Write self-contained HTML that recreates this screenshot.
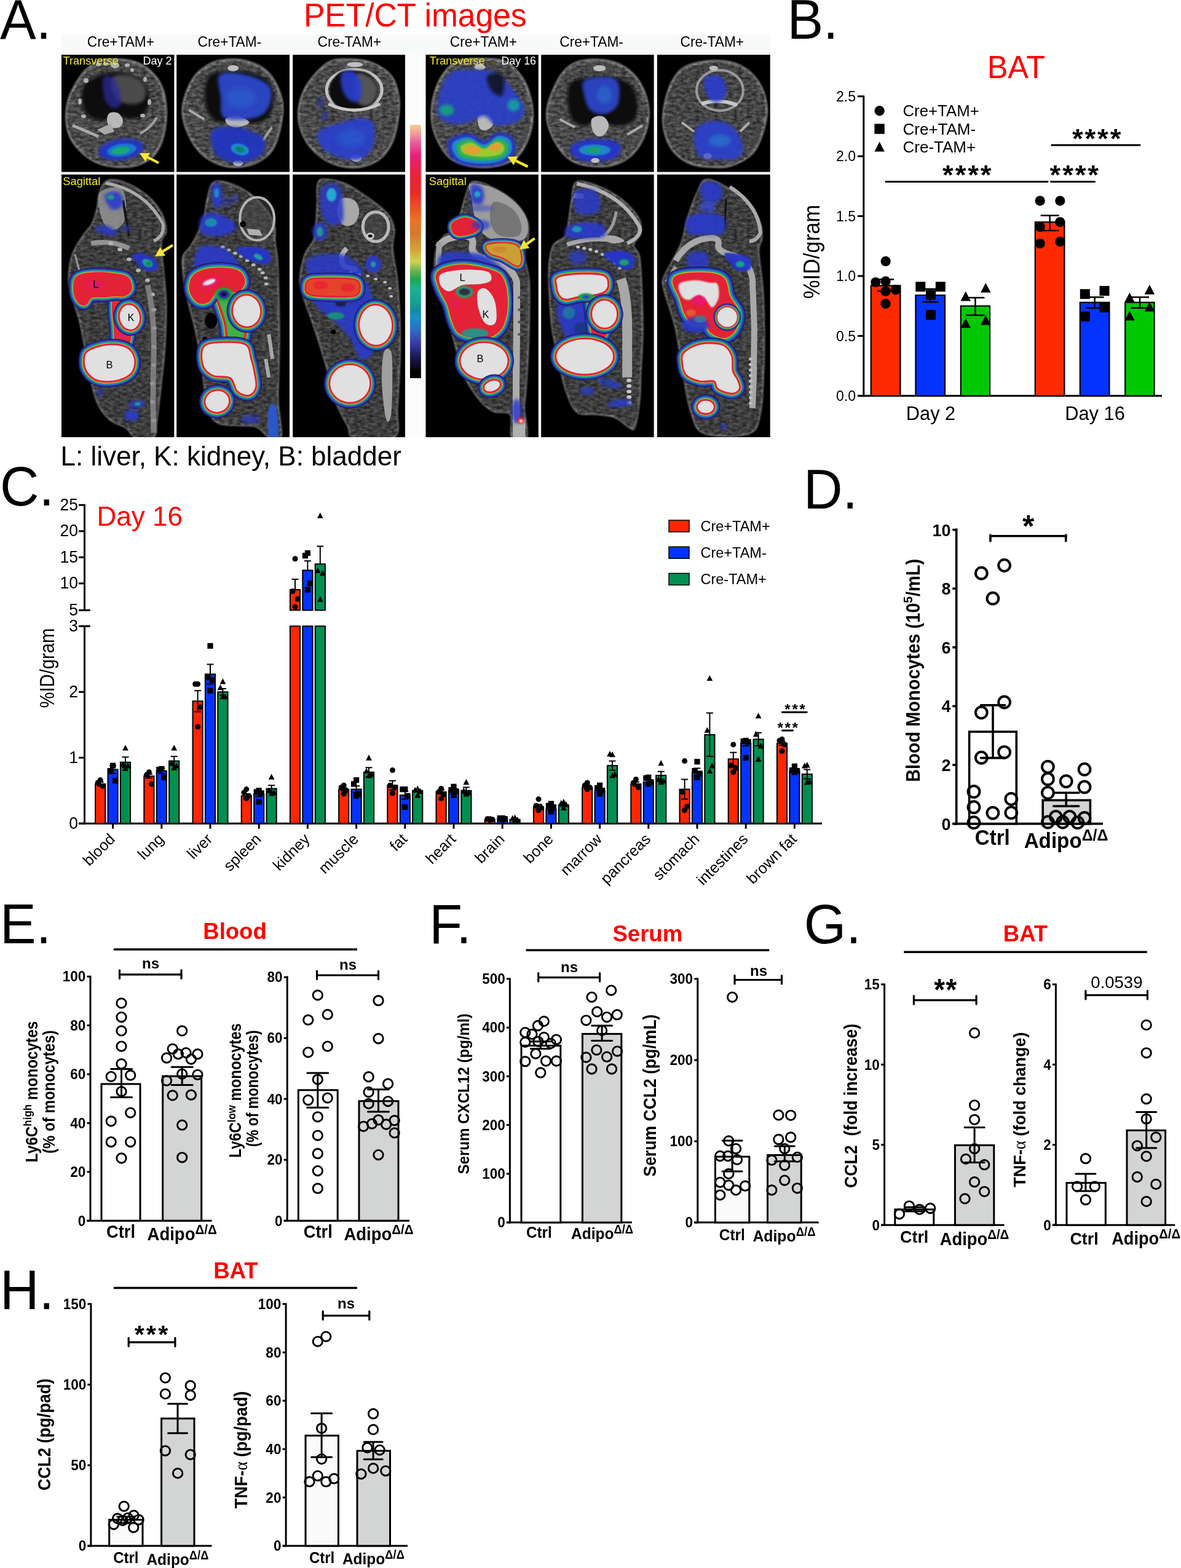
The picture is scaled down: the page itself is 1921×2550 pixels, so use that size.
<!DOCTYPE html>
<html><head><meta charset="utf-8"><title>Figure</title>
<style>html,body{margin:0;padding:0;background:#fff;}svg{display:block;}</style></head>
<body><svg width="1921" height="2550" viewBox="0 0 1921 2550" font-family="'Liberation Sans', Arial, Helvetica, sans-serif">
<defs>
<filter id="b05" x="-100%" y="-100%" width="300%" height="300%"><feGaussianBlur stdDeviation="0.7"/></filter>
<filter id="b1" x="-100%" y="-100%" width="300%" height="300%"><feGaussianBlur stdDeviation="1.2"/></filter>
<filter id="b2" x="-100%" y="-100%" width="300%" height="300%"><feGaussianBlur stdDeviation="2.5"/></filter>
<filter id="b4" x="-100%" y="-100%" width="300%" height="300%"><feGaussianBlur stdDeviation="4"/></filter>
<filter id="b6" x="-100%" y="-100%" width="300%" height="300%"><feGaussianBlur stdDeviation="6"/></filter>
<filter id="tex" x="0" y="0" width="100%" height="100%">
  <feTurbulence type="fractalNoise" baseFrequency="0.35" numOctaves="2" seed="3" result="n"/>
  <feColorMatrix in="n" type="matrix" values="0 0 0 0 0.5  0 0 0 0 0.5  0 0 0 0 0.5  0 0 0 0.9 -0.25" result="g"/>
  <feComposite in="g" in2="SourceGraphic" operator="in" result="gi"/>
  <feBlend in="gi" in2="SourceGraphic" mode="overlay"/>
</filter>
<filter id="noise" x="0" y="0" width="100%" height="100%" filterUnits="objectBoundingBox" color-interpolation-filters="sRGB">
  <feTurbulence type="fractalNoise" baseFrequency="0.13 0.22" numOctaves="3" seed="11" result="t"/>
  <feColorMatrix in="t" type="matrix" values="1 0 0 0 0  1 0 0 0 0  1 0 0 0 0  0 0 0 0 1"/>
</filter>
<linearGradient id="cbar" x1="0" y1="0" x2="0" y2="1">
  <stop offset="0" stop-color="#f7cf8e"/>
  <stop offset="0.03" stop-color="#f4a39a"/>
  <stop offset="0.07" stop-color="#ea5f9c"/>
  <stop offset="0.12" stop-color="#e8217a"/>
  <stop offset="0.19" stop-color="#e8243c"/>
  <stop offset="0.27" stop-color="#e82a28"/>
  <stop offset="0.33" stop-color="#ea5424"/>
  <stop offset="0.38" stop-color="#ec7424"/>
  <stop offset="0.43" stop-color="#d4782e"/>
  <stop offset="0.49" stop-color="#d4a032"/>
  <stop offset="0.54" stop-color="#cad650"/>
  <stop offset="0.575" stop-color="#6cb452"/>
  <stop offset="0.61" stop-color="#1ea64e"/>
  <stop offset="0.645" stop-color="#1cb48e"/>
  <stop offset="0.7" stop-color="#14a096"/>
  <stop offset="0.735" stop-color="#148c9e"/>
  <stop offset="0.76" stop-color="#1890c8"/>
  <stop offset="0.8" stop-color="#2a74c8"/>
  <stop offset="0.84" stop-color="#3a4eb2"/>
  <stop offset="0.88" stop-color="#2e2e8e"/>
  <stop offset="0.92" stop-color="#1c164e"/>
  <stop offset="0.955" stop-color="#0e0c22"/>
  <stop offset="0.97" stop-color="#000"/>
  <stop offset="1" stop-color="#000"/>
</linearGradient>
</defs>
<rect width="1921" height="2550" fill="#fff"/>
<text x="0" y="62.7" font-size="88" transform="translate(0 -2.5) scale(1 1.04)">A.</text><text x="494" y="43" font-size="51.5" fill="#ff0000" transform="translate(0 -1.7) scale(1 1.04)">PET/CT images</text><rect x="100" y="56" width="1153" height="655" fill="#f8f9f9"/><rect x="659" y="89" width="34" height="622" fill="#fbfcfc"/><text x="196.4" y="75.9" font-size="22.7" text-anchor="middle" transform="translate(0 -3) scale(1 1.04)">Cre+TAM+</text><text x="373.4" y="75.9" font-size="22.7" text-anchor="middle" transform="translate(0 -3) scale(1 1.04)">Cre+TAM-</text><text x="568.3" y="75.9" font-size="22.7" text-anchor="middle" transform="translate(0 -3) scale(1 1.04)">Cre-TAM+</text><text x="786.4" y="75.9" font-size="22.7" text-anchor="middle" transform="translate(0 -3) scale(1 1.04)">Cre+TAM+</text><text x="962.1" y="75.9" font-size="22.7" text-anchor="middle" transform="translate(0 -3) scale(1 1.04)">Cre+TAM-</text><text x="1158.3" y="75.9" font-size="22.7" text-anchor="middle" transform="translate(0 -3) scale(1 1.04)">Cre-TAM+</text><clipPath id="ct0"><rect x="100" y="89" width="183.3" height="190.6"/></clipPath><rect x="100" y="89" width="183.3" height="190.6" fill="#000"/><g clip-path="url(#ct0)"><g transform="translate(100 89)"><path d="M62,10 C71.2,7.2 84.5,7.3 95,8 C105.5,8.7 115.8,10 125,14 C134.2,18 143.3,24.7 150,32 C156.7,39.3 161.7,48.3 165,58 C168.3,67.7 169.5,79.7 170,90 C170.5,100.3 169.7,110.3 168,120 C166.3,129.7 163.8,140 160,148 C156.2,156 151.7,162.7 145,168 C138.3,173.3 129.2,177.7 120,180 C110.8,182.3 100,182.7 90,182 C80,181.3 69.2,179.7 60,176 C50.8,172.3 42.5,166.8 35,160 C27.5,153.2 19.5,144.2 15,135 C10.5,125.8 8.5,115.5 8,105 C7.5,94.5 9.2,82 12,72 C14.8,62 20.3,52.8 25,45 C29.7,37.2 33.8,30.8 40,25 C46.2,19.2 52.8,12.8 62,10 Z" fill="#4a4a4a" stroke="#707070" stroke-width="4" filter="url(#b1)"/><clipPath id="bc1"><path d="M62,10 C71.2,7.2 84.5,7.3 95,8 C105.5,8.7 115.8,10 125,14 C134.2,18 143.3,24.7 150,32 C156.7,39.3 161.7,48.3 165,58 C168.3,67.7 169.5,79.7 170,90 C170.5,100.3 169.7,110.3 168,120 C166.3,129.7 163.8,140 160,148 C156.2,156 151.7,162.7 145,168 C138.3,173.3 129.2,177.7 120,180 C110.8,182.3 100,182.7 90,182 C80,181.3 69.2,179.7 60,176 C50.8,172.3 42.5,166.8 35,160 C27.5,153.2 19.5,144.2 15,135 C10.5,125.8 8.5,115.5 8,105 C7.5,94.5 9.2,82 12,72 C14.8,62 20.3,52.8 25,45 C29.7,37.2 33.8,30.8 40,25 C46.2,19.2 52.8,12.8 62,10 Z"/></clipPath><g clip-path="url(#bc1)" style="mix-blend-mode:overlay" opacity="0.75"><rect x="0" y="0" width="190" height="430" filter="url(#noise)"/></g><path d="M40,45 C46.2,39.3 60,33.5 70,31 C80,28.5 90.3,28.5 100,30 C109.7,31.5 121,34.7 128,40 C135,45.3 140,54 142,62 C144,70 142.8,81.2 140,88 C137.2,94.8 131.7,100.5 125,103 C118.3,105.5 106.2,104.2 100,103 C93.8,101.8 92.2,95.5 88,96 C83.8,96.5 81.3,104.7 75,106 C68.7,107.3 56.5,107 50,104 C43.5,101 38.8,94.5 36,88 C33.2,81.5 32.3,72.2 33,65 C33.7,57.8 33.8,50.7 40,45 Z" fill="#0c0c0c" filter="url(#b2)"/><path d="M85,35 C90.5,31.7 106.7,32.5 115,35 C123.3,37.5 131.7,43.8 135,50 C138.3,56.2 137.8,67 135,72 C132.2,77 124.7,79.3 118,80 C111.3,80.7 101,80.2 95,76 C89,71.8 83.7,61.8 82,55 C80.3,48.2 79.5,38.3 85,35 Z" fill="#4c4c4c" filter="url(#b2)"/><path d="M78,95 C81,93 88.3,93 92,95 C95.7,97 99.7,103.2 100,107 C100.3,110.8 97.3,116.2 94,118 C90.7,119.8 83.3,119.8 80,118 C76.7,116.2 74.3,110.8 74,107 C73.7,103.2 75,97 78,95 Z" fill="#b8b8b8"/><path d="M58,122 L80,112 L86,125 L70,130 Z" fill="#a8a8a8"/><path d="M18,115 Q35,122 60,133" stroke="#a8a8a8" stroke-width="5" fill="none"/><path d="M155,102 Q145,120 128,128" stroke="#a0a0a0" stroke-width="4" fill="none"/><ellipse cx="30" cy="76" rx="3" ry="5" fill="#b0b0b0"/><ellipse cx="143" cy="77" rx="3" ry="5" fill="#b0b0b0"/><ellipse cx="40" cy="42" rx="4" ry="4" fill="#b0b0b0"/><ellipse cx="136" cy="40" rx="3" ry="4" fill="#b0b0b0"/><ellipse cx="60" cy="16" rx="4" ry="3" fill="#b0b0b0"/><ellipse cx="72" cy="15" rx="4" ry="3" fill="#b0b0b0"/><ellipse cx="87" cy="17" rx="7" ry="5" fill="#b0b0b0"/><ellipse cx="107" cy="17" rx="4" ry="3" fill="#b0b0b0"/><ellipse cx="115" cy="25" rx="3" ry="3" fill="#b0b0b0"/><ellipse cx="36" cy="100" rx="4" ry="3" fill="#b0b0b0"/><ellipse cx="132" cy="99" rx="4" ry="3" fill="#b0b0b0"/><path d="M68,38 C70.5,32.7 80.5,34.3 85,38 C89.5,41.7 93.2,52.7 95,60 C96.8,67.3 98.2,77.7 96,82 C93.8,86.3 86.3,88 82,86 C77.7,84 72.3,78 70,70 C67.7,62 65.5,43.3 68,38 Z" fill="#2a2a9a" opacity="0.75" filter="url(#b2)"/><path d="M133.6,148.9 C133.9,151 133.3,153.4 131.8,155.7 C130.2,157.9 127.7,160.3 124.6,162.3 C121.5,164.2 117.4,166.2 113.2,167.6 C109,169 104,170.2 99.4,170.8 C94.7,171.5 89.6,171.7 85.2,171.5 C80.7,171.3 76.3,170.6 72.8,169.5 C69.2,168.5 66.1,166.9 64.1,165.2 C62,163.5 60.7,161.3 60.4,159.1 C60.1,157 60.7,154.6 62.2,152.3 C63.8,150.1 66.3,147.7 69.4,145.7 C72.5,143.8 76.6,141.8 80.8,140.4 C85,139 90,137.8 94.6,137.2 C99.3,136.5 104.4,136.3 108.8,136.5 C113.3,136.7 117.7,137.4 121.2,138.5 C124.8,139.5 127.9,141.1 129.9,142.8 C132,144.5 133.3,146.7 133.6,148.9 Z" fill="#2436c8" opacity="0.95" filter="url(#b2)"/><path d="M121.8,151.7 C121.9,152.9 121.5,154.4 120.5,155.7 C119.5,157 117.8,158.4 115.8,159.6 C113.8,160.8 111.1,162 108.4,162.9 C105.6,163.7 102.4,164.5 99.4,164.9 C96.4,165.3 93.1,165.5 90.2,165.4 C87.3,165.3 84.4,165 82.2,164.4 C79.9,163.8 77.9,162.9 76.6,161.9 C75.3,160.9 74.4,159.6 74.2,158.3 C74.1,157.1 74.5,155.6 75.5,154.3 C76.5,153 78.2,151.6 80.2,150.4 C82.2,149.2 84.9,148 87.6,147.1 C90.4,146.3 93.6,145.5 96.6,145.1 C99.6,144.7 102.9,144.5 105.8,144.6 C108.7,144.7 111.6,145 113.8,145.6 C116.1,146.2 118.1,147.1 119.4,148.1 C120.7,149.1 121.6,150.4 121.8,151.7 Z" fill="#1f7fd0" opacity="0.9" filter="url(#b1)"/><path d="M110.9,153.9 C111,154.7 110.7,155.5 110,156.3 C109.4,157.1 108.4,158 107.1,158.7 C105.8,159.4 104.2,160.2 102.5,160.7 C100.7,161.2 98.7,161.7 96.8,161.9 C94.9,162.2 92.9,162.3 91.1,162.3 C89.3,162.2 87.5,162 86.1,161.7 C84.7,161.3 83.4,160.8 82.6,160.2 C81.8,159.6 81.3,158.8 81.1,158.1 C81,157.3 81.3,156.5 82,155.7 C82.6,154.9 83.6,154 84.9,153.3 C86.2,152.6 87.8,151.8 89.5,151.3 C91.3,150.8 93.3,150.3 95.2,150.1 C97.1,149.8 99.1,149.7 100.9,149.7 C102.7,149.8 104.5,150 105.9,150.3 C107.3,150.7 108.6,151.2 109.4,151.8 C110.2,152.4 110.7,153.2 110.9,153.9 Z" fill="#16a878" opacity="1" filter="url(#b1)"/><line x1="158" y1="176" x2="140.3" y2="166.9" stroke="#f5e633" stroke-width="4.2"/><path d="M127,160 L144,159.8 L136.7,174 Z" fill="#f5e633"/></g></g><clipPath id="cs0"><rect x="100" y="283.8" width="183.3" height="427.2"/></clipPath><rect x="100" y="283.8" width="183.3" height="427.2" fill="#000"/><g clip-path="url(#cs0)"><g transform="translate(100 283.8)"><path d="M75,10 C82.2,7.3 94.2,9.8 105,14 C115.8,18.2 130.5,27 140,35 C149.5,43 157,52.5 162,62 C167,71.5 170,84 170,92 C170,100 162.7,98.7 162,110 C161.3,121.3 164.7,143.3 166,160 C167.3,176.7 169.7,190 170,210 C170.3,230 169.3,258.3 168,280 C166.7,301.7 164.2,320 162,340 C159.8,360 157,385.5 155,400 C153,414.5 155.8,422.5 150,427 C144.2,431.5 127.5,429.5 120,427 C112.5,424.5 112,416.8 105,412 C98,407.2 85.8,405 78,398 C70.2,391 63.5,383 58,370 C52.5,357 48.3,335 45,320 C41.7,305 40.5,293.3 38,280 C35.5,266.7 33.3,253.3 30,240 C26.7,226.7 21,211.7 18,200 C15,188.3 12,181.7 12,170 C12,158.3 14.2,141.7 18,130 C21.8,118.3 29.7,108.3 35,100 C40.3,91.7 46.2,87.5 50,80 C53.8,72.5 56,63.3 58,55 C60,46.7 59.2,37.5 62,30 C64.8,22.5 67.8,12.7 75,10 Z" fill="#3e3e3e" stroke="#626262" stroke-width="3" filter="url(#b1)"/><clipPath id="bc2"><path d="M75,10 C82.2,7.3 94.2,9.8 105,14 C115.8,18.2 130.5,27 140,35 C149.5,43 157,52.5 162,62 C167,71.5 170,84 170,92 C170,100 162.7,98.7 162,110 C161.3,121.3 164.7,143.3 166,160 C167.3,176.7 169.7,190 170,210 C170.3,230 169.3,258.3 168,280 C166.7,301.7 164.2,320 162,340 C159.8,360 157,385.5 155,400 C153,414.5 155.8,422.5 150,427 C144.2,431.5 127.5,429.5 120,427 C112.5,424.5 112,416.8 105,412 C98,407.2 85.8,405 78,398 C70.2,391 63.5,383 58,370 C52.5,357 48.3,335 45,320 C41.7,305 40.5,293.3 38,280 C35.5,266.7 33.3,253.3 30,240 C26.7,226.7 21,211.7 18,200 C15,188.3 12,181.7 12,170 C12,158.3 14.2,141.7 18,130 C21.8,118.3 29.7,108.3 35,100 C40.3,91.7 46.2,87.5 50,80 C53.8,72.5 56,63.3 58,55 C60,46.7 59.2,37.5 62,30 C64.8,22.5 67.8,12.7 75,10 Z"/></clipPath><g clip-path="url(#bc2)" style="mix-blend-mode:overlay" opacity="0.75"><rect x="0" y="0" width="190" height="430" filter="url(#noise)"/></g><path d="M72,14 Q135,25 165,80 Q168,100 150,108" stroke="#a9a9a9" stroke-width="5" fill="none"/><path d="M62,30 C67,22 87.8,19.5 95,22 C102.2,24.5 104.2,35.3 105,45 C105.8,54.7 104.2,72.5 100,80 C95.8,87.5 85.8,91.7 80,90 C74.2,88.3 68,80 65,70 C62,60 57,38 62,30 Z" fill="#9a9a9a" opacity="0.8"/><path d="M100,42 L110,100" stroke="#151515" stroke-width="4"/><path d="M48,112 Q80,106 110,120" stroke="#9c9c9c" stroke-width="8" fill="none" opacity="0.9"/><ellipse cx="80" cy="112" rx="4" ry="3" fill="#b5b5b5"/><ellipse cx="95" cy="122" rx="4" ry="3" fill="#b5b5b5"/><ellipse cx="110" cy="138" rx="4" ry="3" fill="#b5b5b5"/><ellipse cx="125" cy="156" rx="4" ry="3" fill="#b5b5b5"/><ellipse cx="140" cy="172" rx="4" ry="3" fill="#b5b5b5"/><ellipse cx="148" cy="195" rx="4" ry="3" fill="#b5b5b5"/><ellipse cx="150" cy="220" rx="4" ry="3" fill="#b5b5b5"/><ellipse cx="151" cy="250" rx="4" ry="3" fill="#b5b5b5"/><ellipse cx="150" cy="280" rx="4" ry="3" fill="#b5b5b5"/><ellipse cx="150" cy="310" rx="4" ry="3" fill="#b5b5b5"/><ellipse cx="148" cy="340" rx="4" ry="3" fill="#b5b5b5"/><ellipse cx="148" cy="370" rx="4" ry="3" fill="#b5b5b5"/><ellipse cx="150" cy="400" rx="4" ry="3" fill="#b5b5b5"/><path d="M140,180 Q152,230 150,300 Q148,360 150,420" stroke="#8c8c8c" stroke-width="9" fill="none" opacity="0.8"/><path d="M22,130 L30,160" stroke="#999" stroke-width="3"/><path d="M70,34 C71.7,29.5 85,27 90,28 C95,29 99.2,35.5 100,40 C100.8,44.5 98.3,52.5 95,55 C91.7,57.5 84.2,58.5 80,55 C75.8,51.5 68.3,38.5 70,34 Z" fill="#2a3acb" opacity="0.9" filter="url(#b2)"/><path d="M86,37 C86,37.5 85.8,38.1 85.5,38.5 C85.3,39 84.8,39.5 84.2,39.8 C83.7,40.2 83,40.5 82.3,40.7 C81.6,40.9 80.8,41 80,41 C79.2,41 78.4,40.9 77.7,40.7 C77,40.5 76.3,40.2 75.8,39.8 C75.2,39.5 74.7,39 74.5,38.5 C74.2,38.1 74,37.5 74,37 C74,36.5 74.2,35.9 74.5,35.5 C74.7,35 75.2,34.5 75.8,34.2 C76.3,33.8 77,33.5 77.7,33.3 C78.4,33.1 79.2,33 80,33 C80.8,33 81.6,33.1 82.3,33.3 C83,33.5 83.7,33.8 84.2,34.2 C84.8,34.5 85.3,35 85.5,35.5 C85.8,35.9 86,36.5 86,37 Z" fill="#20a080" opacity="0.9" filter="url(#b1)"/><path d="M82,89 C82,89.8 81.6,90.6 80.9,91.3 C80.3,92 79.2,92.7 77.9,93.2 C76.6,93.8 75,94.3 73.4,94.5 C71.7,94.8 69.8,95 68,95 C66.2,95 64.3,94.8 62.6,94.5 C61,94.3 59.4,93.8 58.1,93.2 C56.8,92.7 55.7,92 55.1,91.3 C54.4,90.6 54,89.8 54,89 C54,88.2 54.4,87.4 55.1,86.7 C55.7,86 56.8,85.3 58.1,84.8 C59.4,84.2 61,83.7 62.6,83.5 C64.3,83.2 66.2,83 68,83 C69.8,83 71.7,83.2 73.4,83.5 C75,83.7 76.6,84.2 77.9,84.8 C79.2,85.3 80.3,86 80.9,86.7 C81.6,87.4 82,88.2 82,89 Z" fill="#2a3acb" opacity="0.85" filter="url(#b2)"/><path d="M92,94 C92,94.6 91.7,95.3 91.1,95.9 C90.5,96.5 89.6,97.1 88.5,97.5 C87.4,98 86,98.4 84.6,98.6 C83.2,98.9 81.5,99 80,99 C78.5,99 76.8,98.9 75.4,98.6 C74,98.4 72.6,98 71.5,97.5 C70.4,97.1 69.5,96.5 68.9,95.9 C68.3,95.3 68,94.6 68,94 C68,93.4 68.3,92.7 68.9,92.1 C69.5,91.5 70.4,90.9 71.5,90.5 C72.6,90 74,89.6 75.4,89.4 C76.8,89.1 78.5,89 80,89 C81.5,89 83.2,89.1 84.6,89.4 C86,89.6 87.4,90 88.5,90.5 C89.6,90.9 90.5,91.5 91.1,92.1 C91.7,92.7 92,93.4 92,94 Z" fill="#2a3acb" opacity="0.85" filter="url(#b2)"/><path d="M113,88 C113,88.6 112.8,89.3 112.4,89.9 C112,90.5 111.4,91.1 110.7,91.5 C109.9,92 109,92.4 108.1,92.6 C107.1,92.9 106,93 105,93 C104,93 102.9,92.9 101.9,92.6 C101,92.4 100.1,92 99.3,91.5 C98.6,91.1 98,90.5 97.6,89.9 C97.2,89.3 97,88.6 97,88 C97,87.4 97.2,86.7 97.6,86.1 C98,85.5 98.6,84.9 99.3,84.5 C100.1,84 101,83.6 101.9,83.4 C102.9,83.1 104,83 105,83 C106,83 107.1,83.1 108.1,83.4 C109,83.6 109.9,84 110.7,84.5 C111.4,84.9 112,85.5 112.4,86.1 C112.8,86.7 113,87.4 113,88 Z" fill="#2a3acb" opacity="0.6" filter="url(#b2)"/><path d="M115,132 C115.7,128.3 125.8,127 132,128 C138.2,129 148,134 152,138 C156,142 157.3,148.7 156,152 C154.7,155.3 148.7,158.3 144,158 C139.3,157.7 132.8,154.3 128,150 C123.2,145.7 114.3,135.7 115,132 Z" fill="#2535c8" opacity="0.95" filter="url(#b1)"/><path d="M148.2,147.8 C147.8,148.5 147.3,149.1 146.6,149.6 C145.9,150.1 144.9,150.4 144,150.5 C143,150.7 141.9,150.7 140.8,150.5 C139.7,150.3 138.5,149.9 137.5,149.4 C136.4,149 135.4,148.3 134.5,147.6 C133.7,146.9 132.9,146 132.4,145.2 C131.9,144.3 131.6,143.4 131.5,142.6 C131.4,141.7 131.5,140.9 131.8,140.2 C132.2,139.5 132.7,138.9 133.4,138.4 C134.1,137.9 135.1,137.6 136,137.5 C137,137.3 138.1,137.3 139.2,137.5 C140.3,137.7 141.5,138.1 142.5,138.6 C143.6,139 144.6,139.7 145.5,140.4 C146.3,141.1 147.1,142 147.6,142.8 C148.1,143.7 148.4,144.6 148.5,145.4 C148.6,146.3 148.5,147.1 148.2,147.8 Z" fill="#1f9f90" opacity="1" filter="url(#b1)"/><path d="M145.6,146.7 C145.5,147 145.2,147.4 144.9,147.6 C144.5,147.8 144.1,148 143.7,148.1 C143.2,148.2 142.7,148.2 142.2,148.2 C141.7,148.1 141.2,147.9 140.7,147.7 C140.3,147.5 139.8,147.2 139.4,146.9 C139.1,146.5 138.8,146.1 138.5,145.7 C138.3,145.3 138.2,144.9 138.2,144.5 C138.1,144.1 138.2,143.7 138.4,143.3 C138.5,143 138.8,142.6 139.1,142.4 C139.5,142.2 139.9,142 140.3,141.9 C140.8,141.8 141.3,141.8 141.8,141.8 C142.3,141.9 142.8,142.1 143.3,142.3 C143.7,142.5 144.2,142.8 144.6,143.1 C144.9,143.5 145.2,143.9 145.5,144.3 C145.7,144.7 145.8,145.1 145.8,145.5 C145.9,145.9 145.8,146.3 145.6,146.7 Z" fill="#14805a" opacity="1" filter="url(#b1)"/><g filter="url(#b05)"><path d="M88,192 C90.5,187 96.7,186.2 100,190 C103.3,193.8 106,205.8 108,215 C110,224.2 112,235 112,245 C112,255 110,268.3 108,275 C106,281.7 103,284.2 100,285 C97,285.8 92,285.8 90,280 C88,274.2 88.8,260 88,250 C87.2,240 85,229.7 85,220 C85,210.3 85.5,197 88,192 Z" fill="#1c1c70" stroke="#1c1c70" stroke-width="21" stroke-linejoin="round" opacity="0.95"/><path d="M88,192 C90.5,187 96.7,186.2 100,190 C103.3,193.8 106,205.8 108,215 C110,224.2 112,235 112,245 C112,255 110,268.3 108,275 C106,281.7 103,284.2 100,285 C97,285.8 92,285.8 90,280 C88,274.2 88.8,260 88,250 C87.2,240 85,229.7 85,220 C85,210.3 85.5,197 88,192 Z" fill="#2f42b8" stroke="#2f42b8" stroke-width="17.5" stroke-linejoin="round" opacity="1"/><path d="M88,192 C90.5,187 96.7,186.2 100,190 C103.3,193.8 106,205.8 108,215 C110,224.2 112,235 112,245 C112,255 110,268.3 108,275 C106,281.7 103,284.2 100,285 C97,285.8 92,285.8 90,280 C88,274.2 88.8,260 88,250 C87.2,240 85,229.7 85,220 C85,210.3 85.5,197 88,192 Z" fill="#1a8cc0" stroke="#1a8cc0" stroke-width="13.5" stroke-linejoin="round" opacity="1"/><path d="M88,192 C90.5,187 96.7,186.2 100,190 C103.3,193.8 106,205.8 108,215 C110,224.2 112,235 112,245 C112,255 110,268.3 108,275 C106,281.7 103,284.2 100,285 C97,285.8 92,285.8 90,280 C88,274.2 88.8,260 88,250 C87.2,240 85,229.7 85,220 C85,210.3 85.5,197 88,192 Z" fill="#28a850" stroke="#28a850" stroke-width="10.5" stroke-linejoin="round" opacity="1"/><path d="M88,192 C90.5,187 96.7,186.2 100,190 C103.3,193.8 106,205.8 108,215 C110,224.2 112,235 112,245 C112,255 110,268.3 108,275 C106,281.7 103,284.2 100,285 C97,285.8 92,285.8 90,280 C88,274.2 88.8,260 88,250 C87.2,240 85,229.7 85,220 C85,210.3 85.5,197 88,192 Z" fill="#d8c828" stroke="#d8c828" stroke-width="8" stroke-linejoin="round" opacity="1"/><path d="M88,192 C90.5,187 96.7,186.2 100,190 C103.3,193.8 106,205.8 108,215 C110,224.2 112,235 112,245 C112,255 110,268.3 108,275 C106,281.7 103,284.2 100,285 C97,285.8 92,285.8 90,280 C88,274.2 88.8,260 88,250 C87.2,240 85,229.7 85,220 C85,210.3 85.5,197 88,192 Z" fill="#e3203a" stroke="#e3203a" stroke-width="6.2" stroke-linejoin="round" opacity="1"/></g><path d="M88,192 C90.5,187 96.7,186.2 100,190 C103.3,193.8 106,205.8 108,215 C110,224.2 112,235 112,245 C112,255 110,268.3 108,275 C106,281.7 103,284.2 100,285 C97,285.8 92,285.8 90,280 C88,274.2 88.8,260 88,250 C87.2,240 85,229.7 85,220 C85,210.3 85.5,197 88,192 Z" fill="#e23030"/><g filter="url(#b05)"><path d="M26,168 C30.7,163.7 41,162.8 50,162 C59,161.2 70.8,162 80,163 C89.2,164 99.7,164.3 105,168 C110.3,171.7 112.5,180.5 112,185 C111.5,189.5 106,193.3 102,195 C98,196.7 93.3,194.7 88,195 C82.7,195.3 76.7,196.5 70,197 C63.3,197.5 53.3,195.8 48,198 C42.7,200.2 41.3,208.8 38,210 C34.7,211.2 30.7,208.7 28,205 C25.3,201.3 22.3,194.2 22,188 C21.7,181.8 21.3,172.3 26,168 Z" fill="#1c1c70" stroke="#1c1c70" stroke-width="21" stroke-linejoin="round" opacity="0.95"/><path d="M26,168 C30.7,163.7 41,162.8 50,162 C59,161.2 70.8,162 80,163 C89.2,164 99.7,164.3 105,168 C110.3,171.7 112.5,180.5 112,185 C111.5,189.5 106,193.3 102,195 C98,196.7 93.3,194.7 88,195 C82.7,195.3 76.7,196.5 70,197 C63.3,197.5 53.3,195.8 48,198 C42.7,200.2 41.3,208.8 38,210 C34.7,211.2 30.7,208.7 28,205 C25.3,201.3 22.3,194.2 22,188 C21.7,181.8 21.3,172.3 26,168 Z" fill="#2f42b8" stroke="#2f42b8" stroke-width="17.5" stroke-linejoin="round" opacity="1"/><path d="M26,168 C30.7,163.7 41,162.8 50,162 C59,161.2 70.8,162 80,163 C89.2,164 99.7,164.3 105,168 C110.3,171.7 112.5,180.5 112,185 C111.5,189.5 106,193.3 102,195 C98,196.7 93.3,194.7 88,195 C82.7,195.3 76.7,196.5 70,197 C63.3,197.5 53.3,195.8 48,198 C42.7,200.2 41.3,208.8 38,210 C34.7,211.2 30.7,208.7 28,205 C25.3,201.3 22.3,194.2 22,188 C21.7,181.8 21.3,172.3 26,168 Z" fill="#1a8cc0" stroke="#1a8cc0" stroke-width="13.5" stroke-linejoin="round" opacity="1"/><path d="M26,168 C30.7,163.7 41,162.8 50,162 C59,161.2 70.8,162 80,163 C89.2,164 99.7,164.3 105,168 C110.3,171.7 112.5,180.5 112,185 C111.5,189.5 106,193.3 102,195 C98,196.7 93.3,194.7 88,195 C82.7,195.3 76.7,196.5 70,197 C63.3,197.5 53.3,195.8 48,198 C42.7,200.2 41.3,208.8 38,210 C34.7,211.2 30.7,208.7 28,205 C25.3,201.3 22.3,194.2 22,188 C21.7,181.8 21.3,172.3 26,168 Z" fill="#28a850" stroke="#28a850" stroke-width="10.5" stroke-linejoin="round" opacity="1"/><path d="M26,168 C30.7,163.7 41,162.8 50,162 C59,161.2 70.8,162 80,163 C89.2,164 99.7,164.3 105,168 C110.3,171.7 112.5,180.5 112,185 C111.5,189.5 106,193.3 102,195 C98,196.7 93.3,194.7 88,195 C82.7,195.3 76.7,196.5 70,197 C63.3,197.5 53.3,195.8 48,198 C42.7,200.2 41.3,208.8 38,210 C34.7,211.2 30.7,208.7 28,205 C25.3,201.3 22.3,194.2 22,188 C21.7,181.8 21.3,172.3 26,168 Z" fill="#d8c828" stroke="#d8c828" stroke-width="8" stroke-linejoin="round" opacity="1"/><path d="M26,168 C30.7,163.7 41,162.8 50,162 C59,161.2 70.8,162 80,163 C89.2,164 99.7,164.3 105,168 C110.3,171.7 112.5,180.5 112,185 C111.5,189.5 106,193.3 102,195 C98,196.7 93.3,194.7 88,195 C82.7,195.3 76.7,196.5 70,197 C63.3,197.5 53.3,195.8 48,198 C42.7,200.2 41.3,208.8 38,210 C34.7,211.2 30.7,208.7 28,205 C25.3,201.3 22.3,194.2 22,188 C21.7,181.8 21.3,172.3 26,168 Z" fill="#e3203a" stroke="#e3203a" stroke-width="6.2" stroke-linejoin="round" opacity="1"/></g><path d="M26,168 C30.7,163.7 41,162.8 50,162 C59,161.2 70.8,162 80,163 C89.2,164 99.7,164.3 105,168 C110.3,171.7 112.5,180.5 112,185 C111.5,189.5 106,193.3 102,195 C98,196.7 93.3,194.7 88,195 C82.7,195.3 76.7,196.5 70,197 C63.3,197.5 53.3,195.8 48,198 C42.7,200.2 41.3,208.8 38,210 C34.7,211.2 30.7,208.7 28,205 C25.3,201.3 22.3,194.2 22,188 C21.7,181.8 21.3,172.3 26,168 Z" fill="#e42235"/><path d="M69,180 C69,180.9 68.6,181.9 67.9,182.7 C67.3,183.5 66.2,184.3 64.9,184.9 C63.6,185.6 62,186.1 60.4,186.5 C58.7,186.8 56.8,187 55,187 C53.2,187 51.3,186.8 49.6,186.5 C48,186.1 46.4,185.6 45.1,184.9 C43.8,184.3 42.7,183.5 42.1,182.7 C41.4,181.9 41,180.9 41,180 C41,179.1 41.4,178.1 42.1,177.3 C42.7,176.5 43.8,175.7 45.1,175.1 C46.4,174.4 48,173.9 49.6,173.5 C51.3,173.2 53.2,173 55,173 C56.8,173 58.7,173.2 60.4,173.5 C62,173.9 63.6,174.4 64.9,175.1 C66.2,175.7 67.3,176.5 67.9,177.3 C68.6,178.1 69,179.1 69,180 Z" fill="#e0187a" opacity="0.7" filter="url(#b2)"/><path d="M108,262 C108,263.3 107.8,264.6 107.4,265.8 C107,267 106.4,268.2 105.7,269.1 C104.9,270 104,270.8 103.1,271.2 C102.1,271.7 101,272 100,272 C99,272 97.9,271.7 96.9,271.2 C96,270.8 95.1,270 94.3,269.1 C93.6,268.2 93,267 92.6,265.8 C92.2,264.6 92,263.3 92,262 C92,260.7 92.2,259.4 92.6,258.2 C93,257 93.6,255.8 94.3,254.9 C95.1,254 96,253.2 96.9,252.8 C97.9,252.3 99,252 100,252 C101,252 102.1,252.3 103.1,252.8 C104,253.2 104.9,254 105.7,254.9 C106.4,255.8 107,257 107.4,258.2 C107.8,259.4 108,260.7 108,262 Z" fill="#e0187a" opacity="0.6" filter="url(#b2)"/><g filter="url(#b05)"><path d="M126.8,229.2 C127.2,231.7 127.2,234.5 126.9,237 C126.5,239.4 125.7,241.9 124.6,244 C123.5,246 121.9,247.8 120.2,249.1 C118.6,250.4 116.5,251.3 114.5,251.7 C112.5,252.1 110.2,251.9 108.2,251.3 C106.2,250.6 104,249.4 102.3,247.9 C100.6,246.4 99,244.3 97.8,242.1 C96.6,239.9 95.7,237.3 95.2,234.8 C94.8,232.3 94.8,229.5 95.1,227 C95.5,224.6 96.3,222.1 97.4,220 C98.5,218 100.1,216.2 101.8,214.9 C103.4,213.6 105.5,212.7 107.5,212.3 C109.5,211.9 111.8,212.1 113.8,212.7 C115.8,213.4 118,214.6 119.7,216.1 C121.4,217.6 123,219.7 124.2,221.9 C125.4,224.1 126.3,226.7 126.8,229.2 Z" fill="#1c1c70" stroke="#1c1c70" stroke-width="21" stroke-linejoin="round" opacity="0.95"/><path d="M126.8,229.2 C127.2,231.7 127.2,234.5 126.9,237 C126.5,239.4 125.7,241.9 124.6,244 C123.5,246 121.9,247.8 120.2,249.1 C118.6,250.4 116.5,251.3 114.5,251.7 C112.5,252.1 110.2,251.9 108.2,251.3 C106.2,250.6 104,249.4 102.3,247.9 C100.6,246.4 99,244.3 97.8,242.1 C96.6,239.9 95.7,237.3 95.2,234.8 C94.8,232.3 94.8,229.5 95.1,227 C95.5,224.6 96.3,222.1 97.4,220 C98.5,218 100.1,216.2 101.8,214.9 C103.4,213.6 105.5,212.7 107.5,212.3 C109.5,211.9 111.8,212.1 113.8,212.7 C115.8,213.4 118,214.6 119.7,216.1 C121.4,217.6 123,219.7 124.2,221.9 C125.4,224.1 126.3,226.7 126.8,229.2 Z" fill="#2f42b8" stroke="#2f42b8" stroke-width="17.5" stroke-linejoin="round" opacity="1"/><path d="M126.8,229.2 C127.2,231.7 127.2,234.5 126.9,237 C126.5,239.4 125.7,241.9 124.6,244 C123.5,246 121.9,247.8 120.2,249.1 C118.6,250.4 116.5,251.3 114.5,251.7 C112.5,252.1 110.2,251.9 108.2,251.3 C106.2,250.6 104,249.4 102.3,247.9 C100.6,246.4 99,244.3 97.8,242.1 C96.6,239.9 95.7,237.3 95.2,234.8 C94.8,232.3 94.8,229.5 95.1,227 C95.5,224.6 96.3,222.1 97.4,220 C98.5,218 100.1,216.2 101.8,214.9 C103.4,213.6 105.5,212.7 107.5,212.3 C109.5,211.9 111.8,212.1 113.8,212.7 C115.8,213.4 118,214.6 119.7,216.1 C121.4,217.6 123,219.7 124.2,221.9 C125.4,224.1 126.3,226.7 126.8,229.2 Z" fill="#1a8cc0" stroke="#1a8cc0" stroke-width="13.5" stroke-linejoin="round" opacity="1"/><path d="M126.8,229.2 C127.2,231.7 127.2,234.5 126.9,237 C126.5,239.4 125.7,241.9 124.6,244 C123.5,246 121.9,247.8 120.2,249.1 C118.6,250.4 116.5,251.3 114.5,251.7 C112.5,252.1 110.2,251.9 108.2,251.3 C106.2,250.6 104,249.4 102.3,247.9 C100.6,246.4 99,244.3 97.8,242.1 C96.6,239.9 95.7,237.3 95.2,234.8 C94.8,232.3 94.8,229.5 95.1,227 C95.5,224.6 96.3,222.1 97.4,220 C98.5,218 100.1,216.2 101.8,214.9 C103.4,213.6 105.5,212.7 107.5,212.3 C109.5,211.9 111.8,212.1 113.8,212.7 C115.8,213.4 118,214.6 119.7,216.1 C121.4,217.6 123,219.7 124.2,221.9 C125.4,224.1 126.3,226.7 126.8,229.2 Z" fill="#28a850" stroke="#28a850" stroke-width="10.5" stroke-linejoin="round" opacity="1"/><path d="M126.8,229.2 C127.2,231.7 127.2,234.5 126.9,237 C126.5,239.4 125.7,241.9 124.6,244 C123.5,246 121.9,247.8 120.2,249.1 C118.6,250.4 116.5,251.3 114.5,251.7 C112.5,252.1 110.2,251.9 108.2,251.3 C106.2,250.6 104,249.4 102.3,247.9 C100.6,246.4 99,244.3 97.8,242.1 C96.6,239.9 95.7,237.3 95.2,234.8 C94.8,232.3 94.8,229.5 95.1,227 C95.5,224.6 96.3,222.1 97.4,220 C98.5,218 100.1,216.2 101.8,214.9 C103.4,213.6 105.5,212.7 107.5,212.3 C109.5,211.9 111.8,212.1 113.8,212.7 C115.8,213.4 118,214.6 119.7,216.1 C121.4,217.6 123,219.7 124.2,221.9 C125.4,224.1 126.3,226.7 126.8,229.2 Z" fill="#d8c828" stroke="#d8c828" stroke-width="8" stroke-linejoin="round" opacity="1"/><path d="M126.8,229.2 C127.2,231.7 127.2,234.5 126.9,237 C126.5,239.4 125.7,241.9 124.6,244 C123.5,246 121.9,247.8 120.2,249.1 C118.6,250.4 116.5,251.3 114.5,251.7 C112.5,252.1 110.2,251.9 108.2,251.3 C106.2,250.6 104,249.4 102.3,247.9 C100.6,246.4 99,244.3 97.8,242.1 C96.6,239.9 95.7,237.3 95.2,234.8 C94.8,232.3 94.8,229.5 95.1,227 C95.5,224.6 96.3,222.1 97.4,220 C98.5,218 100.1,216.2 101.8,214.9 C103.4,213.6 105.5,212.7 107.5,212.3 C109.5,211.9 111.8,212.1 113.8,212.7 C115.8,213.4 118,214.6 119.7,216.1 C121.4,217.6 123,219.7 124.2,221.9 C125.4,224.1 126.3,226.7 126.8,229.2 Z" fill="#e3203a" stroke="#e3203a" stroke-width="6.2" stroke-linejoin="round" opacity="1"/></g><path d="M126.8,229.2 C127.2,231.7 127.2,234.5 126.9,237 C126.5,239.4 125.7,241.9 124.6,244 C123.5,246 121.9,247.8 120.2,249.1 C118.6,250.4 116.5,251.3 114.5,251.7 C112.5,252.1 110.2,251.9 108.2,251.3 C106.2,250.6 104,249.4 102.3,247.9 C100.6,246.4 99,244.3 97.8,242.1 C96.6,239.9 95.7,237.3 95.2,234.8 C94.8,232.3 94.8,229.5 95.1,227 C95.5,224.6 96.3,222.1 97.4,220 C98.5,218 100.1,216.2 101.8,214.9 C103.4,213.6 105.5,212.7 107.5,212.3 C109.5,211.9 111.8,212.1 113.8,212.7 C115.8,213.4 118,214.6 119.7,216.1 C121.4,217.6 123,219.7 124.2,221.9 C125.4,224.1 126.3,226.7 126.8,229.2 Z" fill="#e0e0e0"/><g filter="url(#b05)"><path d="M45,287 C51.2,283.3 65,278.8 75,278 C85,277.2 97.8,278.3 105,282 C112.2,285.7 116.7,293.3 118,300 C119.3,306.7 117.7,316.3 113,322 C108.3,327.7 98.8,332 90,334 C81.2,336 68,336.3 60,334 C52,331.7 45.7,325.7 42,320 C38.3,314.3 37.5,305.5 38,300 C38.5,294.5 38.8,290.7 45,287 Z" fill="#1c1c70" stroke="#1c1c70" stroke-width="21" stroke-linejoin="round" opacity="0.95"/><path d="M45,287 C51.2,283.3 65,278.8 75,278 C85,277.2 97.8,278.3 105,282 C112.2,285.7 116.7,293.3 118,300 C119.3,306.7 117.7,316.3 113,322 C108.3,327.7 98.8,332 90,334 C81.2,336 68,336.3 60,334 C52,331.7 45.7,325.7 42,320 C38.3,314.3 37.5,305.5 38,300 C38.5,294.5 38.8,290.7 45,287 Z" fill="#2f42b8" stroke="#2f42b8" stroke-width="17.5" stroke-linejoin="round" opacity="1"/><path d="M45,287 C51.2,283.3 65,278.8 75,278 C85,277.2 97.8,278.3 105,282 C112.2,285.7 116.7,293.3 118,300 C119.3,306.7 117.7,316.3 113,322 C108.3,327.7 98.8,332 90,334 C81.2,336 68,336.3 60,334 C52,331.7 45.7,325.7 42,320 C38.3,314.3 37.5,305.5 38,300 C38.5,294.5 38.8,290.7 45,287 Z" fill="#1a8cc0" stroke="#1a8cc0" stroke-width="13.5" stroke-linejoin="round" opacity="1"/><path d="M45,287 C51.2,283.3 65,278.8 75,278 C85,277.2 97.8,278.3 105,282 C112.2,285.7 116.7,293.3 118,300 C119.3,306.7 117.7,316.3 113,322 C108.3,327.7 98.8,332 90,334 C81.2,336 68,336.3 60,334 C52,331.7 45.7,325.7 42,320 C38.3,314.3 37.5,305.5 38,300 C38.5,294.5 38.8,290.7 45,287 Z" fill="#28a850" stroke="#28a850" stroke-width="10.5" stroke-linejoin="round" opacity="1"/><path d="M45,287 C51.2,283.3 65,278.8 75,278 C85,277.2 97.8,278.3 105,282 C112.2,285.7 116.7,293.3 118,300 C119.3,306.7 117.7,316.3 113,322 C108.3,327.7 98.8,332 90,334 C81.2,336 68,336.3 60,334 C52,331.7 45.7,325.7 42,320 C38.3,314.3 37.5,305.5 38,300 C38.5,294.5 38.8,290.7 45,287 Z" fill="#d8c828" stroke="#d8c828" stroke-width="8" stroke-linejoin="round" opacity="1"/><path d="M45,287 C51.2,283.3 65,278.8 75,278 C85,277.2 97.8,278.3 105,282 C112.2,285.7 116.7,293.3 118,300 C119.3,306.7 117.7,316.3 113,322 C108.3,327.7 98.8,332 90,334 C81.2,336 68,336.3 60,334 C52,331.7 45.7,325.7 42,320 C38.3,314.3 37.5,305.5 38,300 C38.5,294.5 38.8,290.7 45,287 Z" fill="#e3203a" stroke="#e3203a" stroke-width="6.2" stroke-linejoin="round" opacity="1"/></g><path d="M45,287 C51.2,283.3 65,278.8 75,278 C85,277.2 97.8,278.3 105,282 C112.2,285.7 116.7,293.3 118,300 C119.3,306.7 117.7,316.3 113,322 C108.3,327.7 98.8,332 90,334 C81.2,336 68,336.3 60,334 C52,331.7 45.7,325.7 42,320 C38.3,314.3 37.5,305.5 38,300 C38.5,294.5 38.8,290.7 45,287 Z" fill="#e0e0e0"/><path d="M135.8,371.6 C135.9,372.3 135.7,373.2 135.1,374 C134.6,374.8 133.6,375.7 132.5,376.5 C131.3,377.2 129.8,378 128.2,378.5 C126.7,379.1 124.8,379.6 123,379.9 C121.3,380.2 119.4,380.4 117.7,380.4 C116,380.4 114.3,380.2 113,379.9 C111.7,379.6 110.5,379.1 109.7,378.5 C108.9,377.9 108.3,377.2 108.2,376.4 C108.1,375.7 108.3,374.8 108.9,374 C109.4,373.2 110.4,372.3 111.5,371.5 C112.7,370.8 114.2,370 115.8,369.5 C117.3,368.9 119.2,368.4 121,368.1 C122.7,367.8 124.6,367.6 126.3,367.6 C128,367.6 129.7,367.8 131,368.1 C132.3,368.4 133.5,368.9 134.3,369.5 C135.1,370.1 135.7,370.8 135.8,371.6 Z" fill="#2a3acb" opacity="0.9" filter="url(#b2)"/><path d="M129,373 C129,373.4 128.9,373.8 128.6,374.1 C128.4,374.5 128,374.9 127.5,375.1 C127.1,375.4 126.5,375.6 125.9,375.8 C125.3,375.9 124.6,376 124,376 C123.4,376 122.7,375.9 122.1,375.8 C121.5,375.6 120.9,375.4 120.5,375.1 C120,374.9 119.6,374.5 119.4,374.1 C119.1,373.8 119,373.4 119,373 C119,372.6 119.1,372.2 119.4,371.9 C119.6,371.5 120,371.1 120.5,370.9 C120.9,370.6 121.5,370.4 122.1,370.2 C122.7,370.1 123.4,370 124,370 C124.6,370 125.3,370.1 125.9,370.2 C126.5,370.4 127.1,370.6 127.5,370.9 C128,371.1 128.4,371.5 128.6,371.9 C128.9,372.2 129,372.6 129,373 Z" fill="#20a0a0" opacity="0.9" filter="url(#b1)"/><path d="M126,392 C126,393.1 125.7,394.4 125.1,395.4 C124.5,396.5 123.6,397.6 122.5,398.4 C121.4,399.2 120,399.9 118.6,400.3 C117.2,400.8 115.5,401 114,401 C112.5,401 110.8,400.8 109.4,400.3 C108,399.9 106.6,399.2 105.5,398.4 C104.4,397.6 103.5,396.5 102.9,395.4 C102.3,394.4 102,393.1 102,392 C102,390.9 102.3,389.6 102.9,388.6 C103.5,387.5 104.4,386.4 105.5,385.6 C106.6,384.8 108,384.1 109.4,383.7 C110.8,383.2 112.5,383 114,383 C115.5,383 117.2,383.2 118.6,383.7 C120,384.1 121.4,384.8 122.5,385.6 C123.6,386.4 124.5,387.5 125.1,388.6 C125.7,389.6 126,390.9 126,392 Z" fill="#2a3acb" opacity="0.9" filter="url(#b2)"/><path d="M67,355 C67,356 66.9,357.1 66.6,358.1 C66.4,359 66,359.9 65.5,360.7 C65.1,361.4 64.5,362 63.9,362.4 C63.3,362.8 62.6,363 62,363 C61.4,363 60.7,362.8 60.1,362.4 C59.5,362 58.9,361.4 58.5,360.7 C58,359.9 57.6,359 57.4,358.1 C57.1,357.1 57,356 57,355 C57,354 57.1,352.9 57.4,351.9 C57.6,351 58,350.1 58.5,349.3 C58.9,348.6 59.5,348 60.1,347.6 C60.7,347.2 61.4,347 62,347 C62.6,347 63.3,347.2 63.9,347.6 C64.5,348 65.1,348.6 65.5,349.3 C66,350.1 66.4,351 66.6,351.9 C66.9,352.9 67,354 67,355 Z" fill="#2a3acb" opacity="0.5" filter="url(#b2)"/><line x1="181" y1="115" x2="164.7" y2="125.1" stroke="#f5e633" stroke-width="4.2"/><path d="M152,133 L160.5,118.3 L169,131.9 Z" fill="#f5e633"/></g></g><clipPath id="ct1"><rect x="287.2" y="89" width="183.8" height="190.6"/></clipPath><rect x="287.2" y="89" width="183.8" height="190.6" fill="#000"/><g clip-path="url(#ct1)"><g transform="translate(287.2 89)"><path d="M70,10 C79.2,8.5 93.3,7 105,9 C116.7,11 130.8,16 140,22 C149.2,28 154.7,35.3 160,45 C165.3,54.7 170.7,67.5 172,80 C173.3,92.5 170.8,107.5 168,120 C165.2,132.5 161.3,145.8 155,155 C148.7,164.2 139.2,170.5 130,175 C120.8,179.5 110,181.5 100,182 C90,182.5 80,181.7 70,178 C60,174.3 48.3,168 40,160 C31.7,152 25,140.8 20,130 C15,119.2 10.8,105.8 10,95 C9.2,84.2 11.7,75 15,65 C18.3,55 24.2,42.8 30,35 C35.8,27.2 43.3,22.2 50,18 C56.7,13.8 60.8,11.5 70,10 Z" fill="#4a4a4a" stroke="#707070" stroke-width="4" filter="url(#b1)"/><clipPath id="bc3"><path d="M70,10 C79.2,8.5 93.3,7 105,9 C116.7,11 130.8,16 140,22 C149.2,28 154.7,35.3 160,45 C165.3,54.7 170.7,67.5 172,80 C173.3,92.5 170.8,107.5 168,120 C165.2,132.5 161.3,145.8 155,155 C148.7,164.2 139.2,170.5 130,175 C120.8,179.5 110,181.5 100,182 C90,182.5 80,181.7 70,178 C60,174.3 48.3,168 40,160 C31.7,152 25,140.8 20,130 C15,119.2 10.8,105.8 10,95 C9.2,84.2 11.7,75 15,65 C18.3,55 24.2,42.8 30,35 C35.8,27.2 43.3,22.2 50,18 C56.7,13.8 60.8,11.5 70,10 Z"/></clipPath><g clip-path="url(#bc3)" style="mix-blend-mode:overlay" opacity="0.75"><rect x="0" y="0" width="190" height="430" filter="url(#noise)"/></g><path d="M52,35 C57.7,28 69.5,29.2 80,28 C90.5,26.8 103.7,25.7 115,28 C126.3,30.3 140.8,35 148,42 C155.2,49 157.7,60.3 158,70 C158.3,79.7 155.5,93 150,100 C144.5,107 133.3,111.5 125,112 C116.7,112.5 108.3,103.3 100,103 C91.7,102.7 82.5,110.5 75,110 C67.5,109.5 59.8,106.7 55,100 C50.2,93.3 46.5,80.8 46,70 C45.5,59.2 46.3,42 52,35 Z" fill="#0c0c0c" filter="url(#b2)"/><path d="M80,104 C82.5,101.5 93.7,99 100,100 C106.3,101 118,107 118,110 C118,113 105.5,117.2 100,118 C94.5,118.8 88.3,117.3 85,115 C81.7,112.7 77.5,106.5 80,104 Z" fill="#b8b8b8"/><path d="M20,90 L45,105" stroke="#a8a8a8" stroke-width="4"/><path d="M155,118 L140,140" stroke="#a0a0a0" stroke-width="4"/><ellipse cx="92" cy="22" rx="9" ry="5" fill="#bdbdbd"/><ellipse cx="100" cy="176" rx="8" ry="5" fill="#c0c0c0"/><path d="M70,33 C76.3,26.7 96.7,29.2 110,32 C123.3,34.8 143,42 150,50 C157,58 154.5,71.7 152,80 C149.5,88.3 143.7,95.7 135,100 C126.3,104.3 110,106 100,106 C90,106 79.7,106 75,100 C70.3,94 72.8,81.2 72,70 C71.2,58.8 63.7,39.3 70,33 Z" fill="#2f4ad0" opacity="0.92" filter="url(#b2)"/><path d="M130,70 C130,71.9 129.3,74 128.1,75.7 C126.9,77.5 124.9,79.3 122.7,80.6 C120.4,82 117.5,83.1 114.6,83.9 C111.6,84.6 108.2,85 105,85 C101.8,85 98.4,84.6 95.4,83.9 C92.5,83.1 89.6,82 87.3,80.6 C85.1,79.3 83.1,77.5 81.9,75.7 C80.7,74 80,71.9 80,70 C80,68.1 80.7,66 81.9,64.3 C83.1,62.5 85.1,60.7 87.3,59.4 C89.6,58 92.5,56.9 95.4,56.1 C98.4,55.4 101.8,55 105,55 C108.2,55 111.6,55.4 114.6,56.1 C117.5,56.9 120.4,58 122.7,59.4 C124.9,60.7 126.9,62.5 128.1,64.3 C129.3,66 130,68.1 130,70 Z" fill="#2a6ad0" opacity="0.5" filter="url(#b4)"/><path d="M60,122 C67,116.7 86.7,115.8 100,118 C113.3,120.2 133.3,128 140,135 C146.7,142 145,153.3 140,160 C135,166.7 120.8,173.3 110,175 C99.2,176.7 83.7,174.2 75,170 C66.3,165.8 60.5,158 58,150 C55.5,142 53,127.3 60,122 Z" fill="#2434c0" opacity="0.95" filter="url(#b2)"/><path d="M117.5,157.9 C117.2,159 116.5,160.1 115.5,160.9 C114.5,161.7 113.1,162.5 111.6,162.9 C110.1,163.3 108.2,163.6 106.4,163.5 C104.6,163.5 102.5,163.2 100.7,162.7 C98.8,162.2 96.9,161.4 95.3,160.5 C93.7,159.7 92.2,158.5 91.1,157.4 C90,156.3 89.2,155 88.7,153.7 C88.3,152.5 88.2,151.2 88.5,150.1 C88.8,149 89.5,147.9 90.5,147.1 C91.5,146.3 92.9,145.5 94.4,145.1 C95.9,144.7 97.8,144.4 99.6,144.5 C101.4,144.5 103.5,144.8 105.3,145.3 C107.2,145.8 109.1,146.6 110.7,147.5 C112.3,148.3 113.8,149.5 114.9,150.6 C116,151.7 116.8,153 117.3,154.3 C117.7,155.5 117.8,156.8 117.5,157.9 Z" fill="#1f8fd0" opacity="0.95" filter="url(#b1)"/><path d="M110.7,156.1 C110.6,156.7 110.2,157.3 109.6,157.8 C109.1,158.2 108.4,158.6 107.5,158.9 C106.7,159.1 105.7,159.3 104.8,159.3 C103.8,159.2 102.7,159.1 101.7,158.8 C100.7,158.6 99.7,158.1 98.8,157.7 C98,157.2 97.2,156.6 96.6,156 C96,155.3 95.6,154.6 95.4,153.9 C95.1,153.3 95.1,152.5 95.3,151.9 C95.4,151.3 95.8,150.7 96.4,150.2 C96.9,149.8 97.6,149.4 98.5,149.1 C99.3,148.9 100.3,148.7 101.2,148.7 C102.2,148.8 103.3,148.9 104.3,149.2 C105.3,149.4 106.3,149.9 107.2,150.3 C108,150.8 108.8,151.4 109.4,152 C110,152.7 110.4,153.4 110.6,154.1 C110.9,154.7 110.9,155.5 110.7,156.1 Z" fill="#10806a" opacity="1" filter="url(#b1)"/></g></g><clipPath id="cs1"><rect x="287.2" y="283.8" width="183.8" height="427.2"/></clipPath><rect x="287.2" y="283.8" width="183.8" height="427.2" fill="#000"/><g clip-path="url(#cs1)"><g transform="translate(287.2 283.8)"><path d="M62,12 C70.3,8.7 87.8,14.5 100,20 C112.2,25.5 125.3,35 135,45 C144.7,55 153.8,69.2 158,80 C162.2,90.8 159,100 160,110 C161,120 163,125 164,140 C165,155 165.5,180 166,200 C166.5,220 167,240 167,260 C167,280 166.3,301.7 166,320 C165.7,338.3 164.3,352.2 165,370 C165.7,387.8 172.5,417.5 170,427 C167.5,436.5 156.7,429.8 150,427 C143.3,424.2 138.3,413.2 130,410 C121.7,406.8 110,408.8 100,408 C90,407.2 77.5,408 70,405 C62.5,402 59,399.2 55,390 C51,380.8 48.5,365 46,350 C43.5,335 42.7,316.7 40,300 C37.3,283.3 33.3,265 30,250 C26.7,235 23,223.3 20,210 C17,196.7 13.7,182.5 12,170 C10.3,157.5 8.3,143.7 10,135 C11.7,126.3 17.8,124.7 22,118 C26.2,111.3 31.2,103 35,95 C38.8,87 42.5,79.2 45,70 C47.5,60.8 47.2,49.7 50,40 C52.8,30.3 53.7,15.3 62,12 Z" fill="#3e3e3e" stroke="#626262" stroke-width="3" filter="url(#b1)"/><clipPath id="bc4"><path d="M62,12 C70.3,8.7 87.8,14.5 100,20 C112.2,25.5 125.3,35 135,45 C144.7,55 153.8,69.2 158,80 C162.2,90.8 159,100 160,110 C161,120 163,125 164,140 C165,155 165.5,180 166,200 C166.5,220 167,240 167,260 C167,280 166.3,301.7 166,320 C165.7,338.3 164.3,352.2 165,370 C165.7,387.8 172.5,417.5 170,427 C167.5,436.5 156.7,429.8 150,427 C143.3,424.2 138.3,413.2 130,410 C121.7,406.8 110,408.8 100,408 C90,407.2 77.5,408 70,405 C62.5,402 59,399.2 55,390 C51,380.8 48.5,365 46,350 C43.5,335 42.7,316.7 40,300 C37.3,283.3 33.3,265 30,250 C26.7,235 23,223.3 20,210 C17,196.7 13.7,182.5 12,170 C10.3,157.5 8.3,143.7 10,135 C11.7,126.3 17.8,124.7 22,118 C26.2,111.3 31.2,103 35,95 C38.8,87 42.5,79.2 45,70 C47.5,60.8 47.2,49.7 50,40 C52.8,30.3 53.7,15.3 62,12 Z"/></clipPath><g clip-path="url(#bc4)" style="mix-blend-mode:overlay" opacity="0.75"><rect x="0" y="0" width="190" height="430" filter="url(#noise)"/></g><ellipse cx="131" cy="72" rx="28" ry="35" fill="#4a4a4a" fill-opacity="0.5" stroke="#b4b4b4" stroke-width="4"/><ellipse cx="108" cy="81" rx="5" ry="5" fill="#000"/><path d="M114,88 L135,90 L140,100 L118,98 Z" fill="#b0b0b0"/><ellipse cx="75" cy="118" rx="3.5" ry="2.5" fill="#b5b5b5"/><ellipse cx="85" cy="123" rx="3.5" ry="2.5" fill="#b5b5b5"/><ellipse cx="95" cy="128" rx="3.5" ry="2.5" fill="#b5b5b5"/><ellipse cx="105" cy="133" rx="3.5" ry="2.5" fill="#b5b5b5"/><ellipse cx="115" cy="140" rx="3.5" ry="2.5" fill="#b5b5b5"/><ellipse cx="125" cy="147" rx="3.5" ry="2.5" fill="#b5b5b5"/><ellipse cx="135" cy="154" rx="3.5" ry="2.5" fill="#b5b5b5"/><ellipse cx="140" cy="160" rx="3.5" ry="2.5" fill="#b5b5b5"/><ellipse cx="145" cy="168" rx="3.5" ry="2.5" fill="#b5b5b5"/><ellipse cx="146" cy="178" rx="3.5" ry="2.5" fill="#b5b5b5"/><path d="M150,260 L156,300 M145,300 L150,330" stroke="#a8a8a8" stroke-width="6"/><ellipse cx="56" cy="238" rx="10" ry="13" fill="#000"/><circle cx="46" cy="268" r="4" fill="#000"/><path d="M58,16 C60.3,11.5 69.3,14 72,18 C74.7,22 75,33.8 74,40 C73,46.2 68.7,54.2 66,55 C63.3,55.8 59.3,51.5 58,45 C56.7,38.5 55.7,20.5 58,16 Z" fill="#2a3acb" opacity="0.9" filter="url(#b2)"/><path d="M69,30 C69,31 68.9,32.1 68.7,33.1 C68.5,34 68.2,34.9 67.8,35.7 C67.5,36.4 67,37 66.5,37.4 C66.1,37.8 65.5,38 65,38 C64.5,38 63.9,37.8 63.5,37.4 C63,37 62.5,36.4 62.2,35.7 C61.8,34.9 61.5,34 61.3,33.1 C61.1,32.1 61,31 61,30 C61,29 61.1,27.9 61.3,26.9 C61.5,26 61.8,25.1 62.2,24.3 C62.5,23.6 63,23 63.5,22.6 C63.9,22.2 64.5,22 65,22 C65.5,22 66.1,22.2 66.5,22.6 C67,23 67.5,23.6 67.8,24.3 C68.2,25.1 68.5,26 68.7,26.9 C68.9,27.9 69,29 69,30 Z" fill="#2090c0" opacity="0.9" filter="url(#b1)"/><path d="M40,70 C43.3,64.5 51.7,61.2 60,62 C68.3,62.8 84.2,70.3 90,75 C95.8,79.7 98.3,85.8 95,90 C91.7,94.2 79.2,99.2 70,100 C60.8,100.8 45,100 40,95 C35,90 36.7,75.5 40,70 Z" fill="#2a3acb" opacity="0.92" filter="url(#b2)"/><path d="M66,78 C66,78.9 65.7,79.9 65.2,80.7 C64.8,81.5 64,82.3 63.1,82.9 C62.2,83.6 61,84.1 59.8,84.5 C58.6,84.8 57.3,85 56,85 C54.7,85 53.4,84.8 52.2,84.5 C51,84.1 49.8,83.6 48.9,82.9 C48,82.3 47.2,81.5 46.8,80.7 C46.3,79.9 46,78.9 46,78 C46,77.1 46.3,76.1 46.8,75.3 C47.2,74.5 48,73.7 48.9,73.1 C49.8,72.4 51,71.9 52.2,71.5 C53.4,71.2 54.7,71 56,71 C57.3,71 58.6,71.2 59.8,71.5 C61,71.9 62.2,72.4 63.1,73.1 C64,73.7 64.8,74.5 65.2,75.3 C65.7,76.1 66,77.1 66,78 Z" fill="#1f90b0" opacity="0.9" filter="url(#b1)"/><path d="M92,45 C92,46 91.7,47.1 91.1,48.1 C90.5,49 89.6,49.9 88.5,50.7 C87.4,51.4 86,52 84.6,52.4 C83.2,52.8 81.5,53 80,53 C78.5,53 76.8,52.8 75.4,52.4 C74,52 72.6,51.4 71.5,50.7 C70.4,49.9 69.5,49 68.9,48.1 C68.3,47.1 68,46 68,45 C68,44 68.3,42.9 68.9,41.9 C69.5,41 70.4,40.1 71.5,39.3 C72.6,38.6 74,38 75.4,37.6 C76.8,37.2 78.5,37 80,37 C81.5,37 83.2,37.2 84.6,37.6 C86,38 87.4,38.6 88.5,39.3 C89.6,40.1 90.5,41 91.1,41.9 C91.7,42.9 92,44 92,45 Z" fill="#2a3acb" opacity="0.4" filter="url(#b2)"/><path d="M101,38 C101,38.6 100.8,39.3 100.5,39.9 C100.3,40.5 99.8,41.1 99.2,41.5 C98.7,42 98,42.4 97.3,42.6 C96.6,42.9 95.8,43 95,43 C94.2,43 93.4,42.9 92.7,42.6 C92,42.4 91.3,42 90.8,41.5 C90.2,41.1 89.7,40.5 89.5,39.9 C89.2,39.3 89,38.6 89,38 C89,37.4 89.2,36.7 89.5,36.1 C89.7,35.5 90.2,34.9 90.8,34.5 C91.3,34 92,33.6 92.7,33.4 C93.4,33.1 94.2,33 95,33 C95.8,33 96.6,33.1 97.3,33.4 C98,33.6 98.7,34 99.2,34.5 C99.8,34.9 100.3,35.5 100.5,36.1 C100.8,36.7 101,37.4 101,38 Z" fill="#2a3acb" opacity="0.6" filter="url(#b2)"/><path d="M38,118 C44.7,112.7 61.3,116 70,118 C78.7,120 85,124.7 90,130 C95,135.3 105,145.3 100,150 C95,154.7 71.7,158 60,158 C48.3,158 33.7,156.7 30,150 C26.3,143.3 31.3,123.3 38,118 Z" fill="#2a3acb" opacity="0.9" filter="url(#b2)"/><path d="M98,120 C101.3,117.2 121.3,117.2 130,118 C138.7,118.8 146.3,121 150,125 C153.7,129 154,138.5 152,142 C150,145.5 145,147.2 138,146 C131,144.8 116.7,139.3 110,135 C103.3,130.7 94.7,122.8 98,120 Z" fill="#2535c8" opacity="0.95" filter="url(#b1)"/><path d="M139.9,138 C139.7,138.4 139.2,138.8 138.6,139 C138.1,139.2 137.3,139.3 136.5,139.3 C135.7,139.2 134.7,139 133.8,138.7 C132.9,138.4 131.9,138 131,137.5 C130.1,137 129.2,136.3 128.5,135.7 C127.8,135 127.1,134.3 126.7,133.6 C126.2,132.9 125.9,132.2 125.8,131.6 C125.7,131 125.8,130.4 126.1,130 C126.3,129.6 126.8,129.2 127.4,129 C127.9,128.8 128.7,128.7 129.5,128.7 C130.3,128.8 131.3,129 132.2,129.3 C133.1,129.6 134.1,130 135,130.5 C135.9,131 136.8,131.7 137.5,132.3 C138.2,133 138.9,133.7 139.3,134.4 C139.8,135.1 140.1,135.8 140.2,136.4 C140.3,137 140.2,137.6 139.9,138 Z" fill="#20a0a0" opacity="1" filter="url(#b1)"/><g filter="url(#b05)"><path d="M60,180 C64.2,174.7 86.7,174.7 95,178 C103.3,181.3 107.2,189.7 110,200 C112.8,210.3 112.3,228.3 112,240 C111.7,251.7 110.3,263.3 108,270 C105.7,276.7 101.8,280 98,280 C94.2,280 88,276.7 85,270 C82,263.3 82.5,250 80,240 C77.5,230 73.3,220 70,210 C66.7,200 55.8,185.3 60,180 Z" fill="#1c1c70" stroke="#1c1c70" stroke-width="25.2" stroke-linejoin="round" opacity="0.95"/><path d="M60,180 C64.2,174.7 86.7,174.7 95,178 C103.3,181.3 107.2,189.7 110,200 C112.8,210.3 112.3,228.3 112,240 C111.7,251.7 110.3,263.3 108,270 C105.7,276.7 101.8,280 98,280 C94.2,280 88,276.7 85,270 C82,263.3 82.5,250 80,240 C77.5,230 73.3,220 70,210 C66.7,200 55.8,185.3 60,180 Z" fill="#2f42b8" stroke="#2f42b8" stroke-width="21" stroke-linejoin="round" opacity="1"/><path d="M60,180 C64.2,174.7 86.7,174.7 95,178 C103.3,181.3 107.2,189.7 110,200 C112.8,210.3 112.3,228.3 112,240 C111.7,251.7 110.3,263.3 108,270 C105.7,276.7 101.8,280 98,280 C94.2,280 88,276.7 85,270 C82,263.3 82.5,250 80,240 C77.5,230 73.3,220 70,210 C66.7,200 55.8,185.3 60,180 Z" fill="#1a8cc0" stroke="#1a8cc0" stroke-width="16.2" stroke-linejoin="round" opacity="1"/><path d="M60,180 C64.2,174.7 86.7,174.7 95,178 C103.3,181.3 107.2,189.7 110,200 C112.8,210.3 112.3,228.3 112,240 C111.7,251.7 110.3,263.3 108,270 C105.7,276.7 101.8,280 98,280 C94.2,280 88,276.7 85,270 C82,263.3 82.5,250 80,240 C77.5,230 73.3,220 70,210 C66.7,200 55.8,185.3 60,180 Z" fill="#28a850" stroke="#28a850" stroke-width="12.6" stroke-linejoin="round" opacity="1"/><path d="M60,180 C64.2,174.7 86.7,174.7 95,178 C103.3,181.3 107.2,189.7 110,200 C112.8,210.3 112.3,228.3 112,240 C111.7,251.7 110.3,263.3 108,270 C105.7,276.7 101.8,280 98,280 C94.2,280 88,276.7 85,270 C82,263.3 82.5,250 80,240 C77.5,230 73.3,220 70,210 C66.7,200 55.8,185.3 60,180 Z" fill="#d8c828" stroke="#d8c828" stroke-width="9.6" stroke-linejoin="round" opacity="1"/><path d="M60,180 C64.2,174.7 86.7,174.7 95,178 C103.3,181.3 107.2,189.7 110,200 C112.8,210.3 112.3,228.3 112,240 C111.7,251.7 110.3,263.3 108,270 C105.7,276.7 101.8,280 98,280 C94.2,280 88,276.7 85,270 C82,263.3 82.5,250 80,240 C77.5,230 73.3,220 70,210 C66.7,200 55.8,185.3 60,180 Z" fill="#e3203a" stroke="#e3203a" stroke-width="7.4" stroke-linejoin="round" opacity="1"/></g><path d="M60,180 C64.2,174.7 86.7,174.7 95,178 C103.3,181.3 107.2,189.7 110,200 C112.8,210.3 112.3,228.3 112,240 C111.7,251.7 110.3,263.3 108,270 C105.7,276.7 101.8,280 98,280 C94.2,280 88,276.7 85,270 C82,263.3 82.5,250 80,240 C77.5,230 73.3,220 70,210 C66.7,200 55.8,185.3 60,180 Z" fill="#40b048"/><g filter="url(#b05)"><path d="M28,168 C31.5,163 37.2,160.2 45,158 C52.8,155.8 65.8,154.7 75,155 C84.2,155.3 94.5,156.7 100,160 C105.5,163.3 108.3,170.3 108,175 C107.7,179.7 102.7,186.3 98,188 C93.3,189.7 86,184.7 80,185 C74,185.3 67,186.7 62,190 C57,193.3 54.5,202.5 50,205 C45.5,207.5 39.3,207.8 35,205 C30.7,202.2 25.2,194.2 24,188 C22.8,181.8 24.5,173 28,168 Z" fill="#1c1c70" stroke="#1c1c70" stroke-width="25.2" stroke-linejoin="round" opacity="0.95"/><path d="M28,168 C31.5,163 37.2,160.2 45,158 C52.8,155.8 65.8,154.7 75,155 C84.2,155.3 94.5,156.7 100,160 C105.5,163.3 108.3,170.3 108,175 C107.7,179.7 102.7,186.3 98,188 C93.3,189.7 86,184.7 80,185 C74,185.3 67,186.7 62,190 C57,193.3 54.5,202.5 50,205 C45.5,207.5 39.3,207.8 35,205 C30.7,202.2 25.2,194.2 24,188 C22.8,181.8 24.5,173 28,168 Z" fill="#2f42b8" stroke="#2f42b8" stroke-width="21" stroke-linejoin="round" opacity="1"/><path d="M28,168 C31.5,163 37.2,160.2 45,158 C52.8,155.8 65.8,154.7 75,155 C84.2,155.3 94.5,156.7 100,160 C105.5,163.3 108.3,170.3 108,175 C107.7,179.7 102.7,186.3 98,188 C93.3,189.7 86,184.7 80,185 C74,185.3 67,186.7 62,190 C57,193.3 54.5,202.5 50,205 C45.5,207.5 39.3,207.8 35,205 C30.7,202.2 25.2,194.2 24,188 C22.8,181.8 24.5,173 28,168 Z" fill="#1a8cc0" stroke="#1a8cc0" stroke-width="16.2" stroke-linejoin="round" opacity="1"/><path d="M28,168 C31.5,163 37.2,160.2 45,158 C52.8,155.8 65.8,154.7 75,155 C84.2,155.3 94.5,156.7 100,160 C105.5,163.3 108.3,170.3 108,175 C107.7,179.7 102.7,186.3 98,188 C93.3,189.7 86,184.7 80,185 C74,185.3 67,186.7 62,190 C57,193.3 54.5,202.5 50,205 C45.5,207.5 39.3,207.8 35,205 C30.7,202.2 25.2,194.2 24,188 C22.8,181.8 24.5,173 28,168 Z" fill="#28a850" stroke="#28a850" stroke-width="12.6" stroke-linejoin="round" opacity="1"/><path d="M28,168 C31.5,163 37.2,160.2 45,158 C52.8,155.8 65.8,154.7 75,155 C84.2,155.3 94.5,156.7 100,160 C105.5,163.3 108.3,170.3 108,175 C107.7,179.7 102.7,186.3 98,188 C93.3,189.7 86,184.7 80,185 C74,185.3 67,186.7 62,190 C57,193.3 54.5,202.5 50,205 C45.5,207.5 39.3,207.8 35,205 C30.7,202.2 25.2,194.2 24,188 C22.8,181.8 24.5,173 28,168 Z" fill="#d8c828" stroke="#d8c828" stroke-width="9.6" stroke-linejoin="round" opacity="1"/><path d="M28,168 C31.5,163 37.2,160.2 45,158 C52.8,155.8 65.8,154.7 75,155 C84.2,155.3 94.5,156.7 100,160 C105.5,163.3 108.3,170.3 108,175 C107.7,179.7 102.7,186.3 98,188 C93.3,189.7 86,184.7 80,185 C74,185.3 67,186.7 62,190 C57,193.3 54.5,202.5 50,205 C45.5,207.5 39.3,207.8 35,205 C30.7,202.2 25.2,194.2 24,188 C22.8,181.8 24.5,173 28,168 Z" fill="#e3203a" stroke="#e3203a" stroke-width="7.4" stroke-linejoin="round" opacity="1"/></g><path d="M28,168 C31.5,163 37.2,160.2 45,158 C52.8,155.8 65.8,154.7 75,155 C84.2,155.3 94.5,156.7 100,160 C105.5,163.3 108.3,170.3 108,175 C107.7,179.7 102.7,186.3 98,188 C93.3,189.7 86,184.7 80,185 C74,185.3 67,186.7 62,190 C57,193.3 54.5,202.5 50,205 C45.5,207.5 39.3,207.8 35,205 C30.7,202.2 25.2,194.2 24,188 C22.8,181.8 24.5,173 28,168 Z" fill="#e42235"/><path d="M70,170.5 C70.4,171.5 70.3,172.7 69.9,173.8 C69.5,175 68.7,176.3 67.6,177.4 C66.5,178.6 64.9,179.8 63.3,180.9 C61.6,181.9 59.7,182.8 57.7,183.5 C55.8,184.2 53.7,184.8 51.8,185 C49.9,185.3 47.9,185.4 46.3,185.2 C44.7,185 43.2,184.6 42.2,183.9 C41.1,183.3 40.3,182.4 40,181.5 C39.6,180.5 39.7,179.3 40.1,178.2 C40.5,177 41.3,175.7 42.4,174.6 C43.5,173.4 45.1,172.2 46.7,171.1 C48.4,170.1 50.3,169.2 52.3,168.5 C54.2,167.8 56.3,167.2 58.2,167 C60.1,166.7 62.1,166.6 63.7,166.8 C65.3,167 66.8,167.4 67.8,168.1 C68.9,168.7 69.7,169.6 70,170.5 Z" fill="#e8187a" opacity="0.8" filter="url(#b2)"/><ellipse cx="53" cy="175" rx="11" ry="4" fill="#f0e8e8" filter="url(#b1)" transform="rotate(-20 53 175)"/><ellipse cx="77" cy="195" rx="15" ry="11" fill="#22a040" filter="url(#b1)"/><ellipse cx="77" cy="195" rx="9" ry="7" fill="#2a2aa0" filter="url(#b1)"/><ellipse cx="77" cy="195" rx="4" ry="3" fill="#101040"/><g filter="url(#b05)"><path d="M135.9,220.1 C136.2,223.3 135.9,226.7 135.1,229.8 C134.3,232.8 132.8,235.8 131,238.3 C129.3,240.7 126.9,242.8 124.4,244.3 C121.9,245.7 119,246.7 116.2,246.9 C113.4,247.1 110.3,246.7 107.6,245.7 C104.9,244.8 102.2,243 100,241 C97.9,238.9 95.9,236.1 94.6,233.3 C93.3,230.5 92.4,227.1 92.1,223.9 C91.8,220.7 92.1,217.3 92.9,214.2 C93.7,211.2 95.2,208.2 97,205.7 C98.7,203.3 101.1,201.2 103.6,199.7 C106.1,198.3 109,197.3 111.8,197.1 C114.6,196.9 117.7,197.3 120.4,198.3 C123.1,199.2 125.8,201 128,203 C130.1,205.1 132.1,207.9 133.4,210.7 C134.7,213.5 135.6,216.9 135.9,220.1 Z" fill="#1c1c70" stroke="#1c1c70" stroke-width="21" stroke-linejoin="round" opacity="0.95"/><path d="M135.9,220.1 C136.2,223.3 135.9,226.7 135.1,229.8 C134.3,232.8 132.8,235.8 131,238.3 C129.3,240.7 126.9,242.8 124.4,244.3 C121.9,245.7 119,246.7 116.2,246.9 C113.4,247.1 110.3,246.7 107.6,245.7 C104.9,244.8 102.2,243 100,241 C97.9,238.9 95.9,236.1 94.6,233.3 C93.3,230.5 92.4,227.1 92.1,223.9 C91.8,220.7 92.1,217.3 92.9,214.2 C93.7,211.2 95.2,208.2 97,205.7 C98.7,203.3 101.1,201.2 103.6,199.7 C106.1,198.3 109,197.3 111.8,197.1 C114.6,196.9 117.7,197.3 120.4,198.3 C123.1,199.2 125.8,201 128,203 C130.1,205.1 132.1,207.9 133.4,210.7 C134.7,213.5 135.6,216.9 135.9,220.1 Z" fill="#2f42b8" stroke="#2f42b8" stroke-width="17.5" stroke-linejoin="round" opacity="1"/><path d="M135.9,220.1 C136.2,223.3 135.9,226.7 135.1,229.8 C134.3,232.8 132.8,235.8 131,238.3 C129.3,240.7 126.9,242.8 124.4,244.3 C121.9,245.7 119,246.7 116.2,246.9 C113.4,247.1 110.3,246.7 107.6,245.7 C104.9,244.8 102.2,243 100,241 C97.9,238.9 95.9,236.1 94.6,233.3 C93.3,230.5 92.4,227.1 92.1,223.9 C91.8,220.7 92.1,217.3 92.9,214.2 C93.7,211.2 95.2,208.2 97,205.7 C98.7,203.3 101.1,201.2 103.6,199.7 C106.1,198.3 109,197.3 111.8,197.1 C114.6,196.9 117.7,197.3 120.4,198.3 C123.1,199.2 125.8,201 128,203 C130.1,205.1 132.1,207.9 133.4,210.7 C134.7,213.5 135.6,216.9 135.9,220.1 Z" fill="#1a8cc0" stroke="#1a8cc0" stroke-width="13.5" stroke-linejoin="round" opacity="1"/><path d="M135.9,220.1 C136.2,223.3 135.9,226.7 135.1,229.8 C134.3,232.8 132.8,235.8 131,238.3 C129.3,240.7 126.9,242.8 124.4,244.3 C121.9,245.7 119,246.7 116.2,246.9 C113.4,247.1 110.3,246.7 107.6,245.7 C104.9,244.8 102.2,243 100,241 C97.9,238.9 95.9,236.1 94.6,233.3 C93.3,230.5 92.4,227.1 92.1,223.9 C91.8,220.7 92.1,217.3 92.9,214.2 C93.7,211.2 95.2,208.2 97,205.7 C98.7,203.3 101.1,201.2 103.6,199.7 C106.1,198.3 109,197.3 111.8,197.1 C114.6,196.9 117.7,197.3 120.4,198.3 C123.1,199.2 125.8,201 128,203 C130.1,205.1 132.1,207.9 133.4,210.7 C134.7,213.5 135.6,216.9 135.9,220.1 Z" fill="#28a850" stroke="#28a850" stroke-width="10.5" stroke-linejoin="round" opacity="1"/><path d="M135.9,220.1 C136.2,223.3 135.9,226.7 135.1,229.8 C134.3,232.8 132.8,235.8 131,238.3 C129.3,240.7 126.9,242.8 124.4,244.3 C121.9,245.7 119,246.7 116.2,246.9 C113.4,247.1 110.3,246.7 107.6,245.7 C104.9,244.8 102.2,243 100,241 C97.9,238.9 95.9,236.1 94.6,233.3 C93.3,230.5 92.4,227.1 92.1,223.9 C91.8,220.7 92.1,217.3 92.9,214.2 C93.7,211.2 95.2,208.2 97,205.7 C98.7,203.3 101.1,201.2 103.6,199.7 C106.1,198.3 109,197.3 111.8,197.1 C114.6,196.9 117.7,197.3 120.4,198.3 C123.1,199.2 125.8,201 128,203 C130.1,205.1 132.1,207.9 133.4,210.7 C134.7,213.5 135.6,216.9 135.9,220.1 Z" fill="#d8c828" stroke="#d8c828" stroke-width="8" stroke-linejoin="round" opacity="1"/><path d="M135.9,220.1 C136.2,223.3 135.9,226.7 135.1,229.8 C134.3,232.8 132.8,235.8 131,238.3 C129.3,240.7 126.9,242.8 124.4,244.3 C121.9,245.7 119,246.7 116.2,246.9 C113.4,247.1 110.3,246.7 107.6,245.7 C104.9,244.8 102.2,243 100,241 C97.9,238.9 95.9,236.1 94.6,233.3 C93.3,230.5 92.4,227.1 92.1,223.9 C91.8,220.7 92.1,217.3 92.9,214.2 C93.7,211.2 95.2,208.2 97,205.7 C98.7,203.3 101.1,201.2 103.6,199.7 C106.1,198.3 109,197.3 111.8,197.1 C114.6,196.9 117.7,197.3 120.4,198.3 C123.1,199.2 125.8,201 128,203 C130.1,205.1 132.1,207.9 133.4,210.7 C134.7,213.5 135.6,216.9 135.9,220.1 Z" fill="#e3203a" stroke="#e3203a" stroke-width="6.2" stroke-linejoin="round" opacity="1"/></g><path d="M135.9,220.1 C136.2,223.3 135.9,226.7 135.1,229.8 C134.3,232.8 132.8,235.8 131,238.3 C129.3,240.7 126.9,242.8 124.4,244.3 C121.9,245.7 119,246.7 116.2,246.9 C113.4,247.1 110.3,246.7 107.6,245.7 C104.9,244.8 102.2,243 100,241 C97.9,238.9 95.9,236.1 94.6,233.3 C93.3,230.5 92.4,227.1 92.1,223.9 C91.8,220.7 92.1,217.3 92.9,214.2 C93.7,211.2 95.2,208.2 97,205.7 C98.7,203.3 101.1,201.2 103.6,199.7 C106.1,198.3 109,197.3 111.8,197.1 C114.6,196.9 117.7,197.3 120.4,198.3 C123.1,199.2 125.8,201 128,203 C130.1,205.1 132.1,207.9 133.4,210.7 C134.7,213.5 135.6,216.9 135.9,220.1 Z" fill="#e0e0e0"/><g filter="url(#b05)"><path d="M46,280 C52,274 69,274.3 80,274 C91,273.7 105.3,273.7 112,278 C118.7,282.3 117.8,293 120,300 C122.2,307 123.7,312.5 125,320 C126.3,327.5 129.2,338.7 128,345 C126.8,351.3 122.7,356.8 118,358 C113.3,359.2 105,356.7 100,352 C95,347.3 94.7,334.3 88,330 C81.3,325.7 67.3,329.3 60,326 C52.7,322.7 46.3,317.7 44,310 C41.7,302.3 40,286 46,280 Z" fill="#1c1c70" stroke="#1c1c70" stroke-width="21" stroke-linejoin="round" opacity="0.95"/><path d="M46,280 C52,274 69,274.3 80,274 C91,273.7 105.3,273.7 112,278 C118.7,282.3 117.8,293 120,300 C122.2,307 123.7,312.5 125,320 C126.3,327.5 129.2,338.7 128,345 C126.8,351.3 122.7,356.8 118,358 C113.3,359.2 105,356.7 100,352 C95,347.3 94.7,334.3 88,330 C81.3,325.7 67.3,329.3 60,326 C52.7,322.7 46.3,317.7 44,310 C41.7,302.3 40,286 46,280 Z" fill="#2f42b8" stroke="#2f42b8" stroke-width="17.5" stroke-linejoin="round" opacity="1"/><path d="M46,280 C52,274 69,274.3 80,274 C91,273.7 105.3,273.7 112,278 C118.7,282.3 117.8,293 120,300 C122.2,307 123.7,312.5 125,320 C126.3,327.5 129.2,338.7 128,345 C126.8,351.3 122.7,356.8 118,358 C113.3,359.2 105,356.7 100,352 C95,347.3 94.7,334.3 88,330 C81.3,325.7 67.3,329.3 60,326 C52.7,322.7 46.3,317.7 44,310 C41.7,302.3 40,286 46,280 Z" fill="#1a8cc0" stroke="#1a8cc0" stroke-width="13.5" stroke-linejoin="round" opacity="1"/><path d="M46,280 C52,274 69,274.3 80,274 C91,273.7 105.3,273.7 112,278 C118.7,282.3 117.8,293 120,300 C122.2,307 123.7,312.5 125,320 C126.3,327.5 129.2,338.7 128,345 C126.8,351.3 122.7,356.8 118,358 C113.3,359.2 105,356.7 100,352 C95,347.3 94.7,334.3 88,330 C81.3,325.7 67.3,329.3 60,326 C52.7,322.7 46.3,317.7 44,310 C41.7,302.3 40,286 46,280 Z" fill="#28a850" stroke="#28a850" stroke-width="10.5" stroke-linejoin="round" opacity="1"/><path d="M46,280 C52,274 69,274.3 80,274 C91,273.7 105.3,273.7 112,278 C118.7,282.3 117.8,293 120,300 C122.2,307 123.7,312.5 125,320 C126.3,327.5 129.2,338.7 128,345 C126.8,351.3 122.7,356.8 118,358 C113.3,359.2 105,356.7 100,352 C95,347.3 94.7,334.3 88,330 C81.3,325.7 67.3,329.3 60,326 C52.7,322.7 46.3,317.7 44,310 C41.7,302.3 40,286 46,280 Z" fill="#d8c828" stroke="#d8c828" stroke-width="8" stroke-linejoin="round" opacity="1"/><path d="M46,280 C52,274 69,274.3 80,274 C91,273.7 105.3,273.7 112,278 C118.7,282.3 117.8,293 120,300 C122.2,307 123.7,312.5 125,320 C126.3,327.5 129.2,338.7 128,345 C126.8,351.3 122.7,356.8 118,358 C113.3,359.2 105,356.7 100,352 C95,347.3 94.7,334.3 88,330 C81.3,325.7 67.3,329.3 60,326 C52.7,322.7 46.3,317.7 44,310 C41.7,302.3 40,286 46,280 Z" fill="#e3203a" stroke="#e3203a" stroke-width="6.2" stroke-linejoin="round" opacity="1"/></g><path d="M46,280 C52,274 69,274.3 80,274 C91,273.7 105.3,273.7 112,278 C118.7,282.3 117.8,293 120,300 C122.2,307 123.7,312.5 125,320 C126.3,327.5 129.2,338.7 128,345 C126.8,351.3 122.7,356.8 118,358 C113.3,359.2 105,356.7 100,352 C95,347.3 94.7,334.3 88,330 C81.3,325.7 67.3,329.3 60,326 C52.7,322.7 46.3,317.7 44,310 C41.7,302.3 40,286 46,280 Z" fill="#e0e0e0"/><g filter="url(#b05)"><path d="M84.7,365.7 C85.1,367.8 85,370.2 84.4,372.4 C83.9,374.5 82.7,376.7 81.3,378.5 C79.9,380.3 77.9,382 75.9,383.2 C73.8,384.4 71.3,385.3 69,385.7 C66.6,386.2 63.9,386.2 61.6,385.7 C59.2,385.3 56.8,384.4 54.9,383.2 C52.9,382 51.1,380.3 49.8,378.5 C48.6,376.6 47.7,374.4 47.3,372.3 C46.9,370.2 47,367.8 47.6,365.6 C48.1,363.5 49.3,361.3 50.7,359.5 C52.1,357.7 54.1,356 56.1,354.8 C58.2,353.6 60.7,352.7 63,352.3 C65.4,351.8 68.1,351.8 70.4,352.3 C72.8,352.7 75.2,353.6 77.1,354.8 C79.1,356 80.9,357.7 82.2,359.5 C83.4,361.4 84.3,363.6 84.7,365.7 Z" fill="#1c1c70" stroke="#1c1c70" stroke-width="21" stroke-linejoin="round" opacity="0.95"/><path d="M84.7,365.7 C85.1,367.8 85,370.2 84.4,372.4 C83.9,374.5 82.7,376.7 81.3,378.5 C79.9,380.3 77.9,382 75.9,383.2 C73.8,384.4 71.3,385.3 69,385.7 C66.6,386.2 63.9,386.2 61.6,385.7 C59.2,385.3 56.8,384.4 54.9,383.2 C52.9,382 51.1,380.3 49.8,378.5 C48.6,376.6 47.7,374.4 47.3,372.3 C46.9,370.2 47,367.8 47.6,365.6 C48.1,363.5 49.3,361.3 50.7,359.5 C52.1,357.7 54.1,356 56.1,354.8 C58.2,353.6 60.7,352.7 63,352.3 C65.4,351.8 68.1,351.8 70.4,352.3 C72.8,352.7 75.2,353.6 77.1,354.8 C79.1,356 80.9,357.7 82.2,359.5 C83.4,361.4 84.3,363.6 84.7,365.7 Z" fill="#2f42b8" stroke="#2f42b8" stroke-width="17.5" stroke-linejoin="round" opacity="1"/><path d="M84.7,365.7 C85.1,367.8 85,370.2 84.4,372.4 C83.9,374.5 82.7,376.7 81.3,378.5 C79.9,380.3 77.9,382 75.9,383.2 C73.8,384.4 71.3,385.3 69,385.7 C66.6,386.2 63.9,386.2 61.6,385.7 C59.2,385.3 56.8,384.4 54.9,383.2 C52.9,382 51.1,380.3 49.8,378.5 C48.6,376.6 47.7,374.4 47.3,372.3 C46.9,370.2 47,367.8 47.6,365.6 C48.1,363.5 49.3,361.3 50.7,359.5 C52.1,357.7 54.1,356 56.1,354.8 C58.2,353.6 60.7,352.7 63,352.3 C65.4,351.8 68.1,351.8 70.4,352.3 C72.8,352.7 75.2,353.6 77.1,354.8 C79.1,356 80.9,357.7 82.2,359.5 C83.4,361.4 84.3,363.6 84.7,365.7 Z" fill="#1a8cc0" stroke="#1a8cc0" stroke-width="13.5" stroke-linejoin="round" opacity="1"/><path d="M84.7,365.7 C85.1,367.8 85,370.2 84.4,372.4 C83.9,374.5 82.7,376.7 81.3,378.5 C79.9,380.3 77.9,382 75.9,383.2 C73.8,384.4 71.3,385.3 69,385.7 C66.6,386.2 63.9,386.2 61.6,385.7 C59.2,385.3 56.8,384.4 54.9,383.2 C52.9,382 51.1,380.3 49.8,378.5 C48.6,376.6 47.7,374.4 47.3,372.3 C46.9,370.2 47,367.8 47.6,365.6 C48.1,363.5 49.3,361.3 50.7,359.5 C52.1,357.7 54.1,356 56.1,354.8 C58.2,353.6 60.7,352.7 63,352.3 C65.4,351.8 68.1,351.8 70.4,352.3 C72.8,352.7 75.2,353.6 77.1,354.8 C79.1,356 80.9,357.7 82.2,359.5 C83.4,361.4 84.3,363.6 84.7,365.7 Z" fill="#28a850" stroke="#28a850" stroke-width="10.5" stroke-linejoin="round" opacity="1"/><path d="M84.7,365.7 C85.1,367.8 85,370.2 84.4,372.4 C83.9,374.5 82.7,376.7 81.3,378.5 C79.9,380.3 77.9,382 75.9,383.2 C73.8,384.4 71.3,385.3 69,385.7 C66.6,386.2 63.9,386.2 61.6,385.7 C59.2,385.3 56.8,384.4 54.9,383.2 C52.9,382 51.1,380.3 49.8,378.5 C48.6,376.6 47.7,374.4 47.3,372.3 C46.9,370.2 47,367.8 47.6,365.6 C48.1,363.5 49.3,361.3 50.7,359.5 C52.1,357.7 54.1,356 56.1,354.8 C58.2,353.6 60.7,352.7 63,352.3 C65.4,351.8 68.1,351.8 70.4,352.3 C72.8,352.7 75.2,353.6 77.1,354.8 C79.1,356 80.9,357.7 82.2,359.5 C83.4,361.4 84.3,363.6 84.7,365.7 Z" fill="#d8c828" stroke="#d8c828" stroke-width="8" stroke-linejoin="round" opacity="1"/><path d="M84.7,365.7 C85.1,367.8 85,370.2 84.4,372.4 C83.9,374.5 82.7,376.7 81.3,378.5 C79.9,380.3 77.9,382 75.9,383.2 C73.8,384.4 71.3,385.3 69,385.7 C66.6,386.2 63.9,386.2 61.6,385.7 C59.2,385.3 56.8,384.4 54.9,383.2 C52.9,382 51.1,380.3 49.8,378.5 C48.6,376.6 47.7,374.4 47.3,372.3 C46.9,370.2 47,367.8 47.6,365.6 C48.1,363.5 49.3,361.3 50.7,359.5 C52.1,357.7 54.1,356 56.1,354.8 C58.2,353.6 60.7,352.7 63,352.3 C65.4,351.8 68.1,351.8 70.4,352.3 C72.8,352.7 75.2,353.6 77.1,354.8 C79.1,356 80.9,357.7 82.2,359.5 C83.4,361.4 84.3,363.6 84.7,365.7 Z" fill="#e3203a" stroke="#e3203a" stroke-width="6.2" stroke-linejoin="round" opacity="1"/></g><path d="M84.7,365.7 C85.1,367.8 85,370.2 84.4,372.4 C83.9,374.5 82.7,376.7 81.3,378.5 C79.9,380.3 77.9,382 75.9,383.2 C73.8,384.4 71.3,385.3 69,385.7 C66.6,386.2 63.9,386.2 61.6,385.7 C59.2,385.3 56.8,384.4 54.9,383.2 C52.9,382 51.1,380.3 49.8,378.5 C48.6,376.6 47.7,374.4 47.3,372.3 C46.9,370.2 47,367.8 47.6,365.6 C48.1,363.5 49.3,361.3 50.7,359.5 C52.1,357.7 54.1,356 56.1,354.8 C58.2,353.6 60.7,352.7 63,352.3 C65.4,351.8 68.1,351.8 70.4,352.3 C72.8,352.7 75.2,353.6 77.1,354.8 C79.1,356 80.9,357.7 82.2,359.5 C83.4,361.4 84.3,363.6 84.7,365.7 Z" fill="#e0e0e0"/><path d="M150,380 C152,371.8 159.5,370.2 162,378 C164.5,385.8 167,418.8 165,427 C163,435.2 152.5,434.8 150,427 C147.5,419.2 148,388.2 150,380 Z" fill="#2a5ad0" opacity="0.95" filter="url(#b1)"/><path d="M135,398 C135,398.9 134.6,399.9 133.9,400.7 C133.1,401.5 132,402.3 130.6,402.9 C129.3,403.6 127.5,404.1 125.7,404.5 C124,404.8 121.9,405 120,405 C118.1,405 116,404.8 114.3,404.5 C112.5,404.1 110.7,403.6 109.4,402.9 C108,402.3 106.9,401.5 106.1,400.7 C105.4,399.9 105,398.9 105,398 C105,397.1 105.4,396.1 106.1,395.3 C106.9,394.5 108,393.7 109.4,393.1 C110.7,392.4 112.5,391.9 114.3,391.5 C116,391.2 118.1,391 120,391 C121.9,391 124,391.2 125.7,391.5 C127.5,391.9 129.3,392.4 130.6,393.1 C132,393.7 133.1,394.5 133.9,395.3 C134.6,396.1 135,397.1 135,398 Z" fill="#2a3acb" opacity="0.7" filter="url(#b2)"/></g></g><clipPath id="ct2"><rect x="476.2" y="89" width="182.8" height="190.6"/></clipPath><rect x="476.2" y="89" width="182.8" height="190.6" fill="#000"/><g clip-path="url(#ct2)"><g transform="translate(476.2 89)"><path d="M60,12 C70.8,6.7 83.3,7.7 95,8 C106.7,8.3 119.2,9.5 130,14 C140.8,18.5 153,25.7 160,35 C167,44.3 170.3,57.5 172,70 C173.7,82.5 172,97.5 170,110 C168,122.5 165,135 160,145 C155,155 148.3,163.8 140,170 C131.7,176.2 120.8,180.3 110,182 C99.2,183.7 85.8,182.8 75,180 C64.2,177.2 53.8,171.7 45,165 C36.2,158.3 27.8,150 22,140 C16.2,130 11.3,116.7 10,105 C8.7,93.3 10.7,80.8 14,70 C17.3,59.2 22.3,49.7 30,40 C37.7,30.3 49.2,17.3 60,12 Z" fill="#4a4a4a" stroke="#707070" stroke-width="4" filter="url(#b1)"/><clipPath id="bc5"><path d="M60,12 C70.8,6.7 83.3,7.7 95,8 C106.7,8.3 119.2,9.5 130,14 C140.8,18.5 153,25.7 160,35 C167,44.3 170.3,57.5 172,70 C173.7,82.5 172,97.5 170,110 C168,122.5 165,135 160,145 C155,155 148.3,163.8 140,170 C131.7,176.2 120.8,180.3 110,182 C99.2,183.7 85.8,182.8 75,180 C64.2,177.2 53.8,171.7 45,165 C36.2,158.3 27.8,150 22,140 C16.2,130 11.3,116.7 10,105 C8.7,93.3 10.7,80.8 14,70 C17.3,59.2 22.3,49.7 30,40 C37.7,30.3 49.2,17.3 60,12 Z"/></clipPath><g clip-path="url(#bc5)" style="mix-blend-mode:overlay" opacity="0.75"><rect x="0" y="0" width="190" height="430" filter="url(#noise)"/></g><ellipse cx="100" cy="57" rx="45" ry="33" fill="none" stroke="#c0c0c0" stroke-width="5"/><path d="M60,55 C60.8,46.3 68.3,34.8 75,30 C81.7,25.2 91.7,25.7 100,26 C108.3,26.3 118.7,27.2 125,32 C131.3,36.8 137.2,47 138,55 C138.8,63 136.3,74.2 130,80 C123.7,85.8 110,89.7 100,90 C90,90.3 76.7,87.8 70,82 C63.3,76.2 59.2,63.7 60,55 Z" fill="#101010" filter="url(#b1)"/><path d="M105,30 C109.7,27.2 122.5,33.3 128,38 C133.5,42.7 138,51 138,58 C138,65 133,76.3 128,80 C123,83.7 112.7,84.2 108,80 C103.3,75.8 100.5,63.3 100,55 C99.5,46.7 100.3,32.8 105,30 Z" fill="#555" filter="url(#b2)"/><path d="M58,80 Q100,100 142,80" stroke="#c8c8c8" stroke-width="5" fill="none"/><ellipse cx="101" cy="16" rx="13" ry="4" fill="#c0c0c0"/><ellipse cx="103" cy="168" rx="9" ry="6" fill="#c8c8c8"/><path d="M80,30 C83.3,25.5 94.7,24.7 100,28 C105.3,31.3 110.7,42.2 112,50 C113.3,57.8 111.3,71 108,75 C104.7,79 96.7,77.3 92,74 C87.3,70.7 82,62.3 80,55 C78,47.7 76.7,34.5 80,30 Z" fill="#2a3ecf" opacity="0.9" filter="url(#b2)"/><path d="M42,125 C47.3,118 67.8,113.7 80,110 C92.2,106.3 106.3,102.2 115,103 C123.7,103.8 129.5,107.2 132,115 C134.5,122.8 133.7,140.8 130,150 C126.3,159.2 118.3,167 110,170 C101.7,173 90.3,171 80,168 C69.7,165 54.3,159.2 48,152 C41.7,144.8 36.7,132 42,125 Z" fill="#2c40cc" opacity="0.92" filter="url(#b2)"/><path d="M117,135 C117,136.8 116.4,138.7 115.3,140.4 C114.3,142 112.5,143.6 110.6,144.9 C108.6,146.2 106,147.3 103.4,147.9 C100.8,148.6 97.8,149 95,149 C92.2,149 89.2,148.6 86.6,147.9 C84,147.3 81.4,146.2 79.4,144.9 C77.5,143.6 75.7,142 74.7,140.4 C73.6,138.7 73,136.8 73,135 C73,133.2 73.6,131.3 74.7,129.6 C75.7,128 77.5,126.4 79.4,125.1 C81.4,123.8 84,122.7 86.6,122.1 C89.2,121.4 92.2,121 95,121 C97.8,121 100.8,121.4 103.4,122.1 C106,122.7 108.6,123.8 110.6,125.1 C112.5,126.4 114.3,128 115.3,129.6 C116.4,131.3 117,133.2 117,135 Z" fill="#2a66d0" opacity="0.5" filter="url(#b4)"/><path d="M50,78 C50,79.1 49.9,80.4 49.6,81.4 C49.4,82.5 49,83.6 48.5,84.4 C48.1,85.2 47.5,85.9 46.9,86.3 C46.3,86.8 45.6,87 45,87 C44.4,87 43.7,86.8 43.1,86.3 C42.5,85.9 41.9,85.2 41.5,84.4 C41,83.6 40.6,82.5 40.4,81.4 C40.1,80.4 40,79.1 40,78 C40,76.9 40.1,75.6 40.4,74.6 C40.6,73.5 41,72.4 41.5,71.6 C41.9,70.8 42.5,70.1 43.1,69.7 C43.7,69.2 44.4,69 45,69 C45.6,69 46.3,69.2 46.9,69.7 C47.5,70.1 48.1,70.8 48.5,71.6 C49,72.4 49.4,73.5 49.6,74.6 C49.9,75.6 50,76.9 50,78 Z" fill="#22309a" opacity="0.7" filter="url(#b2)"/><path d="M58,100 C58,101 57.8,102.1 57.5,103.1 C57.3,104 56.8,104.9 56.2,105.7 C55.7,106.4 55,107 54.3,107.4 C53.6,107.8 52.8,108 52,108 C51.2,108 50.4,107.8 49.7,107.4 C49,107 48.3,106.4 47.8,105.7 C47.2,104.9 46.7,104 46.5,103.1 C46.2,102.1 46,101 46,100 C46,99 46.2,97.9 46.5,96.9 C46.7,96 47.2,95.1 47.8,94.3 C48.3,93.6 49,93 49.7,92.6 C50.4,92.2 51.2,92 52,92 C52.8,92 53.6,92.2 54.3,92.6 C55,93 55.7,93.6 56.2,94.3 C56.8,95.1 57.3,96 57.5,96.9 C57.8,97.9 58,99 58,100 Z" fill="#22309a" opacity="0.7" filter="url(#b2)"/></g></g><clipPath id="cs2"><rect x="476.2" y="283.8" width="182.8" height="427.2"/></clipPath><rect x="476.2" y="283.8" width="182.8" height="427.2" fill="#000"/><g clip-path="url(#cs2)"><g transform="translate(476.2 283.8)"><path d="M48,8 C55.5,7.2 72.2,9.7 85,15 C97.8,20.3 113.3,31.7 125,40 C136.7,48.3 148.3,56.7 155,65 C161.7,73.3 163.8,80.8 165,90 C166.2,99.2 161.2,106 162,120 C162.8,134 168,154 170,174 C172,194 173.3,219 174,240 C174.7,261 174.7,276.7 174,300 C173.3,323.3 171.5,358.8 170,380 C168.5,401.2 176.7,419.2 165,427 C153.3,434.8 112.5,429.8 100,427 C87.5,424.2 95,419.5 90,410 C85,400.5 75,383.3 70,370 C65,356.7 64.2,345 60,330 C55.8,315 49.7,295 45,280 C40.3,265 36.5,253.3 32,240 C27.5,226.7 21.3,211.7 18,200 C14.7,188.3 11.7,181.7 12,170 C12.3,158.3 16.2,140.8 20,130 C23.8,119.2 32,113.3 35,105 C38,96.7 37.2,90 38,80 C38.8,70 39.7,55 40,45 C40.3,35 38.7,26.2 40,20 C41.3,13.8 40.5,8.8 48,8 Z" fill="#3e3e3e" stroke="#626262" stroke-width="3" filter="url(#b1)"/><clipPath id="bc6"><path d="M48,8 C55.5,7.2 72.2,9.7 85,15 C97.8,20.3 113.3,31.7 125,40 C136.7,48.3 148.3,56.7 155,65 C161.7,73.3 163.8,80.8 165,90 C166.2,99.2 161.2,106 162,120 C162.8,134 168,154 170,174 C172,194 173.3,219 174,240 C174.7,261 174.7,276.7 174,300 C173.3,323.3 171.5,358.8 170,380 C168.5,401.2 176.7,419.2 165,427 C153.3,434.8 112.5,429.8 100,427 C87.5,424.2 95,419.5 90,410 C85,400.5 75,383.3 70,370 C65,356.7 64.2,345 60,330 C55.8,315 49.7,295 45,280 C40.3,265 36.5,253.3 32,240 C27.5,226.7 21.3,211.7 18,200 C14.7,188.3 11.7,181.7 12,170 C12.3,158.3 16.2,140.8 20,130 C23.8,119.2 32,113.3 35,105 C38,96.7 37.2,90 38,80 C38.8,70 39.7,55 40,45 C40.3,35 38.7,26.2 40,20 C41.3,13.8 40.5,8.8 48,8 Z"/></clipPath><g clip-path="url(#bc6)" style="mix-blend-mode:overlay" opacity="0.75"><rect x="0" y="0" width="190" height="430" filter="url(#noise)"/></g><ellipse cx="135" cy="85" rx="21" ry="24" fill="#484848" fill-opacity="0.5" stroke="#b8b8b8" stroke-width="5"/><ellipse cx="126" cy="100" rx="5" ry="4" fill="#000" stroke="#ccc" stroke-width="3"/><path d="M78,40 C82.7,36.7 95,38.7 100,42 C105,45.3 108,53.7 108,60 C108,66.3 104.3,76.3 100,80 C95.7,83.7 86.7,85 82,82 C77.3,79 72.7,69 72,62 C71.3,55 73.3,43.3 78,40 Z" fill="#a8a8a8"/><path d="M88,120 Q72,135 85,150 L105,155" stroke="#b0b0b0" stroke-width="8" fill="none"/><path d="M148,290 C150.5,281.3 157.7,281.3 160,288 C162.3,294.7 162,313 162,330 C162,347 161.7,378.7 160,390 C158.3,401.3 154.5,406.3 152,398 C149.5,389.7 145.7,358 145,340 C144.3,322 145.5,298.7 148,290 Z" fill="#a0a0a0"/><circle cx="66" cy="256" r="4" fill="#000"/><ellipse cx="95" cy="158" rx="3" ry="2" fill="#c0c0c0"/><ellipse cx="108" cy="162" rx="3" ry="2" fill="#c0c0c0"/><ellipse cx="122" cy="165" rx="3" ry="2" fill="#c0c0c0"/><ellipse cx="135" cy="170" rx="3" ry="2" fill="#c0c0c0"/><ellipse cx="150" cy="175" rx="3" ry="2" fill="#c0c0c0"/><ellipse cx="158" cy="185" rx="3" ry="2" fill="#c0c0c0"/><ellipse cx="160" cy="198" rx="3" ry="2" fill="#c0c0c0"/><path d="M48,20 C53,13.8 69.3,13 75,18 C80.7,23 81.2,40 82,50 C82.8,60 84,73 80,78 C76,83 63.8,83.8 58,80 C52.2,76.2 46.7,65 45,55 C43.3,45 43,26.2 48,20 Z" fill="#2a3acb" opacity="0.85" filter="url(#b2)"/><path d="M71,33 C71,34.4 70.8,35.9 70.4,37.2 C70,38.5 69.4,39.8 68.7,40.8 C67.9,41.8 67,42.6 66.1,43.2 C65.1,43.7 64,44 63,44 C62,44 60.9,43.7 59.9,43.2 C59,42.6 58.1,41.8 57.3,40.8 C56.6,39.8 56,38.5 55.6,37.2 C55.2,35.9 55,34.4 55,33 C55,31.6 55.2,30.1 55.6,28.8 C56,27.5 56.6,26.2 57.3,25.2 C58.1,24.2 59,23.4 59.9,22.8 C60.9,22.3 62,22 63,22 C64,22 65.1,22.3 66.1,22.8 C67,23.4 67.9,24.2 68.7,25.2 C69.4,26.2 70,27.5 70.4,28.8 C70.8,30.1 71,31.6 71,33 Z" fill="#20b0d0" opacity="0.95" filter="url(#b1)"/><path d="M56,93 C56,94.9 55.7,97 55.1,98.7 C54.5,100.5 53.6,102.3 52.5,103.6 C51.4,105 50,106.1 48.6,106.9 C47.2,107.6 45.5,108 44,108 C42.5,108 40.8,107.6 39.4,106.9 C38,106.1 36.6,105 35.5,103.6 C34.4,102.3 33.5,100.5 32.9,98.7 C32.3,97 32,94.9 32,93 C32,91.1 32.3,89 32.9,87.3 C33.5,85.5 34.4,83.7 35.5,82.4 C36.6,81 38,79.9 39.4,79.1 C40.8,78.4 42.5,78 44,78 C45.5,78 47.2,78.4 48.6,79.1 C50,79.9 51.4,81 52.5,82.4 C53.6,83.7 54.5,85.5 55.1,87.3 C55.7,89 56,91.1 56,93 Z" fill="#2a3acb" opacity="0.9" filter="url(#b2)"/><path d="M49,93 C49,94 48.9,95.1 48.6,96.1 C48.4,97 48,97.9 47.5,98.7 C47.1,99.4 46.5,100 45.9,100.4 C45.3,100.8 44.6,101 44,101 C43.4,101 42.7,100.8 42.1,100.4 C41.5,100 40.9,99.4 40.5,98.7 C40,97.9 39.6,97 39.4,96.1 C39.1,95.1 39,94 39,93 C39,92 39.1,90.9 39.4,89.9 C39.6,89 40,88.1 40.5,87.3 C40.9,86.6 41.5,86 42.1,85.6 C42.7,85.2 43.4,85 44,85 C44.6,85 45.3,85.2 45.9,85.6 C46.5,86 47.1,86.6 47.5,87.3 C48,88.1 48.4,89 48.6,89.9 C48.9,90.9 49,92 49,93 Z" fill="#20a090" opacity="0.9" filter="url(#b1)"/><path d="M28,135 C37.2,130 66.3,127.5 80,130 C93.7,132.5 105,144.2 110,150 C115,155.8 118.3,162 110,165 C101.7,168 74.2,168.8 60,168 C45.8,167.2 30.3,165.5 25,160 C19.7,154.5 18.8,140 28,135 Z" fill="#2a3acb" opacity="0.85" filter="url(#b2)"/><path d="M144,146 C144,147.8 143.6,149.7 143,151.4 C142.4,153 141.4,154.6 140.2,155.9 C139,157.2 137.5,158.3 136,158.9 C134.4,159.6 132.7,160 131,160 C129.3,160 127.6,159.6 126,158.9 C124.5,158.3 123,157.2 121.8,155.9 C120.6,154.6 119.6,153 119,151.4 C118.4,149.7 118,147.8 118,146 C118,144.2 118.4,142.3 119,140.6 C119.6,139 120.6,137.4 121.8,136.1 C123,134.8 124.5,133.7 126,133.1 C127.6,132.4 129.3,132 131,132 C132.7,132 134.4,132.4 136,133.1 C137.5,133.7 139,134.8 140.2,136.1 C141.4,137.4 142.4,139 143,140.6 C143.6,142.3 144,144.2 144,146 Z" fill="#2a3acb" opacity="0.9" filter="url(#b1)"/><path d="M135,146 C135,146.6 134.9,147.3 134.7,147.9 C134.5,148.5 134.2,149.1 133.8,149.5 C133.5,150 133,150.4 132.5,150.6 C132.1,150.9 131.5,151 131,151 C130.5,151 129.9,150.9 129.5,150.6 C129,150.4 128.5,150 128.2,149.5 C127.8,149.1 127.5,148.5 127.3,147.9 C127.1,147.3 127,146.6 127,146 C127,145.4 127.1,144.7 127.3,144.1 C127.5,143.5 127.8,142.9 128.2,142.5 C128.5,142 129,141.6 129.5,141.4 C129.9,141.1 130.5,141 131,141 C131.5,141 132.1,141.1 132.5,141.4 C133,141.6 133.5,142 133.8,142.5 C134.2,142.9 134.5,143.5 134.7,144.1 C134.9,144.7 135,145.4 135,146 Z" fill="#20a0a0" opacity="0.9" filter="url(#b1)"/><path d="M22,175 C33.7,167.8 92,167.8 110,172 C128,176.2 125,188.7 130,200 C135,211.3 140,225 140,240 C140,255 135,280 130,290 C125,300 115.8,303.3 110,300 C104.2,296.7 101.7,280 95,270 C88.3,260 79.2,249.2 70,240 C60.8,230.8 48,225.8 40,215 C32,204.2 10.3,182.2 22,175 Z" fill="#2a3acb" opacity="0.9" filter="url(#b2)"/><path d="M84,230 C84,230.8 83.6,231.6 82.9,232.3 C82.3,233 81.2,233.7 79.9,234.2 C78.6,234.8 77,235.3 75.4,235.5 C73.7,235.8 71.8,236 70,236 C68.2,236 66.3,235.8 64.6,235.5 C63,235.3 61.4,234.8 60.1,234.2 C58.8,233.7 57.7,233 57.1,232.3 C56.4,231.6 56,230.8 56,230 C56,229.2 56.4,228.4 57.1,227.7 C57.7,227 58.8,226.3 60.1,225.8 C61.4,225.2 63,224.7 64.6,224.5 C66.3,224.2 68.2,224 70,224 C71.8,224 73.7,224.2 75.4,224.5 C77,224.7 78.6,225.2 79.9,225.8 C81.2,226.3 82.3,227 82.9,227.7 C83.6,228.4 84,229.2 84,230 Z" fill="#18a070" opacity="0.8" filter="url(#b1)"/><path d="M87,210 C87,210.6 86.8,211.3 86.3,211.9 C85.9,212.5 85.2,213.1 84.4,213.5 C83.6,214 82.5,214.4 81.4,214.6 C80.4,214.9 79.1,215 78,215 C76.9,215 75.6,214.9 74.6,214.6 C73.5,214.4 72.4,214 71.6,213.5 C70.8,213.1 70.1,212.5 69.7,211.9 C69.2,211.3 69,210.6 69,210 C69,209.4 69.2,208.7 69.7,208.1 C70.1,207.5 70.8,206.9 71.6,206.5 C72.4,206 73.5,205.6 74.6,205.4 C75.6,205.1 76.9,205 78,205 C79.1,205 80.4,205.1 81.4,205.4 C82.5,205.6 83.6,206 84.4,206.5 C85.2,206.9 85.9,207.5 86.3,208.1 C86.8,208.7 87,209.4 87,210 Z" fill="#111" opacity="0.6" filter="url(#b1)"/><g filter="url(#b05)"><path d="M28,172 C34.3,169.7 48,170 60,170 C72,170 92,169.7 100,172 C108,174.3 108,180 108,184 C108,188 108,193.8 100,196 C92,198.2 72,197.3 60,197 C48,196.7 34.3,196.2 28,194 C21.7,191.8 22,187.7 22,184 C22,180.3 21.7,174.3 28,172 Z" fill="#1c1c70" stroke="#1c1c70" stroke-width="21" stroke-linejoin="round" opacity="0.95"/><path d="M28,172 C34.3,169.7 48,170 60,170 C72,170 92,169.7 100,172 C108,174.3 108,180 108,184 C108,188 108,193.8 100,196 C92,198.2 72,197.3 60,197 C48,196.7 34.3,196.2 28,194 C21.7,191.8 22,187.7 22,184 C22,180.3 21.7,174.3 28,172 Z" fill="#2f42b8" stroke="#2f42b8" stroke-width="17.5" stroke-linejoin="round" opacity="1"/><path d="M28,172 C34.3,169.7 48,170 60,170 C72,170 92,169.7 100,172 C108,174.3 108,180 108,184 C108,188 108,193.8 100,196 C92,198.2 72,197.3 60,197 C48,196.7 34.3,196.2 28,194 C21.7,191.8 22,187.7 22,184 C22,180.3 21.7,174.3 28,172 Z" fill="#1a8cc0" stroke="#1a8cc0" stroke-width="13.5" stroke-linejoin="round" opacity="1"/><path d="M28,172 C34.3,169.7 48,170 60,170 C72,170 92,169.7 100,172 C108,174.3 108,180 108,184 C108,188 108,193.8 100,196 C92,198.2 72,197.3 60,197 C48,196.7 34.3,196.2 28,194 C21.7,191.8 22,187.7 22,184 C22,180.3 21.7,174.3 28,172 Z" fill="#28a850" stroke="#28a850" stroke-width="10.5" stroke-linejoin="round" opacity="1"/><path d="M28,172 C34.3,169.7 48,170 60,170 C72,170 92,169.7 100,172 C108,174.3 108,180 108,184 C108,188 108,193.8 100,196 C92,198.2 72,197.3 60,197 C48,196.7 34.3,196.2 28,194 C21.7,191.8 22,187.7 22,184 C22,180.3 21.7,174.3 28,172 Z" fill="#d8c828" stroke="#d8c828" stroke-width="8" stroke-linejoin="round" opacity="1"/><path d="M28,172 C34.3,169.7 48,170 60,170 C72,170 92,169.7 100,172 C108,174.3 108,180 108,184 C108,188 108,193.8 100,196 C92,198.2 72,197.3 60,197 C48,196.7 34.3,196.2 28,194 C21.7,191.8 22,187.7 22,184 C22,180.3 21.7,174.3 28,172 Z" fill="#e3203a" stroke="#e3203a" stroke-width="6.2" stroke-linejoin="round" opacity="1"/></g><path d="M28,172 C34.3,169.7 48,170 60,170 C72,170 92,169.7 100,172 C108,174.3 108,180 108,184 C108,188 108,193.8 100,196 C92,198.2 72,197.3 60,197 C48,196.7 34.3,196.2 28,194 C21.7,191.8 22,187.7 22,184 C22,180.3 21.7,174.3 28,172 Z" fill="#e4452a"/><path d="M57,180 C57,180.9 56.7,181.9 56.1,182.7 C55.5,183.5 54.6,184.3 53.5,184.9 C52.4,185.6 51,186.1 49.6,186.5 C48.2,186.8 46.5,187 45,187 C43.5,187 41.8,186.8 40.4,186.5 C39,186.1 37.6,185.6 36.5,184.9 C35.4,184.3 34.5,183.5 33.9,182.7 C33.3,181.9 33,180.9 33,180 C33,179.1 33.3,178.1 33.9,177.3 C34.5,176.5 35.4,175.7 36.5,175.1 C37.6,174.4 39,173.9 40.4,173.5 C41.8,173.2 43.5,173 45,173 C46.5,173 48.2,173.2 49.6,173.5 C51,173.9 52.4,174.4 53.5,175.1 C54.6,175.7 55.5,176.5 56.1,177.3 C56.7,178.1 57,179.1 57,180 Z" fill="#e82030" opacity="0.8" filter="url(#b1)"/><path d="M102,184 C102,184.9 101.7,185.9 101.1,186.7 C100.5,187.5 99.6,188.3 98.5,188.9 C97.4,189.6 96,190.1 94.6,190.5 C93.2,190.8 91.5,191 90,191 C88.5,191 86.8,190.8 85.4,190.5 C84,190.1 82.6,189.6 81.5,188.9 C80.4,188.3 79.5,187.5 78.9,186.7 C78.3,185.9 78,184.9 78,184 C78,183.1 78.3,182.1 78.9,181.3 C79.5,180.5 80.4,179.7 81.5,179.1 C82.6,178.4 84,177.9 85.4,177.5 C86.8,177.2 88.5,177 90,177 C91.5,177 93.2,177.2 94.6,177.5 C96,177.9 97.4,178.4 98.5,179.1 C99.6,179.7 100.5,180.5 101.1,181.3 C101.7,182.1 102,183.1 102,184 Z" fill="#e82030" opacity="0.8" filter="url(#b1)"/><g filter="url(#b05)"><path d="M161,243.6 C161.2,247.7 160.7,252.1 159.6,256 C158.6,259.8 156.7,263.6 154.5,266.6 C152.4,269.6 149.5,272.3 146.5,274 C143.5,275.7 140,276.8 136.7,277 C133.4,277.1 129.8,276.4 126.6,275 C123.5,273.6 120.3,271.3 117.8,268.6 C115.3,265.8 113.1,262.2 111.7,258.5 C110.2,254.8 109.2,250.4 109,246.4 C108.8,242.3 109.3,237.9 110.4,234 C111.4,230.2 113.3,226.4 115.5,223.4 C117.6,220.4 120.5,217.7 123.5,216 C126.5,214.3 130,213.2 133.3,213 C136.6,212.9 140.2,213.6 143.4,215 C146.5,216.4 149.7,218.7 152.2,221.4 C154.7,224.2 156.9,227.8 158.3,231.5 C159.8,235.2 160.8,239.6 161,243.6 Z" fill="#1c1c70" stroke="#1c1c70" stroke-width="21" stroke-linejoin="round" opacity="0.95"/><path d="M161,243.6 C161.2,247.7 160.7,252.1 159.6,256 C158.6,259.8 156.7,263.6 154.5,266.6 C152.4,269.6 149.5,272.3 146.5,274 C143.5,275.7 140,276.8 136.7,277 C133.4,277.1 129.8,276.4 126.6,275 C123.5,273.6 120.3,271.3 117.8,268.6 C115.3,265.8 113.1,262.2 111.7,258.5 C110.2,254.8 109.2,250.4 109,246.4 C108.8,242.3 109.3,237.9 110.4,234 C111.4,230.2 113.3,226.4 115.5,223.4 C117.6,220.4 120.5,217.7 123.5,216 C126.5,214.3 130,213.2 133.3,213 C136.6,212.9 140.2,213.6 143.4,215 C146.5,216.4 149.7,218.7 152.2,221.4 C154.7,224.2 156.9,227.8 158.3,231.5 C159.8,235.2 160.8,239.6 161,243.6 Z" fill="#2f42b8" stroke="#2f42b8" stroke-width="17.5" stroke-linejoin="round" opacity="1"/><path d="M161,243.6 C161.2,247.7 160.7,252.1 159.6,256 C158.6,259.8 156.7,263.6 154.5,266.6 C152.4,269.6 149.5,272.3 146.5,274 C143.5,275.7 140,276.8 136.7,277 C133.4,277.1 129.8,276.4 126.6,275 C123.5,273.6 120.3,271.3 117.8,268.6 C115.3,265.8 113.1,262.2 111.7,258.5 C110.2,254.8 109.2,250.4 109,246.4 C108.8,242.3 109.3,237.9 110.4,234 C111.4,230.2 113.3,226.4 115.5,223.4 C117.6,220.4 120.5,217.7 123.5,216 C126.5,214.3 130,213.2 133.3,213 C136.6,212.9 140.2,213.6 143.4,215 C146.5,216.4 149.7,218.7 152.2,221.4 C154.7,224.2 156.9,227.8 158.3,231.5 C159.8,235.2 160.8,239.6 161,243.6 Z" fill="#1a8cc0" stroke="#1a8cc0" stroke-width="13.5" stroke-linejoin="round" opacity="1"/><path d="M161,243.6 C161.2,247.7 160.7,252.1 159.6,256 C158.6,259.8 156.7,263.6 154.5,266.6 C152.4,269.6 149.5,272.3 146.5,274 C143.5,275.7 140,276.8 136.7,277 C133.4,277.1 129.8,276.4 126.6,275 C123.5,273.6 120.3,271.3 117.8,268.6 C115.3,265.8 113.1,262.2 111.7,258.5 C110.2,254.8 109.2,250.4 109,246.4 C108.8,242.3 109.3,237.9 110.4,234 C111.4,230.2 113.3,226.4 115.5,223.4 C117.6,220.4 120.5,217.7 123.5,216 C126.5,214.3 130,213.2 133.3,213 C136.6,212.9 140.2,213.6 143.4,215 C146.5,216.4 149.7,218.7 152.2,221.4 C154.7,224.2 156.9,227.8 158.3,231.5 C159.8,235.2 160.8,239.6 161,243.6 Z" fill="#28a850" stroke="#28a850" stroke-width="10.5" stroke-linejoin="round" opacity="1"/><path d="M161,243.6 C161.2,247.7 160.7,252.1 159.6,256 C158.6,259.8 156.7,263.6 154.5,266.6 C152.4,269.6 149.5,272.3 146.5,274 C143.5,275.7 140,276.8 136.7,277 C133.4,277.1 129.8,276.4 126.6,275 C123.5,273.6 120.3,271.3 117.8,268.6 C115.3,265.8 113.1,262.2 111.7,258.5 C110.2,254.8 109.2,250.4 109,246.4 C108.8,242.3 109.3,237.9 110.4,234 C111.4,230.2 113.3,226.4 115.5,223.4 C117.6,220.4 120.5,217.7 123.5,216 C126.5,214.3 130,213.2 133.3,213 C136.6,212.9 140.2,213.6 143.4,215 C146.5,216.4 149.7,218.7 152.2,221.4 C154.7,224.2 156.9,227.8 158.3,231.5 C159.8,235.2 160.8,239.6 161,243.6 Z" fill="#d8c828" stroke="#d8c828" stroke-width="8" stroke-linejoin="round" opacity="1"/><path d="M161,243.6 C161.2,247.7 160.7,252.1 159.6,256 C158.6,259.8 156.7,263.6 154.5,266.6 C152.4,269.6 149.5,272.3 146.5,274 C143.5,275.7 140,276.8 136.7,277 C133.4,277.1 129.8,276.4 126.6,275 C123.5,273.6 120.3,271.3 117.8,268.6 C115.3,265.8 113.1,262.2 111.7,258.5 C110.2,254.8 109.2,250.4 109,246.4 C108.8,242.3 109.3,237.9 110.4,234 C111.4,230.2 113.3,226.4 115.5,223.4 C117.6,220.4 120.5,217.7 123.5,216 C126.5,214.3 130,213.2 133.3,213 C136.6,212.9 140.2,213.6 143.4,215 C146.5,216.4 149.7,218.7 152.2,221.4 C154.7,224.2 156.9,227.8 158.3,231.5 C159.8,235.2 160.8,239.6 161,243.6 Z" fill="#e3203a" stroke="#e3203a" stroke-width="6.2" stroke-linejoin="round" opacity="1"/></g><path d="M161,243.6 C161.2,247.7 160.7,252.1 159.6,256 C158.6,259.8 156.7,263.6 154.5,266.6 C152.4,269.6 149.5,272.3 146.5,274 C143.5,275.7 140,276.8 136.7,277 C133.4,277.1 129.8,276.4 126.6,275 C123.5,273.6 120.3,271.3 117.8,268.6 C115.3,265.8 113.1,262.2 111.7,258.5 C110.2,254.8 109.2,250.4 109,246.4 C108.8,242.3 109.3,237.9 110.4,234 C111.4,230.2 113.3,226.4 115.5,223.4 C117.6,220.4 120.5,217.7 123.5,216 C126.5,214.3 130,213.2 133.3,213 C136.6,212.9 140.2,213.6 143.4,215 C146.5,216.4 149.7,218.7 152.2,221.4 C154.7,224.2 156.9,227.8 158.3,231.5 C159.8,235.2 160.8,239.6 161,243.6 Z" fill="#e0e0e0"/><g filter="url(#b05)"><path d="M125,340 C125,343.8 124.1,347.9 122.6,351.5 C121,355 118.5,358.5 115.6,361.2 C112.7,363.9 109,366.3 105.2,367.7 C101.5,369.2 97.1,370 93,370 C88.9,370 84.5,369.2 80.8,367.7 C77,366.3 73.3,363.9 70.4,361.2 C67.5,358.5 65,355 63.4,351.5 C61.9,347.9 61,343.8 61,340 C61,336.2 61.9,332.1 63.4,328.5 C65,325 67.5,321.5 70.4,318.8 C73.3,316.1 77,313.7 80.8,312.3 C84.5,310.8 88.9,310 93,310 C97.1,310 101.5,310.8 105.2,312.3 C109,313.7 112.7,316.1 115.6,318.8 C118.5,321.5 121,325 122.6,328.5 C124.1,332.1 125,336.2 125,340 Z" fill="#1c1c70" stroke="#1c1c70" stroke-width="21" stroke-linejoin="round" opacity="0.95"/><path d="M125,340 C125,343.8 124.1,347.9 122.6,351.5 C121,355 118.5,358.5 115.6,361.2 C112.7,363.9 109,366.3 105.2,367.7 C101.5,369.2 97.1,370 93,370 C88.9,370 84.5,369.2 80.8,367.7 C77,366.3 73.3,363.9 70.4,361.2 C67.5,358.5 65,355 63.4,351.5 C61.9,347.9 61,343.8 61,340 C61,336.2 61.9,332.1 63.4,328.5 C65,325 67.5,321.5 70.4,318.8 C73.3,316.1 77,313.7 80.8,312.3 C84.5,310.8 88.9,310 93,310 C97.1,310 101.5,310.8 105.2,312.3 C109,313.7 112.7,316.1 115.6,318.8 C118.5,321.5 121,325 122.6,328.5 C124.1,332.1 125,336.2 125,340 Z" fill="#2f42b8" stroke="#2f42b8" stroke-width="17.5" stroke-linejoin="round" opacity="1"/><path d="M125,340 C125,343.8 124.1,347.9 122.6,351.5 C121,355 118.5,358.5 115.6,361.2 C112.7,363.9 109,366.3 105.2,367.7 C101.5,369.2 97.1,370 93,370 C88.9,370 84.5,369.2 80.8,367.7 C77,366.3 73.3,363.9 70.4,361.2 C67.5,358.5 65,355 63.4,351.5 C61.9,347.9 61,343.8 61,340 C61,336.2 61.9,332.1 63.4,328.5 C65,325 67.5,321.5 70.4,318.8 C73.3,316.1 77,313.7 80.8,312.3 C84.5,310.8 88.9,310 93,310 C97.1,310 101.5,310.8 105.2,312.3 C109,313.7 112.7,316.1 115.6,318.8 C118.5,321.5 121,325 122.6,328.5 C124.1,332.1 125,336.2 125,340 Z" fill="#1a8cc0" stroke="#1a8cc0" stroke-width="13.5" stroke-linejoin="round" opacity="1"/><path d="M125,340 C125,343.8 124.1,347.9 122.6,351.5 C121,355 118.5,358.5 115.6,361.2 C112.7,363.9 109,366.3 105.2,367.7 C101.5,369.2 97.1,370 93,370 C88.9,370 84.5,369.2 80.8,367.7 C77,366.3 73.3,363.9 70.4,361.2 C67.5,358.5 65,355 63.4,351.5 C61.9,347.9 61,343.8 61,340 C61,336.2 61.9,332.1 63.4,328.5 C65,325 67.5,321.5 70.4,318.8 C73.3,316.1 77,313.7 80.8,312.3 C84.5,310.8 88.9,310 93,310 C97.1,310 101.5,310.8 105.2,312.3 C109,313.7 112.7,316.1 115.6,318.8 C118.5,321.5 121,325 122.6,328.5 C124.1,332.1 125,336.2 125,340 Z" fill="#28a850" stroke="#28a850" stroke-width="10.5" stroke-linejoin="round" opacity="1"/><path d="M125,340 C125,343.8 124.1,347.9 122.6,351.5 C121,355 118.5,358.5 115.6,361.2 C112.7,363.9 109,366.3 105.2,367.7 C101.5,369.2 97.1,370 93,370 C88.9,370 84.5,369.2 80.8,367.7 C77,366.3 73.3,363.9 70.4,361.2 C67.5,358.5 65,355 63.4,351.5 C61.9,347.9 61,343.8 61,340 C61,336.2 61.9,332.1 63.4,328.5 C65,325 67.5,321.5 70.4,318.8 C73.3,316.1 77,313.7 80.8,312.3 C84.5,310.8 88.9,310 93,310 C97.1,310 101.5,310.8 105.2,312.3 C109,313.7 112.7,316.1 115.6,318.8 C118.5,321.5 121,325 122.6,328.5 C124.1,332.1 125,336.2 125,340 Z" fill="#d8c828" stroke="#d8c828" stroke-width="8" stroke-linejoin="round" opacity="1"/><path d="M125,340 C125,343.8 124.1,347.9 122.6,351.5 C121,355 118.5,358.5 115.6,361.2 C112.7,363.9 109,366.3 105.2,367.7 C101.5,369.2 97.1,370 93,370 C88.9,370 84.5,369.2 80.8,367.7 C77,366.3 73.3,363.9 70.4,361.2 C67.5,358.5 65,355 63.4,351.5 C61.9,347.9 61,343.8 61,340 C61,336.2 61.9,332.1 63.4,328.5 C65,325 67.5,321.5 70.4,318.8 C73.3,316.1 77,313.7 80.8,312.3 C84.5,310.8 88.9,310 93,310 C97.1,310 101.5,310.8 105.2,312.3 C109,313.7 112.7,316.1 115.6,318.8 C118.5,321.5 121,325 122.6,328.5 C124.1,332.1 125,336.2 125,340 Z" fill="#e3203a" stroke="#e3203a" stroke-width="6.2" stroke-linejoin="round" opacity="1"/></g><path d="M125,340 C125,343.8 124.1,347.9 122.6,351.5 C121,355 118.5,358.5 115.6,361.2 C112.7,363.9 109,366.3 105.2,367.7 C101.5,369.2 97.1,370 93,370 C88.9,370 84.5,369.2 80.8,367.7 C77,366.3 73.3,363.9 70.4,361.2 C67.5,358.5 65,355 63.4,351.5 C61.9,347.9 61,343.8 61,340 C61,336.2 61.9,332.1 63.4,328.5 C65,325 67.5,321.5 70.4,318.8 C73.3,316.1 77,313.7 80.8,312.3 C84.5,310.8 88.9,310 93,310 C97.1,310 101.5,310.8 105.2,312.3 C109,313.7 112.7,316.1 115.6,318.8 C118.5,321.5 121,325 122.6,328.5 C124.1,332.1 125,336.2 125,340 Z" fill="#e0e0e0"/></g></g><clipPath id="ct3"><rect x="692.5" y="89" width="183.3" height="190.6"/></clipPath><rect x="692.5" y="89" width="183.3" height="190.6" fill="#000"/><g clip-path="url(#ct3)"><g transform="translate(692.5 89)"><path d="M55,10 C65.8,6.2 82.5,6.7 95,7 C107.5,7.3 120,7.3 130,12 C140,16.7 148.3,25.3 155,35 C161.7,44.7 167,57.5 170,70 C173,82.5 174.7,96.7 173,110 C171.3,123.3 165.5,139.7 160,150 C154.5,160.3 149.2,166.7 140,172 C130.8,177.3 116.7,180.7 105,182 C93.3,183.3 80.8,182.3 70,180 C59.2,177.7 48.3,174.7 40,168 C31.7,161.3 25,150.5 20,140 C15,129.5 11,117.5 10,105 C9,92.5 10.7,77.5 14,65 C17.3,52.5 23.2,39.2 30,30 C36.8,20.8 44.2,13.8 55,10 Z" fill="#4a4a4a" stroke="#707070" stroke-width="4" filter="url(#b1)"/><clipPath id="bc7"><path d="M55,10 C65.8,6.2 82.5,6.7 95,7 C107.5,7.3 120,7.3 130,12 C140,16.7 148.3,25.3 155,35 C161.7,44.7 167,57.5 170,70 C173,82.5 174.7,96.7 173,110 C171.3,123.3 165.5,139.7 160,150 C154.5,160.3 149.2,166.7 140,172 C130.8,177.3 116.7,180.7 105,182 C93.3,183.3 80.8,182.3 70,180 C59.2,177.7 48.3,174.7 40,168 C31.7,161.3 25,150.5 20,140 C15,129.5 11,117.5 10,105 C9,92.5 10.7,77.5 14,65 C17.3,52.5 23.2,39.2 30,30 C36.8,20.8 44.2,13.8 55,10 Z"/></clipPath><g clip-path="url(#bc7)" style="mix-blend-mode:overlay" opacity="0.75"><rect x="0" y="0" width="190" height="430" filter="url(#noise)"/></g><path d="M85,100 C87.3,96.3 97.8,96 102,98 C106.2,100 110.3,108 110,112 C109.7,116 103.7,120.7 100,122 C96.3,123.3 90.5,123.7 88,120 C85.5,116.3 82.7,103.7 85,100 Z" fill="#b8b8b8"/><ellipse cx="88" cy="20" rx="9" ry="5" fill="#bdbdbd"/><path d="M40,30 C49.7,23.2 67.5,24 80,24 C92.5,24 105,24.8 115,30 C125,35.2 132.5,45.8 140,55 C147.5,64.2 158.3,76.2 160,85 C161.7,93.8 157.5,103 150,108 C142.5,113 124.2,116.3 115,115 C105.8,113.7 102.5,100.8 95,100 C87.5,99.2 79.2,108 70,110 C60.8,112 48.3,114 40,112 C31.7,110 23,105.8 20,98 C17,90.2 18.7,76.3 22,65 C25.3,53.7 30.3,36.8 40,30 Z" fill="#2a40cc" opacity="0.9" filter="url(#b2)"/><path d="M100,35 C102.8,30.3 120.8,27 125,32 C129.2,37 127.8,60.3 125,65 C122.2,69.7 112.2,65 108,60 C103.8,55 97.2,39.7 100,35 Z" fill="#0c0c0c" filter="url(#b2)" opacity="0.8"/><path d="M46,90 C46,91.1 45.7,92.4 45.1,93.4 C44.5,94.5 43.6,95.6 42.5,96.4 C41.4,97.2 40,97.9 38.6,98.3 C37.2,98.8 35.5,99 34,99 C32.5,99 30.8,98.8 29.4,98.3 C28,97.9 26.6,97.2 25.5,96.4 C24.4,95.6 23.5,94.5 22.9,93.4 C22.3,92.4 22,91.1 22,90 C22,88.9 22.3,87.6 22.9,86.6 C23.5,85.5 24.4,84.4 25.5,83.6 C26.6,82.8 28,82.1 29.4,81.7 C30.8,81.2 32.5,81 34,81 C35.5,81 37.2,81.2 38.6,81.7 C40,82.1 41.4,82.8 42.5,83.6 C43.6,84.4 44.5,85.5 45.1,86.6 C45.7,87.6 46,88.9 46,90 Z" fill="#18a080" opacity="0.95" filter="url(#b2)"/><path d="M153,82 C153,83.3 152.7,84.6 152.2,85.8 C151.8,87 151,88.2 150.1,89.1 C149.2,90 148,90.8 146.8,91.2 C145.6,91.7 144.3,92 143,92 C141.7,92 140.4,91.7 139.2,91.2 C138,90.8 136.8,90 135.9,89.1 C135,88.2 134.2,87 133.8,85.8 C133.3,84.6 133,83.3 133,82 C133,80.7 133.3,79.4 133.8,78.2 C134.2,77 135,75.8 135.9,74.9 C136.8,74 138,73.2 139.2,72.8 C140.4,72.3 141.7,72 143,72 C144.3,72 145.6,72.3 146.8,72.8 C148,73.2 149.2,74 150.1,74.9 C151,75.8 151.8,77 152.2,78.2 C152.7,79.4 153,80.7 153,82 Z" fill="#18a0a0" opacity="0.9" filter="url(#b2)"/><path d="M38,138 C43.3,132.7 60.5,127.7 70,128 C79.5,128.3 87,140.3 95,140 C103,139.7 110.2,126.8 118,126 C125.8,125.2 137.5,129.3 142,135 C146.5,140.7 147.8,153 145,160 C142.2,167 134.2,173.3 125,177 C115.8,180.7 101.7,182 90,182 C78.3,182 63.7,180.7 55,177 C46.3,173.3 40.8,166.5 38,160 C35.2,153.5 32.7,143.3 38,138 Z" fill="#2536c8" opacity="0.97" filter="url(#b2)"/><path d="M45,142 C49.2,138 61.7,133.3 70,134 C78.3,134.7 87,146.3 95,146 C103,145.7 110.8,133 118,132 C125.2,131 134.7,135.3 138,140 C141.3,144.7 141,154.5 138,160 C135,165.5 128,170.2 120,173 C112,175.8 100.3,177.2 90,177 C79.7,176.8 65.5,175.2 58,172 C50.5,168.8 47.2,163 45,158 C42.8,153 40.8,146 45,142 Z" fill="#1f8fc8" opacity="0.95" filter="url(#b1)"/><path d="M52,145 C55.3,141.8 64.8,137.2 72,138 C79.2,138.8 87.5,150.2 95,150 C102.5,149.8 110.7,137.8 117,137 C123.3,136.2 130.5,141.2 133,145 C135.5,148.8 134.5,156 132,160 C129.5,164 125,167 118,169 C111,171 99.7,172.3 90,172 C80.3,171.7 66.3,169.5 60,167 C53.7,164.5 53.3,160.7 52,157 C50.7,153.3 48.7,148.2 52,145 Z" fill="#2db050" opacity="1" filter="url(#b1)"/><path d="M58,148 C60.8,145.8 68.8,142.2 75,143 C81.2,143.8 88.3,153.2 95,153 C101.7,152.8 109.7,142.8 115,142 C120.3,141.2 125.2,145.3 127,148 C128.8,150.7 128,155.3 126,158 C124,160.7 121,162.7 115,164 C109,165.3 98.3,166.3 90,166 C81.7,165.7 70.3,163.7 65,162 C59.7,160.3 59.2,158.3 58,156 C56.8,153.7 55.2,150.2 58,148 Z" fill="#9cc832" opacity="1" filter="url(#b1)"/><path d="M89.9,156.2 C89.9,157.1 89.4,158 88.7,158.8 C87.9,159.6 86.7,160.3 85.4,160.8 C84.1,161.3 82.4,161.7 80.8,161.9 C79.1,162.1 77.2,162.1 75.4,162 C73.6,161.8 71.7,161.5 70.1,161 C68.5,160.5 66.9,159.8 65.7,159.1 C64.5,158.3 63.5,157.4 62.9,156.5 C62.3,155.7 62,154.7 62.1,153.8 C62.1,152.9 62.6,152 63.3,151.2 C64.1,150.4 65.3,149.7 66.6,149.2 C67.9,148.7 69.6,148.3 71.2,148.1 C72.9,147.9 74.8,147.9 76.6,148 C78.4,148.2 80.3,148.5 81.9,149 C83.5,149.5 85.1,150.2 86.3,150.9 C87.5,151.7 88.5,152.6 89.1,153.5 C89.7,154.3 90,155.3 89.9,156.2 Z" fill="#e0a030" opacity="1" filter="url(#b1)"/><path d="M123.6,147.2 C123.8,147.9 123.7,148.8 123.4,149.6 C123.1,150.4 122.4,151.3 121.6,152.1 C120.8,152.9 119.7,153.6 118.5,154.3 C117.3,154.9 115.9,155.4 114.6,155.8 C113.2,156.2 111.7,156.4 110.4,156.4 C109,156.5 107.7,156.4 106.6,156.1 C105.5,155.8 104.5,155.4 103.8,154.8 C103.1,154.3 102.6,153.6 102.4,152.8 C102.2,152.1 102.3,151.2 102.6,150.4 C102.9,149.6 103.6,148.7 104.4,147.9 C105.2,147.1 106.3,146.4 107.5,145.7 C108.7,145.1 110.1,144.6 111.4,144.2 C112.8,143.8 114.3,143.6 115.6,143.6 C117,143.5 118.3,143.6 119.4,143.9 C120.5,144.2 121.5,144.6 122.2,145.2 C122.9,145.7 123.4,146.4 123.6,147.2 Z" fill="#e0a030" opacity="1" filter="url(#b1)"/><line x1="166" y1="182" x2="146.5" y2="172.5" stroke="#f5e633" stroke-width="4.2"/><path d="M133,166 L150,165.3 L143,179.7 Z" fill="#f5e633"/></g></g><clipPath id="cs3"><rect x="692.5" y="283.8" width="183.3" height="427.2"/></clipPath><rect x="692.5" y="283.8" width="183.3" height="427.2" fill="#000"/><g clip-path="url(#cs3)"><g transform="translate(692.5 283.8)"><path d="M77,12 C84.5,9.8 98.7,16.5 110,22 C121.3,27.5 135.8,36.2 145,45 C154.2,53.8 161.5,65 165,75 C168.5,85 166.8,95.8 166,105 C165.2,114.2 159.7,118.5 160,130 C160.3,141.5 166.7,155.7 168,174 C169.3,192.3 168.3,219 168,240 C167.7,261 167,280 166,300 C165,320 163,346.7 162,360 C161,373.3 159.7,368.8 160,380 C160.3,391.2 167.3,419.2 164,427 C160.7,434.8 144.3,433.2 140,427 C135.7,420.8 143,397 138,390 C133,383 118.3,388.8 110,385 C101.7,381.2 95.7,376.2 88,367 C80.3,357.8 70,342.5 64,330 C58,317.5 56.3,307 52,292 C47.7,277 42.5,255.3 38,240 C33.5,224.7 28.8,213.3 25,200 C21.2,186.7 16.2,173.3 15,160 C13.8,146.7 15.5,130 18,120 C20.5,110 25.5,104.7 30,100 C34.5,95.3 40.8,97 45,92 C49.2,87 51.7,79.5 55,70 C58.3,60.5 61.3,44.7 65,35 C68.7,25.3 69.5,14.2 77,12 Z" fill="#3e3e3e" stroke="#626262" stroke-width="3" filter="url(#b1)"/><clipPath id="bc8"><path d="M77,12 C84.5,9.8 98.7,16.5 110,22 C121.3,27.5 135.8,36.2 145,45 C154.2,53.8 161.5,65 165,75 C168.5,85 166.8,95.8 166,105 C165.2,114.2 159.7,118.5 160,130 C160.3,141.5 166.7,155.7 168,174 C169.3,192.3 168.3,219 168,240 C167.7,261 167,280 166,300 C165,320 163,346.7 162,360 C161,373.3 159.7,368.8 160,380 C160.3,391.2 167.3,419.2 164,427 C160.7,434.8 144.3,433.2 140,427 C135.7,420.8 143,397 138,390 C133,383 118.3,388.8 110,385 C101.7,381.2 95.7,376.2 88,367 C80.3,357.8 70,342.5 64,330 C58,317.5 56.3,307 52,292 C47.7,277 42.5,255.3 38,240 C33.5,224.7 28.8,213.3 25,200 C21.2,186.7 16.2,173.3 15,160 C13.8,146.7 15.5,130 18,120 C20.5,110 25.5,104.7 30,100 C34.5,95.3 40.8,97 45,92 C49.2,87 51.7,79.5 55,70 C58.3,60.5 61.3,44.7 65,35 C68.7,25.3 69.5,14.2 77,12 Z"/></clipPath><g clip-path="url(#bc8)" style="mix-blend-mode:overlay" opacity="0.75"><rect x="0" y="0" width="190" height="430" filter="url(#noise)"/></g><path d="M72,15 C77.8,12 97.8,17 110,22 C122.2,27 135.8,36.2 145,45 C154.2,53.8 162.5,65 165,75 C167.5,85 167.5,99.5 160,105 C152.5,110.5 130.8,109.2 120,108 C109.2,106.8 101.7,104.3 95,98 C88.3,91.7 83.3,79.7 80,70 C76.7,60.3 76.3,49.2 75,40 C73.7,30.8 66.2,18 72,15 Z" fill="#9d9d9d"/><path d="M110,45 C115.8,41.7 132.5,49.2 140,55 C147.5,60.8 153.3,72.5 155,80 C156.7,87.5 156.2,97 150,100 C143.8,103 125.5,102.2 118,98 C110.5,93.8 106.3,83.8 105,75 C103.7,66.2 104.2,48.3 110,45 Z" fill="#555" fill-opacity="0.55"/><path d="M20,118 Q30,102 60,100 Q80,100 76,115 Q72,132 100,138 Q140,145 148,175 L148,260 L147,340 L147,427" stroke="#acacac" stroke-width="11" fill="none"/><path d="M150,200 L160,200 M150,220 L160,220 M150,240 L160,240 M150,260 L160,260" stroke="#555" stroke-width="4"/><path d="M22,110 L20,160" stroke="#a0a0a0" stroke-width="9"/><rect x="144" y="398" width="18" height="29" fill="#b0b0b0"/><path d="M74,18 C76.5,13.8 86.5,17.2 90,20 C93.5,22.8 95,30.3 95,35 C95,39.7 93.3,46.3 90,48 C86.7,49.7 77.7,50 75,45 C72.3,40 71.5,22.2 74,18 Z" fill="#2a3acb" opacity="0.9" filter="url(#b2)"/><path d="M89,32 C89,32.6 88.9,33.3 88.6,33.9 C88.4,34.5 88,35.1 87.5,35.5 C87.1,36 86.5,36.4 85.9,36.6 C85.3,36.9 84.6,37 84,37 C83.4,37 82.7,36.9 82.1,36.6 C81.5,36.4 80.9,36 80.5,35.5 C80,35.1 79.6,34.5 79.4,33.9 C79.1,33.3 79,32.6 79,32 C79,31.4 79.1,30.7 79.4,30.1 C79.6,29.5 80,28.9 80.5,28.5 C80.9,28 81.5,27.6 82.1,27.4 C82.7,27.1 83.4,27 84,27 C84.6,27 85.3,27.1 85.9,27.4 C86.5,27.6 87.1,28 87.5,28.5 C88,28.9 88.4,29.5 88.6,30.1 C88.9,30.7 89,31.4 89,32 Z" fill="#20b0c0" opacity="0.9" filter="url(#b1)"/><path d="M110,55 C110,55.6 109.5,56.3 108.5,56.9 C107.5,57.5 105.9,58.1 104.1,58.5 C102.3,59 100,59.4 97.7,59.6 C95.3,59.9 92.6,60 90,60 C87.4,60 84.7,59.9 82.3,59.6 C80,59.4 77.7,59 75.9,58.5 C74.1,58.1 72.5,57.5 71.5,56.9 C70.5,56.3 70,55.6 70,55 C70,54.4 70.5,53.7 71.5,53.1 C72.5,52.5 74.1,51.9 75.9,51.5 C77.7,51 80,50.6 82.3,50.4 C84.7,50.1 87.4,50 90,50 C92.6,50 95.3,50.1 97.7,50.4 C100,50.6 102.3,51 104.1,51.5 C105.9,51.9 107.5,52.5 108.5,53.1 C109.5,53.7 110,54.4 110,55 Z" fill="#2a3acb" opacity="0.5" filter="url(#b2)"/><g filter="url(#b05)"><path d="M45,80 C48.3,76.7 58.3,71.7 65,72 C71.7,72.3 82.5,78.7 85,82 C87.5,85.3 85,89.3 80,92 C75,94.7 60.8,98 55,98 C49.2,98 46.7,95 45,92 C43.3,89 41.7,83.3 45,80 Z" fill="#1c1c70" stroke="#1c1c70" stroke-width="16.8" stroke-linejoin="round" opacity="0.95"/><path d="M45,80 C48.3,76.7 58.3,71.7 65,72 C71.7,72.3 82.5,78.7 85,82 C87.5,85.3 85,89.3 80,92 C75,94.7 60.8,98 55,98 C49.2,98 46.7,95 45,92 C43.3,89 41.7,83.3 45,80 Z" fill="#2f42b8" stroke="#2f42b8" stroke-width="14" stroke-linejoin="round" opacity="1"/><path d="M45,80 C48.3,76.7 58.3,71.7 65,72 C71.7,72.3 82.5,78.7 85,82 C87.5,85.3 85,89.3 80,92 C75,94.7 60.8,98 55,98 C49.2,98 46.7,95 45,92 C43.3,89 41.7,83.3 45,80 Z" fill="#1a8cc0" stroke="#1a8cc0" stroke-width="10.8" stroke-linejoin="round" opacity="1"/><path d="M45,80 C48.3,76.7 58.3,71.7 65,72 C71.7,72.3 82.5,78.7 85,82 C87.5,85.3 85,89.3 80,92 C75,94.7 60.8,98 55,98 C49.2,98 46.7,95 45,92 C43.3,89 41.7,83.3 45,80 Z" fill="#28a850" stroke="#28a850" stroke-width="8.4" stroke-linejoin="round" opacity="1"/><path d="M45,80 C48.3,76.7 58.3,71.7 65,72 C71.7,72.3 82.5,78.7 85,82 C87.5,85.3 85,89.3 80,92 C75,94.7 60.8,98 55,98 C49.2,98 46.7,95 45,92 C43.3,89 41.7,83.3 45,80 Z" fill="#d8c828" stroke="#d8c828" stroke-width="6.4" stroke-linejoin="round" opacity="1"/><path d="M45,80 C48.3,76.7 58.3,71.7 65,72 C71.7,72.3 82.5,78.7 85,82 C87.5,85.3 85,89.3 80,92 C75,94.7 60.8,98 55,98 C49.2,98 46.7,95 45,92 C43.3,89 41.7,83.3 45,80 Z" fill="#e3203a" stroke="#e3203a" stroke-width="5" stroke-linejoin="round" opacity="1"/></g><path d="M45,80 C48.3,76.7 58.3,71.7 65,72 C71.7,72.3 82.5,78.7 85,82 C87.5,85.3 85,89.3 80,92 C75,94.7 60.8,98 55,98 C49.2,98 46.7,95 45,92 C43.3,89 41.7,83.3 45,80 Z" fill="#e42235"/><path d="M105,82 C105,83 104.6,84.1 103.9,85.1 C103.1,86 102,86.9 100.6,87.7 C99.3,88.4 97.5,89 95.7,89.4 C94,89.8 91.9,90 90,90 C88.1,90 86,89.8 84.3,89.4 C82.5,89 80.7,88.4 79.4,87.7 C78,86.9 76.9,86 76.1,85.1 C75.4,84.1 75,83 75,82 C75,81 75.4,79.9 76.1,78.9 C76.9,78 78,77.1 79.4,76.3 C80.7,75.6 82.5,75 84.3,74.6 C86,74.2 88.1,74 90,74 C91.9,74 94,74.2 95.7,74.6 C97.5,75 99.3,75.6 100.6,76.3 C102,77.1 103.1,78 103.9,78.9 C104.6,79.9 105,81 105,82 Z" fill="#2a3acb" opacity="0.7" filter="url(#b2)"/><g filter="url(#b05)"><path d="M100,115 C104.2,112.3 121.7,111.5 130,112 C138.3,112.5 145.8,113.3 150,118 C154.2,122.7 155.3,135 155,140 C154.7,145 153,148.8 148,148 C143,147.2 132.2,138.3 125,135 C117.8,131.7 109.2,131.3 105,128 C100.8,124.7 95.8,117.7 100,115 Z" fill="#1c1c70" stroke="#1c1c70" stroke-width="16.8" stroke-linejoin="round" opacity="0.95"/><path d="M100,115 C104.2,112.3 121.7,111.5 130,112 C138.3,112.5 145.8,113.3 150,118 C154.2,122.7 155.3,135 155,140 C154.7,145 153,148.8 148,148 C143,147.2 132.2,138.3 125,135 C117.8,131.7 109.2,131.3 105,128 C100.8,124.7 95.8,117.7 100,115 Z" fill="#2f42b8" stroke="#2f42b8" stroke-width="14" stroke-linejoin="round" opacity="1"/><path d="M100,115 C104.2,112.3 121.7,111.5 130,112 C138.3,112.5 145.8,113.3 150,118 C154.2,122.7 155.3,135 155,140 C154.7,145 153,148.8 148,148 C143,147.2 132.2,138.3 125,135 C117.8,131.7 109.2,131.3 105,128 C100.8,124.7 95.8,117.7 100,115 Z" fill="#1a8cc0" stroke="#1a8cc0" stroke-width="10.8" stroke-linejoin="round" opacity="1"/><path d="M100,115 C104.2,112.3 121.7,111.5 130,112 C138.3,112.5 145.8,113.3 150,118 C154.2,122.7 155.3,135 155,140 C154.7,145 153,148.8 148,148 C143,147.2 132.2,138.3 125,135 C117.8,131.7 109.2,131.3 105,128 C100.8,124.7 95.8,117.7 100,115 Z" fill="#28a850" stroke="#28a850" stroke-width="8.4" stroke-linejoin="round" opacity="1"/><path d="M100,115 C104.2,112.3 121.7,111.5 130,112 C138.3,112.5 145.8,113.3 150,118 C154.2,122.7 155.3,135 155,140 C154.7,145 153,148.8 148,148 C143,147.2 132.2,138.3 125,135 C117.8,131.7 109.2,131.3 105,128 C100.8,124.7 95.8,117.7 100,115 Z" fill="#d8c828" stroke="#d8c828" stroke-width="6.4" stroke-linejoin="round" opacity="1"/><path d="M100,115 C104.2,112.3 121.7,111.5 130,112 C138.3,112.5 145.8,113.3 150,118 C154.2,122.7 155.3,135 155,140 C154.7,145 153,148.8 148,148 C143,147.2 132.2,138.3 125,135 C117.8,131.7 109.2,131.3 105,128 C100.8,124.7 95.8,117.7 100,115 Z" fill="#e3203a" stroke="#e3203a" stroke-width="5" stroke-linejoin="round" opacity="1"/></g><path d="M100,115 C104.2,112.3 121.7,111.5 130,112 C138.3,112.5 145.8,113.3 150,118 C154.2,122.7 155.3,135 155,140 C154.7,145 153,148.8 148,148 C143,147.2 132.2,138.3 125,135 C117.8,131.7 109.2,131.3 105,128 C100.8,124.7 95.8,117.7 100,115 Z" fill="#c8a036"/><path d="M132,122 C132,122.6 131.7,123.3 131.1,123.9 C130.5,124.5 129.6,125.1 128.5,125.5 C127.4,126 126,126.4 124.6,126.6 C123.2,126.9 121.5,127 120,127 C118.5,127 116.8,126.9 115.4,126.6 C114,126.4 112.6,126 111.5,125.5 C110.4,125.1 109.5,124.5 108.9,123.9 C108.3,123.3 108,122.6 108,122 C108,121.4 108.3,120.7 108.9,120.1 C109.5,119.5 110.4,118.9 111.5,118.5 C112.6,118 114,117.6 115.4,117.4 C116.8,117.1 118.5,117 120,117 C121.5,117 123.2,117.1 124.6,117.4 C126,117.6 127.4,118 128.5,118.5 C129.6,118.9 130.5,119.5 131.1,120.1 C131.7,120.7 132,121.4 132,122 Z" fill="#d08030" opacity="0.8" filter="url(#b1)"/><path d="M25,130 C33.3,123.8 65.8,126.3 80,128 C94.2,129.7 101.7,134.7 110,140 C118.3,145.3 130,155 130,160 C130,165 126.7,169.2 110,170 C93.3,170.8 44.2,171.7 30,165 C15.8,158.3 16.7,136.2 25,130 Z" fill="#2a3acb" opacity="0.9" filter="url(#b2)"/><g filter="url(#b05)"><path d="M22,160 C27.8,154.2 45.3,150 60,150 C74.7,150 99.2,155.8 110,160 C120.8,164.2 121.7,166.7 125,175 C128.3,183.3 130,199.2 130,210 C130,220.8 127.5,232.5 125,240 C122.5,247.5 119.2,251.3 115,255 C110.8,258.7 106.7,260.8 100,262 C93.3,263.2 82.5,263.2 75,262 C67.5,260.8 60,259.5 55,255 C50,250.5 47.8,242.5 45,235 C42.2,227.5 41.3,218.3 38,210 C34.7,201.7 27.7,193.3 25,185 C22.3,176.7 16.2,165.8 22,160 Z" fill="#1c1c70" stroke="#1c1c70" stroke-width="25.2" stroke-linejoin="round" opacity="0.95"/><path d="M22,160 C27.8,154.2 45.3,150 60,150 C74.7,150 99.2,155.8 110,160 C120.8,164.2 121.7,166.7 125,175 C128.3,183.3 130,199.2 130,210 C130,220.8 127.5,232.5 125,240 C122.5,247.5 119.2,251.3 115,255 C110.8,258.7 106.7,260.8 100,262 C93.3,263.2 82.5,263.2 75,262 C67.5,260.8 60,259.5 55,255 C50,250.5 47.8,242.5 45,235 C42.2,227.5 41.3,218.3 38,210 C34.7,201.7 27.7,193.3 25,185 C22.3,176.7 16.2,165.8 22,160 Z" fill="#2f42b8" stroke="#2f42b8" stroke-width="21" stroke-linejoin="round" opacity="1"/><path d="M22,160 C27.8,154.2 45.3,150 60,150 C74.7,150 99.2,155.8 110,160 C120.8,164.2 121.7,166.7 125,175 C128.3,183.3 130,199.2 130,210 C130,220.8 127.5,232.5 125,240 C122.5,247.5 119.2,251.3 115,255 C110.8,258.7 106.7,260.8 100,262 C93.3,263.2 82.5,263.2 75,262 C67.5,260.8 60,259.5 55,255 C50,250.5 47.8,242.5 45,235 C42.2,227.5 41.3,218.3 38,210 C34.7,201.7 27.7,193.3 25,185 C22.3,176.7 16.2,165.8 22,160 Z" fill="#1a8cc0" stroke="#1a8cc0" stroke-width="16.2" stroke-linejoin="round" opacity="1"/><path d="M22,160 C27.8,154.2 45.3,150 60,150 C74.7,150 99.2,155.8 110,160 C120.8,164.2 121.7,166.7 125,175 C128.3,183.3 130,199.2 130,210 C130,220.8 127.5,232.5 125,240 C122.5,247.5 119.2,251.3 115,255 C110.8,258.7 106.7,260.8 100,262 C93.3,263.2 82.5,263.2 75,262 C67.5,260.8 60,259.5 55,255 C50,250.5 47.8,242.5 45,235 C42.2,227.5 41.3,218.3 38,210 C34.7,201.7 27.7,193.3 25,185 C22.3,176.7 16.2,165.8 22,160 Z" fill="#28a850" stroke="#28a850" stroke-width="12.6" stroke-linejoin="round" opacity="1"/><path d="M22,160 C27.8,154.2 45.3,150 60,150 C74.7,150 99.2,155.8 110,160 C120.8,164.2 121.7,166.7 125,175 C128.3,183.3 130,199.2 130,210 C130,220.8 127.5,232.5 125,240 C122.5,247.5 119.2,251.3 115,255 C110.8,258.7 106.7,260.8 100,262 C93.3,263.2 82.5,263.2 75,262 C67.5,260.8 60,259.5 55,255 C50,250.5 47.8,242.5 45,235 C42.2,227.5 41.3,218.3 38,210 C34.7,201.7 27.7,193.3 25,185 C22.3,176.7 16.2,165.8 22,160 Z" fill="#d8c828" stroke="#d8c828" stroke-width="9.6" stroke-linejoin="round" opacity="1"/><path d="M22,160 C27.8,154.2 45.3,150 60,150 C74.7,150 99.2,155.8 110,160 C120.8,164.2 121.7,166.7 125,175 C128.3,183.3 130,199.2 130,210 C130,220.8 127.5,232.5 125,240 C122.5,247.5 119.2,251.3 115,255 C110.8,258.7 106.7,260.8 100,262 C93.3,263.2 82.5,263.2 75,262 C67.5,260.8 60,259.5 55,255 C50,250.5 47.8,242.5 45,235 C42.2,227.5 41.3,218.3 38,210 C34.7,201.7 27.7,193.3 25,185 C22.3,176.7 16.2,165.8 22,160 Z" fill="#e3203a" stroke="#e3203a" stroke-width="7.4" stroke-linejoin="round" opacity="1"/></g><path d="M22,160 C27.8,154.2 45.3,150 60,150 C74.7,150 99.2,155.8 110,160 C120.8,164.2 121.7,166.7 125,175 C128.3,183.3 130,199.2 130,210 C130,220.8 127.5,232.5 125,240 C122.5,247.5 119.2,251.3 115,255 C110.8,258.7 106.7,260.8 100,262 C93.3,263.2 82.5,263.2 75,262 C67.5,260.8 60,259.5 55,255 C50,250.5 47.8,242.5 45,235 C42.2,227.5 41.3,218.3 38,210 C34.7,201.7 27.7,193.3 25,185 C22.3,176.7 16.2,165.8 22,160 Z" fill="#e42235"/><path d="M102,258 C102,259 101.4,260.1 100.3,261.1 C99.3,262 97.5,262.9 95.6,263.7 C93.6,264.4 91,265 88.4,265.4 C85.8,265.8 82.8,266 80,266 C77.2,266 74.2,265.8 71.6,265.4 C69,265 66.4,264.4 64.4,263.7 C62.5,262.9 60.7,262 59.7,261.1 C58.6,260.1 58,259 58,258 C58,257 58.6,255.9 59.7,254.9 C60.7,254 62.5,253.1 64.4,252.3 C66.4,251.6 69,251 71.6,250.6 C74.2,250.2 77.2,250 80,250 C82.8,250 85.8,250.2 88.4,250.6 C91,251 93.6,251.6 95.6,252.3 C97.5,253.1 99.3,254 100.3,254.9 C101.4,255.9 102,257 102,258 Z" fill="#1f9a8a" opacity="0.9" filter="url(#b1)"/><path d="M25,162 C31,157.8 47.5,155.7 60,155 C72.5,154.3 92.3,155.2 100,158 C107.7,160.8 107.7,168.7 106,172 C104.3,175.3 97.7,176.7 90,178 C82.3,179.3 68.7,178 60,180 C51.3,182 44,190 38,190 C32,190 26.2,184.7 24,180 C21.8,175.3 19,166.2 25,162 Z" fill="#e0e0e0"/><path d="M85,190 C87.2,185.2 93.5,183.5 98,186 C102.5,188.5 109.2,196.8 112,205 C114.8,213.2 115.7,228.3 115,235 C114.3,241.7 111.3,244.2 108,245 C104.7,245.8 98.8,245 95,240 C91.2,235 86.7,223.3 85,215 C83.3,206.7 82.8,194.8 85,190 Z" fill="#e0e0e0"/><ellipse cx="63" cy="191" rx="12" ry="8" fill="#2838b0" stroke="#26a060" stroke-width="4" filter="url(#b1)"/><ellipse cx="63" cy="191" rx="8" ry="5" fill="#333"/><path d="M56,210 C56,210.8 55.8,211.6 55.4,212.3 C55,213 54.4,213.7 53.7,214.2 C52.9,214.8 52,215.3 51.1,215.5 C50.1,215.8 49,216 48,216 C47,216 45.9,215.8 44.9,215.5 C44,215.3 43.1,214.8 42.3,214.2 C41.6,213.7 41,213 40.6,212.3 C40.2,211.6 40,210.8 40,210 C40,209.2 40.2,208.4 40.6,207.7 C41,207 41.6,206.3 42.3,205.8 C43.1,205.2 44,204.7 44.9,204.5 C45.9,204.2 47,204 48,204 C49,204 50.1,204.2 51.1,204.5 C52,204.7 52.9,205.2 53.7,205.8 C54.4,206.3 55,207 55.4,207.7 C55.8,208.4 56,209.2 56,210 Z" fill="#e0187a" opacity="0.5" filter="url(#b2)"/><g filter="url(#b05)"><path d="M133,303 C133,306.7 132,310.7 130.1,314.1 C128.3,317.5 125.3,320.9 121.9,323.5 C118.4,326.1 114,328.4 109.5,329.8 C105.1,331.2 99.8,332 95,332 C90.2,332 84.9,331.2 80.5,329.8 C76,328.4 71.6,326.1 68.1,323.5 C64.7,320.9 61.7,317.5 59.9,314.1 C58,310.7 57,306.7 57,303 C57,299.3 58,295.3 59.9,291.9 C61.7,288.5 64.7,285.1 68.1,282.5 C71.6,279.9 76,277.6 80.5,276.2 C84.9,274.8 90.2,274 95,274 C99.8,274 105.1,274.8 109.5,276.2 C114,277.6 118.4,279.9 121.9,282.5 C125.3,285.1 128.3,288.5 130.1,291.9 C132,295.3 133,299.3 133,303 Z" fill="#1c1c70" stroke="#1c1c70" stroke-width="21" stroke-linejoin="round" opacity="0.95"/><path d="M133,303 C133,306.7 132,310.7 130.1,314.1 C128.3,317.5 125.3,320.9 121.9,323.5 C118.4,326.1 114,328.4 109.5,329.8 C105.1,331.2 99.8,332 95,332 C90.2,332 84.9,331.2 80.5,329.8 C76,328.4 71.6,326.1 68.1,323.5 C64.7,320.9 61.7,317.5 59.9,314.1 C58,310.7 57,306.7 57,303 C57,299.3 58,295.3 59.9,291.9 C61.7,288.5 64.7,285.1 68.1,282.5 C71.6,279.9 76,277.6 80.5,276.2 C84.9,274.8 90.2,274 95,274 C99.8,274 105.1,274.8 109.5,276.2 C114,277.6 118.4,279.9 121.9,282.5 C125.3,285.1 128.3,288.5 130.1,291.9 C132,295.3 133,299.3 133,303 Z" fill="#2f42b8" stroke="#2f42b8" stroke-width="17.5" stroke-linejoin="round" opacity="1"/><path d="M133,303 C133,306.7 132,310.7 130.1,314.1 C128.3,317.5 125.3,320.9 121.9,323.5 C118.4,326.1 114,328.4 109.5,329.8 C105.1,331.2 99.8,332 95,332 C90.2,332 84.9,331.2 80.5,329.8 C76,328.4 71.6,326.1 68.1,323.5 C64.7,320.9 61.7,317.5 59.9,314.1 C58,310.7 57,306.7 57,303 C57,299.3 58,295.3 59.9,291.9 C61.7,288.5 64.7,285.1 68.1,282.5 C71.6,279.9 76,277.6 80.5,276.2 C84.9,274.8 90.2,274 95,274 C99.8,274 105.1,274.8 109.5,276.2 C114,277.6 118.4,279.9 121.9,282.5 C125.3,285.1 128.3,288.5 130.1,291.9 C132,295.3 133,299.3 133,303 Z" fill="#1a8cc0" stroke="#1a8cc0" stroke-width="13.5" stroke-linejoin="round" opacity="1"/><path d="M133,303 C133,306.7 132,310.7 130.1,314.1 C128.3,317.5 125.3,320.9 121.9,323.5 C118.4,326.1 114,328.4 109.5,329.8 C105.1,331.2 99.8,332 95,332 C90.2,332 84.9,331.2 80.5,329.8 C76,328.4 71.6,326.1 68.1,323.5 C64.7,320.9 61.7,317.5 59.9,314.1 C58,310.7 57,306.7 57,303 C57,299.3 58,295.3 59.9,291.9 C61.7,288.5 64.7,285.1 68.1,282.5 C71.6,279.9 76,277.6 80.5,276.2 C84.9,274.8 90.2,274 95,274 C99.8,274 105.1,274.8 109.5,276.2 C114,277.6 118.4,279.9 121.9,282.5 C125.3,285.1 128.3,288.5 130.1,291.9 C132,295.3 133,299.3 133,303 Z" fill="#28a850" stroke="#28a850" stroke-width="10.5" stroke-linejoin="round" opacity="1"/><path d="M133,303 C133,306.7 132,310.7 130.1,314.1 C128.3,317.5 125.3,320.9 121.9,323.5 C118.4,326.1 114,328.4 109.5,329.8 C105.1,331.2 99.8,332 95,332 C90.2,332 84.9,331.2 80.5,329.8 C76,328.4 71.6,326.1 68.1,323.5 C64.7,320.9 61.7,317.5 59.9,314.1 C58,310.7 57,306.7 57,303 C57,299.3 58,295.3 59.9,291.9 C61.7,288.5 64.7,285.1 68.1,282.5 C71.6,279.9 76,277.6 80.5,276.2 C84.9,274.8 90.2,274 95,274 C99.8,274 105.1,274.8 109.5,276.2 C114,277.6 118.4,279.9 121.9,282.5 C125.3,285.1 128.3,288.5 130.1,291.9 C132,295.3 133,299.3 133,303 Z" fill="#d8c828" stroke="#d8c828" stroke-width="8" stroke-linejoin="round" opacity="1"/><path d="M133,303 C133,306.7 132,310.7 130.1,314.1 C128.3,317.5 125.3,320.9 121.9,323.5 C118.4,326.1 114,328.4 109.5,329.8 C105.1,331.2 99.8,332 95,332 C90.2,332 84.9,331.2 80.5,329.8 C76,328.4 71.6,326.1 68.1,323.5 C64.7,320.9 61.7,317.5 59.9,314.1 C58,310.7 57,306.7 57,303 C57,299.3 58,295.3 59.9,291.9 C61.7,288.5 64.7,285.1 68.1,282.5 C71.6,279.9 76,277.6 80.5,276.2 C84.9,274.8 90.2,274 95,274 C99.8,274 105.1,274.8 109.5,276.2 C114,277.6 118.4,279.9 121.9,282.5 C125.3,285.1 128.3,288.5 130.1,291.9 C132,295.3 133,299.3 133,303 Z" fill="#e3203a" stroke="#e3203a" stroke-width="6.2" stroke-linejoin="round" opacity="1"/></g><path d="M133,303 C133,306.7 132,310.7 130.1,314.1 C128.3,317.5 125.3,320.9 121.9,323.5 C118.4,326.1 114,328.4 109.5,329.8 C105.1,331.2 99.8,332 95,332 C90.2,332 84.9,331.2 80.5,329.8 C76,328.4 71.6,326.1 68.1,323.5 C64.7,320.9 61.7,317.5 59.9,314.1 C58,310.7 57,306.7 57,303 C57,299.3 58,295.3 59.9,291.9 C61.7,288.5 64.7,285.1 68.1,282.5 C71.6,279.9 76,277.6 80.5,276.2 C84.9,274.8 90.2,274 95,274 C99.8,274 105.1,274.8 109.5,276.2 C114,277.6 118.4,279.9 121.9,282.5 C125.3,285.1 128.3,288.5 130.1,291.9 C132,295.3 133,299.3 133,303 Z" fill="#e0e0e0"/><g filter="url(#b05)"><path d="M120.2,339.6 C120.6,340.5 120.6,341.7 120.3,342.8 C120.1,343.9 119.4,345.1 118.6,346.2 C117.7,347.3 116.5,348.4 115.2,349.2 C113.9,350.1 112.3,351 110.7,351.5 C109.2,352.1 107.4,352.5 105.9,352.6 C104.3,352.8 102.6,352.7 101.3,352.5 C99.9,352.2 98.7,351.7 97.8,351 C96.8,350.3 96.1,349.4 95.8,348.4 C95.4,347.5 95.4,346.3 95.7,345.2 C95.9,344.1 96.6,342.9 97.4,341.8 C98.3,340.7 99.5,339.6 100.8,338.8 C102.1,337.9 103.7,337 105.3,336.5 C106.8,335.9 108.6,335.5 110.1,335.4 C111.7,335.2 113.4,335.3 114.7,335.5 C116.1,335.8 117.3,336.3 118.2,337 C119.2,337.7 119.9,338.6 120.2,339.6 Z" fill="#1c1c70" stroke="#1c1c70" stroke-width="21" stroke-linejoin="round" opacity="0.95"/><path d="M120.2,339.6 C120.6,340.5 120.6,341.7 120.3,342.8 C120.1,343.9 119.4,345.1 118.6,346.2 C117.7,347.3 116.5,348.4 115.2,349.2 C113.9,350.1 112.3,351 110.7,351.5 C109.2,352.1 107.4,352.5 105.9,352.6 C104.3,352.8 102.6,352.7 101.3,352.5 C99.9,352.2 98.7,351.7 97.8,351 C96.8,350.3 96.1,349.4 95.8,348.4 C95.4,347.5 95.4,346.3 95.7,345.2 C95.9,344.1 96.6,342.9 97.4,341.8 C98.3,340.7 99.5,339.6 100.8,338.8 C102.1,337.9 103.7,337 105.3,336.5 C106.8,335.9 108.6,335.5 110.1,335.4 C111.7,335.2 113.4,335.3 114.7,335.5 C116.1,335.8 117.3,336.3 118.2,337 C119.2,337.7 119.9,338.6 120.2,339.6 Z" fill="#2f42b8" stroke="#2f42b8" stroke-width="17.5" stroke-linejoin="round" opacity="1"/><path d="M120.2,339.6 C120.6,340.5 120.6,341.7 120.3,342.8 C120.1,343.9 119.4,345.1 118.6,346.2 C117.7,347.3 116.5,348.4 115.2,349.2 C113.9,350.1 112.3,351 110.7,351.5 C109.2,352.1 107.4,352.5 105.9,352.6 C104.3,352.8 102.6,352.7 101.3,352.5 C99.9,352.2 98.7,351.7 97.8,351 C96.8,350.3 96.1,349.4 95.8,348.4 C95.4,347.5 95.4,346.3 95.7,345.2 C95.9,344.1 96.6,342.9 97.4,341.8 C98.3,340.7 99.5,339.6 100.8,338.8 C102.1,337.9 103.7,337 105.3,336.5 C106.8,335.9 108.6,335.5 110.1,335.4 C111.7,335.2 113.4,335.3 114.7,335.5 C116.1,335.8 117.3,336.3 118.2,337 C119.2,337.7 119.9,338.6 120.2,339.6 Z" fill="#1a8cc0" stroke="#1a8cc0" stroke-width="13.5" stroke-linejoin="round" opacity="1"/><path d="M120.2,339.6 C120.6,340.5 120.6,341.7 120.3,342.8 C120.1,343.9 119.4,345.1 118.6,346.2 C117.7,347.3 116.5,348.4 115.2,349.2 C113.9,350.1 112.3,351 110.7,351.5 C109.2,352.1 107.4,352.5 105.9,352.6 C104.3,352.8 102.6,352.7 101.3,352.5 C99.9,352.2 98.7,351.7 97.8,351 C96.8,350.3 96.1,349.4 95.8,348.4 C95.4,347.5 95.4,346.3 95.7,345.2 C95.9,344.1 96.6,342.9 97.4,341.8 C98.3,340.7 99.5,339.6 100.8,338.8 C102.1,337.9 103.7,337 105.3,336.5 C106.8,335.9 108.6,335.5 110.1,335.4 C111.7,335.2 113.4,335.3 114.7,335.5 C116.1,335.8 117.3,336.3 118.2,337 C119.2,337.7 119.9,338.6 120.2,339.6 Z" fill="#28a850" stroke="#28a850" stroke-width="10.5" stroke-linejoin="round" opacity="1"/><path d="M120.2,339.6 C120.6,340.5 120.6,341.7 120.3,342.8 C120.1,343.9 119.4,345.1 118.6,346.2 C117.7,347.3 116.5,348.4 115.2,349.2 C113.9,350.1 112.3,351 110.7,351.5 C109.2,352.1 107.4,352.5 105.9,352.6 C104.3,352.8 102.6,352.7 101.3,352.5 C99.9,352.2 98.7,351.7 97.8,351 C96.8,350.3 96.1,349.4 95.8,348.4 C95.4,347.5 95.4,346.3 95.7,345.2 C95.9,344.1 96.6,342.9 97.4,341.8 C98.3,340.7 99.5,339.6 100.8,338.8 C102.1,337.9 103.7,337 105.3,336.5 C106.8,335.9 108.6,335.5 110.1,335.4 C111.7,335.2 113.4,335.3 114.7,335.5 C116.1,335.8 117.3,336.3 118.2,337 C119.2,337.7 119.9,338.6 120.2,339.6 Z" fill="#d8c828" stroke="#d8c828" stroke-width="8" stroke-linejoin="round" opacity="1"/><path d="M120.2,339.6 C120.6,340.5 120.6,341.7 120.3,342.8 C120.1,343.9 119.4,345.1 118.6,346.2 C117.7,347.3 116.5,348.4 115.2,349.2 C113.9,350.1 112.3,351 110.7,351.5 C109.2,352.1 107.4,352.5 105.9,352.6 C104.3,352.8 102.6,352.7 101.3,352.5 C99.9,352.2 98.7,351.7 97.8,351 C96.8,350.3 96.1,349.4 95.8,348.4 C95.4,347.5 95.4,346.3 95.7,345.2 C95.9,344.1 96.6,342.9 97.4,341.8 C98.3,340.7 99.5,339.6 100.8,338.8 C102.1,337.9 103.7,337 105.3,336.5 C106.8,335.9 108.6,335.5 110.1,335.4 C111.7,335.2 113.4,335.3 114.7,335.5 C116.1,335.8 117.3,336.3 118.2,337 C119.2,337.7 119.9,338.6 120.2,339.6 Z" fill="#e3203a" stroke="#e3203a" stroke-width="6.2" stroke-linejoin="round" opacity="1"/></g><path d="M120.2,339.6 C120.6,340.5 120.6,341.7 120.3,342.8 C120.1,343.9 119.4,345.1 118.6,346.2 C117.7,347.3 116.5,348.4 115.2,349.2 C113.9,350.1 112.3,351 110.7,351.5 C109.2,352.1 107.4,352.5 105.9,352.6 C104.3,352.8 102.6,352.7 101.3,352.5 C99.9,352.2 98.7,351.7 97.8,351 C96.8,350.3 96.1,349.4 95.8,348.4 C95.4,347.5 95.4,346.3 95.7,345.2 C95.9,344.1 96.6,342.9 97.4,341.8 C98.3,340.7 99.5,339.6 100.8,338.8 C102.1,337.9 103.7,337 105.3,336.5 C106.8,335.9 108.6,335.5 110.1,335.4 C111.7,335.2 113.4,335.3 114.7,335.5 C116.1,335.8 117.3,336.3 118.2,337 C119.2,337.7 119.9,338.6 120.2,339.6 Z" fill="#e0e0e0"/><path d="M156,385 C156,387.6 155.8,390.3 155.4,392.7 C155,395 154.4,397.3 153.7,399.1 C152.9,400.9 152,402.5 151.1,403.5 C150.1,404.5 149,405 148,405 C147,405 145.9,404.5 144.9,403.5 C144,402.5 143.1,400.9 142.3,399.1 C141.6,397.3 141,395 140.6,392.7 C140.2,390.3 140,387.6 140,385 C140,382.4 140.2,379.7 140.6,377.3 C141,375 141.6,372.7 142.3,370.9 C143.1,369.1 144,367.5 144.9,366.5 C145.9,365.5 147,365 148,365 C149,365 150.1,365.5 151.1,366.5 C152,367.5 152.9,369.1 153.7,370.9 C154.4,372.7 155,375 155.4,377.3 C155.8,379.7 156,382.4 156,385 Z" fill="#2a3acb" opacity="0.85" filter="url(#b2)"/><path d="M161,400 C161,400.8 160.8,401.6 160.5,402.3 C160.3,403 159.8,403.7 159.2,404.2 C158.7,404.8 158,405.3 157.3,405.5 C156.6,405.8 155.8,406 155,406 C154.2,406 153.4,405.8 152.7,405.5 C152,405.3 151.3,404.8 150.8,404.2 C150.2,403.7 149.7,403 149.5,402.3 C149.2,401.6 149,400.8 149,400 C149,399.2 149.2,398.4 149.5,397.7 C149.7,397 150.2,396.3 150.8,395.8 C151.3,395.2 152,394.7 152.7,394.5 C153.4,394.2 154.2,394 155,394 C155.8,394 156.6,394.2 157.3,394.5 C158,394.7 158.7,395.2 159.2,395.8 C159.8,396.3 160.3,397 160.5,397.7 C160.8,398.4 161,399.2 161,400 Z" fill="#e82020" opacity="0.9" filter="url(#b1)"/><path d="M158,401 C158,401.4 157.9,401.8 157.8,402.1 C157.6,402.5 157.4,402.9 157.1,403.1 C156.9,403.4 156.5,403.6 156.1,403.8 C155.8,403.9 155.4,404 155,404 C154.6,404 154.2,403.9 153.9,403.8 C153.5,403.6 153.1,403.4 152.9,403.1 C152.6,402.9 152.4,402.5 152.2,402.1 C152.1,401.8 152,401.4 152,401 C152,400.6 152.1,400.2 152.2,399.9 C152.4,399.5 152.6,399.1 152.9,398.9 C153.1,398.6 153.5,398.4 153.9,398.2 C154.2,398.1 154.6,398 155,398 C155.4,398 155.8,398.1 156.1,398.2 C156.5,398.4 156.9,398.6 157.1,398.9 C157.4,399.1 157.6,399.5 157.8,399.9 C157.9,400.2 158,400.6 158,401 Z" fill="#f0d0d0" opacity="1" filter="url(#b1)"/><line x1="177" y1="104" x2="164.2" y2="113.2" stroke="#f5e633" stroke-width="4.2"/><path d="M152,122 L159.5,106.7 L168.8,119.7 Z" fill="#f5e633"/></g></g><clipPath id="ct4"><rect x="880.2" y="89" width="183.4" height="190.6"/></clipPath><rect x="880.2" y="89" width="183.4" height="190.6" fill="#000"/><g clip-path="url(#ct4)"><g transform="translate(880.2 89)"><path d="M60,12 C70.8,8.5 87.5,7.7 100,9 C112.5,10.3 125,14 135,20 C145,26 153.5,34.2 160,45 C166.5,55.8 172.3,71.7 174,85 C175.7,98.3 174,112.5 170,125 C166,137.5 158.3,151.2 150,160 C141.7,168.8 130.8,174.5 120,178 C109.2,181.5 96.7,182 85,181 C73.3,180 60,178 50,172 C40,166 31.7,156.2 25,145 C18.3,133.8 11.7,117.5 10,105 C8.3,92.5 10.8,82.5 15,70 C19.2,57.5 27.5,39.7 35,30 C42.5,20.3 49.2,15.5 60,12 Z" fill="#4a4a4a" stroke="#707070" stroke-width="4" filter="url(#b1)"/><clipPath id="bc9"><path d="M60,12 C70.8,8.5 87.5,7.7 100,9 C112.5,10.3 125,14 135,20 C145,26 153.5,34.2 160,45 C166.5,55.8 172.3,71.7 174,85 C175.7,98.3 174,112.5 170,125 C166,137.5 158.3,151.2 150,160 C141.7,168.8 130.8,174.5 120,178 C109.2,181.5 96.7,182 85,181 C73.3,180 60,178 50,172 C40,166 31.7,156.2 25,145 C18.3,133.8 11.7,117.5 10,105 C8.3,92.5 10.8,82.5 15,70 C19.2,57.5 27.5,39.7 35,30 C42.5,20.3 49.2,15.5 60,12 Z"/></clipPath><g clip-path="url(#bc9)" style="mix-blend-mode:overlay" opacity="0.75"><rect x="0" y="0" width="190" height="430" filter="url(#noise)"/></g><path d="M48,45 C53.3,38.8 64.7,39.5 75,38 C85.3,36.5 98.3,34.3 110,36 C121.7,37.7 137.2,40.7 145,48 C152.8,55.3 156.2,70 157,80 C157.8,90 156.2,102 150,108 C143.8,114 129.2,116.3 120,116 C110.8,115.7 103.3,106 95,106 C86.7,106 77.5,116.2 70,116 C62.5,115.8 54.5,111.8 50,105 C45.5,98.2 43.3,85 43,75 C42.7,65 42.7,51.2 48,45 Z" fill="#0c0c0c" filter="url(#b2)"/><path d="M82,105 C84.3,100.3 95.3,98.3 100,100 C104.7,101.7 110,109.7 110,115 C110,120.3 104,129.8 100,132 C96,134.2 89,132.5 86,128 C83,123.5 79.7,109.7 82,105 Z" fill="#b8b8b8"/><path d="M30,105 L55,118" stroke="#a8a8a8" stroke-width="4"/><path d="M165,115 L140,130" stroke="#a8a8a8" stroke-width="4"/><ellipse cx="95" cy="22" rx="10" ry="5" fill="#bdbdbd"/><path d="M70,42 C75.8,37.2 95.8,35.5 105,36 C114.2,36.5 121.7,37.7 125,45 C128.3,52.3 128.3,71.5 125,80 C121.7,88.5 112.5,94.3 105,96 C97.5,97.7 85.8,95.2 80,90 C74.2,84.8 71.7,73 70,65 C68.3,57 64.2,46.8 70,42 Z" fill="#2f46cc" opacity="0.92" filter="url(#b2)"/><path d="M115,65 C115,66.8 114.7,68.7 114.1,70.4 C113.5,72 112.6,73.6 111.5,74.9 C110.4,76.2 109,77.3 107.6,77.9 C106.2,78.6 104.5,79 103,79 C101.5,79 99.8,78.6 98.4,77.9 C97,77.3 95.6,76.2 94.5,74.9 C93.4,73.6 92.5,72 91.9,70.4 C91.3,68.7 91,66.8 91,65 C91,63.2 91.3,61.3 91.9,59.6 C92.5,58 93.4,56.4 94.5,55.1 C95.6,53.8 97,52.7 98.4,52.1 C99.8,51.4 101.5,51 103,51 C104.5,51 106.2,51.4 107.6,52.1 C109,52.7 110.4,53.8 111.5,55.1 C112.6,56.4 113.5,58 114.1,59.6 C114.7,61.3 115,63.2 115,65 Z" fill="#2a70d0" opacity="0.6" filter="url(#b2)"/><path d="M46,152 C46.8,147 57.7,142.5 65,140 C72.3,137.5 81.2,137 90,137 C98.8,137 111.3,137.5 118,140 C124.7,142.5 129.7,147.3 130,152 C130.3,156.7 126.7,164.3 120,168 C113.3,171.7 100,173.7 90,174 C80,174.3 67.3,173.7 60,170 C52.7,166.3 45.2,157 46,152 Z" fill="#2536c8" opacity="0.97" filter="url(#b2)"/><path d="M113,155 C113,156.1 112.3,157.4 111,158.4 C109.8,159.5 107.7,160.6 105.4,161.4 C103,162.2 100,162.9 96.9,163.3 C93.9,163.8 90.3,164 87,164 C83.7,164 80.1,163.8 77.1,163.3 C74,162.9 71,162.2 68.6,161.4 C66.3,160.6 64.2,159.5 63,158.4 C61.7,157.4 61,156.1 61,155 C61,153.9 61.7,152.6 63,151.6 C64.2,150.5 66.3,149.4 68.6,148.6 C71,147.8 74,147.1 77.1,146.7 C80.1,146.2 83.7,146 87,146 C90.3,146 93.9,146.2 96.9,146.7 C100,147.1 103,147.8 105.4,148.6 C107.7,149.4 109.8,150.5 111,151.6 C112.3,152.6 113,153.9 113,155 Z" fill="#1f8fc8" opacity="0.9" filter="url(#b1)"/><path d="M98,155 C98,155.6 97.7,156.3 97.1,156.9 C96.5,157.5 95.6,158.1 94.5,158.5 C93.4,159 92,159.4 90.6,159.6 C89.2,159.9 87.5,160 86,160 C84.5,160 82.8,159.9 81.4,159.6 C80,159.4 78.6,159 77.5,158.5 C76.4,158.1 75.5,157.5 74.9,156.9 C74.3,156.3 74,155.6 74,155 C74,154.4 74.3,153.7 74.9,153.1 C75.5,152.5 76.4,151.9 77.5,151.5 C78.6,151 80,150.6 81.4,150.4 C82.8,150.1 84.5,150 86,150 C87.5,150 89.2,150.1 90.6,150.4 C92,150.6 93.4,151 94.5,151.5 C95.6,151.9 96.5,152.5 97.1,153.1 C97.7,153.7 98,154.4 98,155 Z" fill="#18a070" opacity="1" filter="url(#b1)"/><ellipse cx="88" cy="172" rx="7" ry="4" fill="#c0c0c0"/></g></g><clipPath id="cs4"><rect x="880.2" y="283.8" width="183.4" height="427.2"/></clipPath><rect x="880.2" y="283.8" width="183.4" height="427.2" fill="#000"/><g clip-path="url(#cs4)"><g transform="translate(880.2 283.8)"><path d="M58,12 C65.5,8.7 83,15.3 95,20 C107,24.7 119.5,31.7 130,40 C140.5,48.3 152.7,60.8 158,70 C163.3,79.2 163.3,87.5 162,95 C160.7,102.5 150.3,108.3 150,115 C149.7,121.7 157.7,120.8 160,135 C162.3,149.2 163.2,179.2 164,200 C164.8,220.8 165.3,240 165,260 C164.7,280 162.8,302.2 162,320 C161.2,337.8 161.7,351.8 160,367 C158.3,382.2 154.8,403.7 152,411 C149.2,418.3 148.3,413.7 143,411 C137.7,408.3 128.8,398.5 120,395 C111.2,391.5 100.3,391.5 90,390 C79.7,388.5 66.3,392.7 58,386 C49.7,379.3 45,364.3 40,350 C35,335.7 31.7,316.7 28,300 C24.3,283.3 20.3,266.7 18,250 C15.7,233.3 14.8,216.7 14,200 C13.2,183.3 12,164.2 13,150 C14,135.8 15.5,123.3 20,115 C24.5,106.7 35.8,106.7 40,100 C44.2,93.3 43.3,85 45,75 C46.7,65 47.8,50.5 50,40 C52.2,29.5 50.5,15.3 58,12 Z" fill="#3e3e3e" stroke="#626262" stroke-width="3" filter="url(#b1)"/><clipPath id="bc10"><path d="M58,12 C65.5,8.7 83,15.3 95,20 C107,24.7 119.5,31.7 130,40 C140.5,48.3 152.7,60.8 158,70 C163.3,79.2 163.3,87.5 162,95 C160.7,102.5 150.3,108.3 150,115 C149.7,121.7 157.7,120.8 160,135 C162.3,149.2 163.2,179.2 164,200 C164.8,220.8 165.3,240 165,260 C164.7,280 162.8,302.2 162,320 C161.2,337.8 161.7,351.8 160,367 C158.3,382.2 154.8,403.7 152,411 C149.2,418.3 148.3,413.7 143,411 C137.7,408.3 128.8,398.5 120,395 C111.2,391.5 100.3,391.5 90,390 C79.7,388.5 66.3,392.7 58,386 C49.7,379.3 45,364.3 40,350 C35,335.7 31.7,316.7 28,300 C24.3,283.3 20.3,266.7 18,250 C15.7,233.3 14.8,216.7 14,200 C13.2,183.3 12,164.2 13,150 C14,135.8 15.5,123.3 20,115 C24.5,106.7 35.8,106.7 40,100 C44.2,93.3 43.3,85 45,75 C46.7,65 47.8,50.5 50,40 C52.2,29.5 50.5,15.3 58,12 Z"/></clipPath><g clip-path="url(#bc10)" style="mix-blend-mode:overlay" opacity="0.75"><rect x="0" y="0" width="190" height="430" filter="url(#noise)"/></g><path d="M58,15 Q130,30 160,85 Q165,100 140,112" stroke="#b0b0b0" stroke-width="6" fill="none"/><path d="M95,100 C95.8,98 113.3,98.7 120,100 C126.7,101.3 135.8,106 135,108 C134.2,110 121.7,113.3 115,112 C108.3,110.7 94.2,102 95,100 Z" fill="#a8a8a8"/><path d="M55,30 L70,32 L68,40 L52,38 Z" fill="#c0c0c0"/><path d="M42,114 Q80,100 128,108" stroke="#a8a8a8" stroke-width="7" fill="none"/><path d="M100,100 Q118,90 122,60" stroke="#9a9a9a" stroke-width="5" fill="none"/><path d="M130,170 Q140,200 140,250 L140,330" stroke="#a8a8a8" stroke-width="16" fill="none"/><ellipse cx="60" cy="118" rx="3" ry="2.5" fill="#c0c0c0"/><ellipse cx="70" cy="120" rx="3" ry="2.5" fill="#c0c0c0"/><ellipse cx="80" cy="122" rx="3" ry="2.5" fill="#c0c0c0"/><ellipse cx="90" cy="125" rx="3" ry="2.5" fill="#c0c0c0"/><ellipse cx="100" cy="130" rx="3" ry="2.5" fill="#c0c0c0"/><ellipse cx="110" cy="136" rx="3" ry="2.5" fill="#c0c0c0"/><ellipse cx="120" cy="144" rx="3" ry="2.5" fill="#c0c0c0"/><ellipse cx="128" cy="152" rx="3" ry="2.5" fill="#c0c0c0"/><ellipse cx="143" cy="335" rx="4" ry="3" fill="#c8c8c8"/><ellipse cx="143" cy="344" rx="4" ry="3" fill="#c8c8c8"/><ellipse cx="143" cy="353" rx="4" ry="3" fill="#c8c8c8"/><ellipse cx="143" cy="362" rx="4" ry="3" fill="#c8c8c8"/><ellipse cx="143" cy="371" rx="4" ry="3" fill="#c8c8c8"/><path d="M55,28 C59.5,21.8 78.2,22.2 85,25 C91.8,27.8 95.2,38.8 96,45 C96.8,51.2 96.3,59.2 90,62 C83.7,64.8 63.8,67.7 58,62 C52.2,56.3 50.5,34.2 55,28 Z" fill="#2a3acb" opacity="0.85" filter="url(#b2)"/><path d="M42,85 C46.7,81 60.3,78.5 70,78 C79.7,77.5 94.7,78.3 100,82 C105.3,85.7 107,96.3 102,100 C97,103.7 80,103.7 70,104 C60,104.3 46.7,105.2 42,102 C37.3,98.8 37.3,89 42,85 Z" fill="#2a3acb" opacity="0.92" filter="url(#b2)"/><path d="M66,89 C66,89.6 65.8,90.3 65.4,90.9 C65,91.5 64.4,92.1 63.7,92.5 C62.9,93 62,93.4 61.1,93.6 C60.1,93.9 59,94 58,94 C57,94 55.9,93.9 54.9,93.6 C54,93.4 53.1,93 52.3,92.5 C51.6,92.1 51,91.5 50.6,90.9 C50.2,90.3 50,89.6 50,89 C50,88.4 50.2,87.7 50.6,87.1 C51,86.5 51.6,85.9 52.3,85.5 C53.1,85 54,84.6 54.9,84.4 C55.9,84.1 57,84 58,84 C59,84 60.1,84.1 61.1,84.4 C62,84.6 62.9,85 63.7,85.5 C64.4,85.9 65,86.5 65.4,87.1 C65.8,87.7 66,88.4 66,89 Z" fill="#1f9fb0" opacity="0.9" filter="url(#b1)"/><path d="M75,135 C75,136.5 74.6,138.2 73.9,139.6 C73.1,141 72,142.4 70.6,143.5 C69.3,144.6 67.5,145.5 65.7,146.1 C64,146.7 61.9,147 60,147 C58.1,147 56,146.7 54.3,146.1 C52.5,145.5 50.7,144.6 49.4,143.5 C48,142.4 46.9,141 46.1,139.6 C45.4,138.2 45,136.5 45,135 C45,133.5 45.4,131.8 46.1,130.4 C46.9,129 48,127.6 49.4,126.5 C50.7,125.4 52.5,124.5 54.3,123.9 C56,123.3 58.1,123 60,123 C61.9,123 64,123.3 65.7,123.9 C67.5,124.5 69.3,125.4 70.6,126.5 C72,127.6 73.1,129 73.9,130.4 C74.6,131.8 75,133.5 75,135 Z" fill="#2a3acb" opacity="0.7" filter="url(#b2)"/><path d="M102,128 C105.3,125.3 122,123.3 130,124 C138,124.7 146.7,127.7 150,132 C153.3,136.3 152.5,146.3 150,150 C147.5,153.7 141.7,155.7 135,154 C128.3,152.3 115.5,144.3 110,140 C104.5,135.7 98.7,130.7 102,128 Z" fill="#2535c8" opacity="0.95" filter="url(#b1)"/><path d="M143,143 C143,143.6 142.8,144.3 142.4,144.9 C142,145.5 141.4,146.1 140.7,146.5 C139.9,147 139,147.4 138.1,147.6 C137.1,147.9 136,148 135,148 C134,148 132.9,147.9 131.9,147.6 C131,147.4 130.1,147 129.3,146.5 C128.6,146.1 128,145.5 127.6,144.9 C127.2,144.3 127,143.6 127,143 C127,142.4 127.2,141.7 127.6,141.1 C128,140.5 128.6,139.9 129.3,139.5 C130.1,139 131,138.6 131.9,138.4 C132.9,138.1 134,138 135,138 C136,138 137.1,138.1 138.1,138.4 C139,138.6 139.9,139 140.7,139.5 C141.4,139.9 142,140.5 142.4,141.1 C142.8,141.7 143,142.4 143,143 Z" fill="#18a070" opacity="1" filter="url(#b1)"/><path d="M28,210 C34.7,204.2 60.5,200 70,205 C79.5,210 83.3,229.5 85,240 C86.7,250.5 86.7,263.7 80,268 C73.3,272.3 53.3,270.7 45,266 C36.7,261.3 32.8,249.3 30,240 C27.2,230.7 21.3,215.8 28,210 Z" fill="#2a3acb" opacity="0.9" filter="url(#b2)"/><path d="M55,225 C55,226.3 54.7,227.6 54.2,228.8 C53.8,230 53,231.2 52.1,232.1 C51.2,233 50,233.8 48.8,234.2 C47.6,234.7 46.3,235 45,235 C43.7,235 42.4,234.7 41.2,234.2 C40,233.8 38.8,233 37.9,232.1 C37,231.2 36.2,230 35.8,228.8 C35.3,227.6 35,226.3 35,225 C35,223.7 35.3,222.4 35.8,221.2 C36.2,220 37,218.8 37.9,217.9 C38.8,217 40,216.2 41.2,215.8 C42.4,215.3 43.7,215 45,215 C46.3,215 47.6,215.3 48.8,215.8 C50,216.2 51.2,217 52.1,217.9 C53,218.8 53.8,220 54.2,221.2 C54.7,222.4 55,223.7 55,225 Z" fill="#1f8a9a" opacity="0.7" filter="url(#b1)"/><path d="M82,250 C82,251.3 81.6,252.6 80.9,253.8 C80.3,255 79.2,256.2 77.9,257.1 C76.6,258 75,258.8 73.4,259.2 C71.7,259.7 69.8,260 68,260 C66.2,260 64.3,259.7 62.6,259.2 C61,258.8 59.4,258 58.1,257.1 C56.8,256.2 55.7,255 55.1,253.8 C54.4,252.6 54,251.3 54,250 C54,248.7 54.4,247.4 55.1,246.2 C55.7,245 56.8,243.8 58.1,242.9 C59.4,242 61,241.2 62.6,240.8 C64.3,240.3 66.2,240 68,240 C69.8,240 71.7,240.3 73.4,240.8 C75,241.2 76.6,242 77.9,242.9 C79.2,243.8 80.3,245 80.9,246.2 C81.6,247.4 82,248.7 82,250 Z" fill="#183060" opacity="0.6" filter="url(#b1)"/><g filter="url(#b05)"><path d="M80,195 C83,188 95.3,190.5 100,198 C104.7,205.5 108,228.8 108,240 C108,251.2 103.3,260.8 100,265 C96.7,269.2 91,269.2 88,265 C85,260.8 83.3,251.7 82,240 C80.7,228.3 77,202 80,195 Z" fill="#1c1c70" stroke="#1c1c70" stroke-width="21" stroke-linejoin="round" opacity="0.95"/><path d="M80,195 C83,188 95.3,190.5 100,198 C104.7,205.5 108,228.8 108,240 C108,251.2 103.3,260.8 100,265 C96.7,269.2 91,269.2 88,265 C85,260.8 83.3,251.7 82,240 C80.7,228.3 77,202 80,195 Z" fill="#2f42b8" stroke="#2f42b8" stroke-width="17.5" stroke-linejoin="round" opacity="1"/><path d="M80,195 C83,188 95.3,190.5 100,198 C104.7,205.5 108,228.8 108,240 C108,251.2 103.3,260.8 100,265 C96.7,269.2 91,269.2 88,265 C85,260.8 83.3,251.7 82,240 C80.7,228.3 77,202 80,195 Z" fill="#1a8cc0" stroke="#1a8cc0" stroke-width="13.5" stroke-linejoin="round" opacity="1"/><path d="M80,195 C83,188 95.3,190.5 100,198 C104.7,205.5 108,228.8 108,240 C108,251.2 103.3,260.8 100,265 C96.7,269.2 91,269.2 88,265 C85,260.8 83.3,251.7 82,240 C80.7,228.3 77,202 80,195 Z" fill="#28a850" stroke="#28a850" stroke-width="10.5" stroke-linejoin="round" opacity="1"/><path d="M80,195 C83,188 95.3,190.5 100,198 C104.7,205.5 108,228.8 108,240 C108,251.2 103.3,260.8 100,265 C96.7,269.2 91,269.2 88,265 C85,260.8 83.3,251.7 82,240 C80.7,228.3 77,202 80,195 Z" fill="#d8c828" stroke="#d8c828" stroke-width="8" stroke-linejoin="round" opacity="1"/><path d="M80,195 C83,188 95.3,190.5 100,198 C104.7,205.5 108,228.8 108,240 C108,251.2 103.3,260.8 100,265 C96.7,269.2 91,269.2 88,265 C85,260.8 83.3,251.7 82,240 C80.7,228.3 77,202 80,195 Z" fill="#e3203a" stroke="#e3203a" stroke-width="6.2" stroke-linejoin="round" opacity="1"/></g><path d="M80,195 C83,188 95.3,190.5 100,198 C104.7,205.5 108,228.8 108,240 C108,251.2 103.3,260.8 100,265 C96.7,269.2 91,269.2 88,265 C85,260.8 83.3,251.7 82,240 C80.7,228.3 77,202 80,195 Z" fill="#e42235"/><g filter="url(#b05)"><path d="M28,168 C33.7,165.2 48,163.5 60,163 C72,162.5 92,162.5 100,165 C108,167.5 107.7,173.8 108,178 C108.3,182.2 106.7,187 102,190 C97.3,193 87,194.7 80,196 C73,197.3 66.7,197 60,198 C53.3,199 45,202.5 40,202 C35,201.5 32.3,198.7 30,195 C27.7,191.3 26.3,184.5 26,180 C25.7,175.5 22.3,170.8 28,168 Z" fill="#1c1c70" stroke="#1c1c70" stroke-width="23.1" stroke-linejoin="round" opacity="0.95"/><path d="M28,168 C33.7,165.2 48,163.5 60,163 C72,162.5 92,162.5 100,165 C108,167.5 107.7,173.8 108,178 C108.3,182.2 106.7,187 102,190 C97.3,193 87,194.7 80,196 C73,197.3 66.7,197 60,198 C53.3,199 45,202.5 40,202 C35,201.5 32.3,198.7 30,195 C27.7,191.3 26.3,184.5 26,180 C25.7,175.5 22.3,170.8 28,168 Z" fill="#2f42b8" stroke="#2f42b8" stroke-width="19.2" stroke-linejoin="round" opacity="1"/><path d="M28,168 C33.7,165.2 48,163.5 60,163 C72,162.5 92,162.5 100,165 C108,167.5 107.7,173.8 108,178 C108.3,182.2 106.7,187 102,190 C97.3,193 87,194.7 80,196 C73,197.3 66.7,197 60,198 C53.3,199 45,202.5 40,202 C35,201.5 32.3,198.7 30,195 C27.7,191.3 26.3,184.5 26,180 C25.7,175.5 22.3,170.8 28,168 Z" fill="#1a8cc0" stroke="#1a8cc0" stroke-width="14.9" stroke-linejoin="round" opacity="1"/><path d="M28,168 C33.7,165.2 48,163.5 60,163 C72,162.5 92,162.5 100,165 C108,167.5 107.7,173.8 108,178 C108.3,182.2 106.7,187 102,190 C97.3,193 87,194.7 80,196 C73,197.3 66.7,197 60,198 C53.3,199 45,202.5 40,202 C35,201.5 32.3,198.7 30,195 C27.7,191.3 26.3,184.5 26,180 C25.7,175.5 22.3,170.8 28,168 Z" fill="#28a850" stroke="#28a850" stroke-width="11.6" stroke-linejoin="round" opacity="1"/><path d="M28,168 C33.7,165.2 48,163.5 60,163 C72,162.5 92,162.5 100,165 C108,167.5 107.7,173.8 108,178 C108.3,182.2 106.7,187 102,190 C97.3,193 87,194.7 80,196 C73,197.3 66.7,197 60,198 C53.3,199 45,202.5 40,202 C35,201.5 32.3,198.7 30,195 C27.7,191.3 26.3,184.5 26,180 C25.7,175.5 22.3,170.8 28,168 Z" fill="#d8c828" stroke="#d8c828" stroke-width="8.8" stroke-linejoin="round" opacity="1"/><path d="M28,168 C33.7,165.2 48,163.5 60,163 C72,162.5 92,162.5 100,165 C108,167.5 107.7,173.8 108,178 C108.3,182.2 106.7,187 102,190 C97.3,193 87,194.7 80,196 C73,197.3 66.7,197 60,198 C53.3,199 45,202.5 40,202 C35,201.5 32.3,198.7 30,195 C27.7,191.3 26.3,184.5 26,180 C25.7,175.5 22.3,170.8 28,168 Z" fill="#e3203a" stroke="#e3203a" stroke-width="6.8" stroke-linejoin="round" opacity="1"/></g><path d="M28,168 C33.7,165.2 48,163.5 60,163 C72,162.5 92,162.5 100,165 C108,167.5 107.7,173.8 108,178 C108.3,182.2 106.7,187 102,190 C97.3,193 87,194.7 80,196 C73,197.3 66.7,197 60,198 C53.3,199 45,202.5 40,202 C35,201.5 32.3,198.7 30,195 C27.7,191.3 26.3,184.5 26,180 C25.7,175.5 22.3,170.8 28,168 Z" fill="#e0e0e0"/><ellipse cx="73" cy="199" rx="13" ry="6" fill="#22a048" filter="url(#b1)"/><ellipse cx="73" cy="199" rx="6" ry="3" fill="#2050c0" filter="url(#b1)"/><g filter="url(#b05)"><path d="M122.9,225.3 C123.2,228.1 122.9,231.1 122.1,233.8 C121.4,236.4 120.1,239.1 118.4,241.3 C116.8,243.4 114.7,245.3 112.4,246.6 C110.1,247.9 107.5,248.7 104.9,248.9 C102.4,249.1 99.6,248.8 97.1,247.9 C94.7,247.1 92.2,245.5 90.3,243.7 C88.3,241.9 86.5,239.5 85.3,237 C84.1,234.5 83.3,231.5 83.1,228.7 C82.8,225.9 83.1,222.9 83.9,220.2 C84.6,217.6 85.9,214.9 87.6,212.7 C89.2,210.6 91.3,208.7 93.6,207.4 C95.9,206.1 98.5,205.3 101.1,205.1 C103.6,204.9 106.4,205.2 108.9,206.1 C111.3,206.9 113.8,208.5 115.7,210.3 C117.7,212.1 119.5,214.5 120.7,217 C121.9,219.5 122.7,222.5 122.9,225.3 Z" fill="#1c1c70" stroke="#1c1c70" stroke-width="21" stroke-linejoin="round" opacity="0.95"/><path d="M122.9,225.3 C123.2,228.1 122.9,231.1 122.1,233.8 C121.4,236.4 120.1,239.1 118.4,241.3 C116.8,243.4 114.7,245.3 112.4,246.6 C110.1,247.9 107.5,248.7 104.9,248.9 C102.4,249.1 99.6,248.8 97.1,247.9 C94.7,247.1 92.2,245.5 90.3,243.7 C88.3,241.9 86.5,239.5 85.3,237 C84.1,234.5 83.3,231.5 83.1,228.7 C82.8,225.9 83.1,222.9 83.9,220.2 C84.6,217.6 85.9,214.9 87.6,212.7 C89.2,210.6 91.3,208.7 93.6,207.4 C95.9,206.1 98.5,205.3 101.1,205.1 C103.6,204.9 106.4,205.2 108.9,206.1 C111.3,206.9 113.8,208.5 115.7,210.3 C117.7,212.1 119.5,214.5 120.7,217 C121.9,219.5 122.7,222.5 122.9,225.3 Z" fill="#2f42b8" stroke="#2f42b8" stroke-width="17.5" stroke-linejoin="round" opacity="1"/><path d="M122.9,225.3 C123.2,228.1 122.9,231.1 122.1,233.8 C121.4,236.4 120.1,239.1 118.4,241.3 C116.8,243.4 114.7,245.3 112.4,246.6 C110.1,247.9 107.5,248.7 104.9,248.9 C102.4,249.1 99.6,248.8 97.1,247.9 C94.7,247.1 92.2,245.5 90.3,243.7 C88.3,241.9 86.5,239.5 85.3,237 C84.1,234.5 83.3,231.5 83.1,228.7 C82.8,225.9 83.1,222.9 83.9,220.2 C84.6,217.6 85.9,214.9 87.6,212.7 C89.2,210.6 91.3,208.7 93.6,207.4 C95.9,206.1 98.5,205.3 101.1,205.1 C103.6,204.9 106.4,205.2 108.9,206.1 C111.3,206.9 113.8,208.5 115.7,210.3 C117.7,212.1 119.5,214.5 120.7,217 C121.9,219.5 122.7,222.5 122.9,225.3 Z" fill="#1a8cc0" stroke="#1a8cc0" stroke-width="13.5" stroke-linejoin="round" opacity="1"/><path d="M122.9,225.3 C123.2,228.1 122.9,231.1 122.1,233.8 C121.4,236.4 120.1,239.1 118.4,241.3 C116.8,243.4 114.7,245.3 112.4,246.6 C110.1,247.9 107.5,248.7 104.9,248.9 C102.4,249.1 99.6,248.8 97.1,247.9 C94.7,247.1 92.2,245.5 90.3,243.7 C88.3,241.9 86.5,239.5 85.3,237 C84.1,234.5 83.3,231.5 83.1,228.7 C82.8,225.9 83.1,222.9 83.9,220.2 C84.6,217.6 85.9,214.9 87.6,212.7 C89.2,210.6 91.3,208.7 93.6,207.4 C95.9,206.1 98.5,205.3 101.1,205.1 C103.6,204.9 106.4,205.2 108.9,206.1 C111.3,206.9 113.8,208.5 115.7,210.3 C117.7,212.1 119.5,214.5 120.7,217 C121.9,219.5 122.7,222.5 122.9,225.3 Z" fill="#28a850" stroke="#28a850" stroke-width="10.5" stroke-linejoin="round" opacity="1"/><path d="M122.9,225.3 C123.2,228.1 122.9,231.1 122.1,233.8 C121.4,236.4 120.1,239.1 118.4,241.3 C116.8,243.4 114.7,245.3 112.4,246.6 C110.1,247.9 107.5,248.7 104.9,248.9 C102.4,249.1 99.6,248.8 97.1,247.9 C94.7,247.1 92.2,245.5 90.3,243.7 C88.3,241.9 86.5,239.5 85.3,237 C84.1,234.5 83.3,231.5 83.1,228.7 C82.8,225.9 83.1,222.9 83.9,220.2 C84.6,217.6 85.9,214.9 87.6,212.7 C89.2,210.6 91.3,208.7 93.6,207.4 C95.9,206.1 98.5,205.3 101.1,205.1 C103.6,204.9 106.4,205.2 108.9,206.1 C111.3,206.9 113.8,208.5 115.7,210.3 C117.7,212.1 119.5,214.5 120.7,217 C121.9,219.5 122.7,222.5 122.9,225.3 Z" fill="#d8c828" stroke="#d8c828" stroke-width="8" stroke-linejoin="round" opacity="1"/><path d="M122.9,225.3 C123.2,228.1 122.9,231.1 122.1,233.8 C121.4,236.4 120.1,239.1 118.4,241.3 C116.8,243.4 114.7,245.3 112.4,246.6 C110.1,247.9 107.5,248.7 104.9,248.9 C102.4,249.1 99.6,248.8 97.1,247.9 C94.7,247.1 92.2,245.5 90.3,243.7 C88.3,241.9 86.5,239.5 85.3,237 C84.1,234.5 83.3,231.5 83.1,228.7 C82.8,225.9 83.1,222.9 83.9,220.2 C84.6,217.6 85.9,214.9 87.6,212.7 C89.2,210.6 91.3,208.7 93.6,207.4 C95.9,206.1 98.5,205.3 101.1,205.1 C103.6,204.9 106.4,205.2 108.9,206.1 C111.3,206.9 113.8,208.5 115.7,210.3 C117.7,212.1 119.5,214.5 120.7,217 C121.9,219.5 122.7,222.5 122.9,225.3 Z" fill="#e3203a" stroke="#e3203a" stroke-width="6.2" stroke-linejoin="round" opacity="1"/></g><path d="M122.9,225.3 C123.2,228.1 122.9,231.1 122.1,233.8 C121.4,236.4 120.1,239.1 118.4,241.3 C116.8,243.4 114.7,245.3 112.4,246.6 C110.1,247.9 107.5,248.7 104.9,248.9 C102.4,249.1 99.6,248.8 97.1,247.9 C94.7,247.1 92.2,245.5 90.3,243.7 C88.3,241.9 86.5,239.5 85.3,237 C84.1,234.5 83.3,231.5 83.1,228.7 C82.8,225.9 83.1,222.9 83.9,220.2 C84.6,217.6 85.9,214.9 87.6,212.7 C89.2,210.6 91.3,208.7 93.6,207.4 C95.9,206.1 98.5,205.3 101.1,205.1 C103.6,204.9 106.4,205.2 108.9,206.1 C111.3,206.9 113.8,208.5 115.7,210.3 C117.7,212.1 119.5,214.5 120.7,217 C121.9,219.5 122.7,222.5 122.9,225.3 Z" fill="#e0e0e0"/><g filter="url(#b05)"><path d="M117,296 C117,299.6 115.7,303.4 113.5,306.7 C111.3,310 107.7,313.3 103.5,315.8 C99.4,318.3 94,320.5 88.6,321.9 C83.2,323.2 76.9,324 71,324 C65.1,324 58.8,323.2 53.4,321.9 C48,320.5 42.6,318.3 38.5,315.8 C34.3,313.3 30.7,310 28.5,306.7 C26.3,303.4 25,299.6 25,296 C25,292.4 26.3,288.6 28.5,285.3 C30.7,282 34.3,278.7 38.5,276.2 C42.6,273.7 48,271.5 53.4,270.1 C58.8,268.8 65.1,268 71,268 C76.9,268 83.2,268.8 88.6,270.1 C94,271.5 99.4,273.7 103.5,276.2 C107.7,278.7 111.3,282 113.5,285.3 C115.7,288.6 117,292.4 117,296 Z" fill="#1c1c70" stroke="#1c1c70" stroke-width="21" stroke-linejoin="round" opacity="0.95"/><path d="M117,296 C117,299.6 115.7,303.4 113.5,306.7 C111.3,310 107.7,313.3 103.5,315.8 C99.4,318.3 94,320.5 88.6,321.9 C83.2,323.2 76.9,324 71,324 C65.1,324 58.8,323.2 53.4,321.9 C48,320.5 42.6,318.3 38.5,315.8 C34.3,313.3 30.7,310 28.5,306.7 C26.3,303.4 25,299.6 25,296 C25,292.4 26.3,288.6 28.5,285.3 C30.7,282 34.3,278.7 38.5,276.2 C42.6,273.7 48,271.5 53.4,270.1 C58.8,268.8 65.1,268 71,268 C76.9,268 83.2,268.8 88.6,270.1 C94,271.5 99.4,273.7 103.5,276.2 C107.7,278.7 111.3,282 113.5,285.3 C115.7,288.6 117,292.4 117,296 Z" fill="#2f42b8" stroke="#2f42b8" stroke-width="17.5" stroke-linejoin="round" opacity="1"/><path d="M117,296 C117,299.6 115.7,303.4 113.5,306.7 C111.3,310 107.7,313.3 103.5,315.8 C99.4,318.3 94,320.5 88.6,321.9 C83.2,323.2 76.9,324 71,324 C65.1,324 58.8,323.2 53.4,321.9 C48,320.5 42.6,318.3 38.5,315.8 C34.3,313.3 30.7,310 28.5,306.7 C26.3,303.4 25,299.6 25,296 C25,292.4 26.3,288.6 28.5,285.3 C30.7,282 34.3,278.7 38.5,276.2 C42.6,273.7 48,271.5 53.4,270.1 C58.8,268.8 65.1,268 71,268 C76.9,268 83.2,268.8 88.6,270.1 C94,271.5 99.4,273.7 103.5,276.2 C107.7,278.7 111.3,282 113.5,285.3 C115.7,288.6 117,292.4 117,296 Z" fill="#1a8cc0" stroke="#1a8cc0" stroke-width="13.5" stroke-linejoin="round" opacity="1"/><path d="M117,296 C117,299.6 115.7,303.4 113.5,306.7 C111.3,310 107.7,313.3 103.5,315.8 C99.4,318.3 94,320.5 88.6,321.9 C83.2,323.2 76.9,324 71,324 C65.1,324 58.8,323.2 53.4,321.9 C48,320.5 42.6,318.3 38.5,315.8 C34.3,313.3 30.7,310 28.5,306.7 C26.3,303.4 25,299.6 25,296 C25,292.4 26.3,288.6 28.5,285.3 C30.7,282 34.3,278.7 38.5,276.2 C42.6,273.7 48,271.5 53.4,270.1 C58.8,268.8 65.1,268 71,268 C76.9,268 83.2,268.8 88.6,270.1 C94,271.5 99.4,273.7 103.5,276.2 C107.7,278.7 111.3,282 113.5,285.3 C115.7,288.6 117,292.4 117,296 Z" fill="#28a850" stroke="#28a850" stroke-width="10.5" stroke-linejoin="round" opacity="1"/><path d="M117,296 C117,299.6 115.7,303.4 113.5,306.7 C111.3,310 107.7,313.3 103.5,315.8 C99.4,318.3 94,320.5 88.6,321.9 C83.2,323.2 76.9,324 71,324 C65.1,324 58.8,323.2 53.4,321.9 C48,320.5 42.6,318.3 38.5,315.8 C34.3,313.3 30.7,310 28.5,306.7 C26.3,303.4 25,299.6 25,296 C25,292.4 26.3,288.6 28.5,285.3 C30.7,282 34.3,278.7 38.5,276.2 C42.6,273.7 48,271.5 53.4,270.1 C58.8,268.8 65.1,268 71,268 C76.9,268 83.2,268.8 88.6,270.1 C94,271.5 99.4,273.7 103.5,276.2 C107.7,278.7 111.3,282 113.5,285.3 C115.7,288.6 117,292.4 117,296 Z" fill="#d8c828" stroke="#d8c828" stroke-width="8" stroke-linejoin="round" opacity="1"/><path d="M117,296 C117,299.6 115.7,303.4 113.5,306.7 C111.3,310 107.7,313.3 103.5,315.8 C99.4,318.3 94,320.5 88.6,321.9 C83.2,323.2 76.9,324 71,324 C65.1,324 58.8,323.2 53.4,321.9 C48,320.5 42.6,318.3 38.5,315.8 C34.3,313.3 30.7,310 28.5,306.7 C26.3,303.4 25,299.6 25,296 C25,292.4 26.3,288.6 28.5,285.3 C30.7,282 34.3,278.7 38.5,276.2 C42.6,273.7 48,271.5 53.4,270.1 C58.8,268.8 65.1,268 71,268 C76.9,268 83.2,268.8 88.6,270.1 C94,271.5 99.4,273.7 103.5,276.2 C107.7,278.7 111.3,282 113.5,285.3 C115.7,288.6 117,292.4 117,296 Z" fill="#e3203a" stroke="#e3203a" stroke-width="6.2" stroke-linejoin="round" opacity="1"/></g><path d="M117,296 C117,299.6 115.7,303.4 113.5,306.7 C111.3,310 107.7,313.3 103.5,315.8 C99.4,318.3 94,320.5 88.6,321.9 C83.2,323.2 76.9,324 71,324 C65.1,324 58.8,323.2 53.4,321.9 C48,320.5 42.6,318.3 38.5,315.8 C34.3,313.3 30.7,310 28.5,306.7 C26.3,303.4 25,299.6 25,296 C25,292.4 26.3,288.6 28.5,285.3 C30.7,282 34.3,278.7 38.5,276.2 C42.6,273.7 48,271.5 53.4,270.1 C58.8,268.8 65.1,268 71,268 C76.9,268 83.2,268.8 88.6,270.1 C94,271.5 99.4,273.7 103.5,276.2 C107.7,278.7 111.3,282 113.5,285.3 C115.7,288.6 117,292.4 117,296 Z" fill="#e0e0e0"/><path d="M87,352 C87,352.8 86.7,353.6 86.1,354.3 C85.5,355 84.6,355.7 83.5,356.2 C82.4,356.8 81,357.3 79.6,357.5 C78.2,357.8 76.5,358 75,358 C73.5,358 71.8,357.8 70.4,357.5 C69,357.3 67.6,356.8 66.5,356.2 C65.4,355.7 64.5,355 63.9,354.3 C63.3,353.6 63,352.8 63,352 C63,351.2 63.3,350.4 63.9,349.7 C64.5,349 65.4,348.3 66.5,347.8 C67.6,347.2 69,346.7 70.4,346.5 C71.8,346.2 73.5,346 75,346 C76.5,346 78.2,346.2 79.6,346.5 C81,346.7 82.4,347.2 83.5,347.8 C84.6,348.3 85.5,349 86.1,349.7 C86.7,350.4 87,351.2 87,352 Z" fill="#2a3acb" opacity="0.85" filter="url(#b2)"/><path d="M131.3,345.2 C131.1,345.9 130.4,346.6 129.3,347 C128.1,347.4 126.4,347.7 124.6,347.8 C122.7,347.8 120.3,347.7 118,347.3 C115.6,347 112.9,346.5 110.4,345.8 C108,345.1 105.4,344.3 103.2,343.4 C101,342.5 98.8,341.4 97.2,340.4 C95.6,339.4 94.3,338.4 93.6,337.4 C92.8,336.5 92.5,335.6 92.7,334.8 C92.9,334.1 93.6,333.4 94.7,333 C95.9,332.6 97.6,332.3 99.4,332.2 C101.3,332.2 103.7,332.3 106,332.7 C108.4,333 111.1,333.5 113.6,334.2 C116,334.9 118.6,335.7 120.8,336.6 C123,337.5 125.2,338.6 126.8,339.6 C128.4,340.6 129.7,341.6 130.4,342.6 C131.2,343.5 131.5,344.4 131.3,345.2 Z" fill="#2a3acb" opacity="0.8" filter="url(#b2)"/><path d="M147.9,370.3 C148,371 147.5,371.9 146.6,372.7 C145.7,373.5 144.2,374.3 142.5,375 C140.7,375.7 138.4,376.4 136.1,376.9 C133.8,377.4 131.1,377.8 128.5,378 C126,378.2 123.2,378.3 120.9,378.2 C118.5,378.1 116.1,377.8 114.3,377.5 C112.4,377.1 110.8,376.5 109.8,375.9 C108.8,375.3 108.1,374.5 108.1,373.7 C108,373 108.5,372.1 109.4,371.3 C110.3,370.5 111.8,369.7 113.5,369 C115.3,368.3 117.6,367.6 119.9,367.1 C122.2,366.6 124.9,366.2 127.5,366 C130,365.8 132.8,365.7 135.1,365.8 C137.5,365.9 139.9,366.2 141.7,366.5 C143.6,366.9 145.2,367.5 146.2,368.1 C147.2,368.7 147.9,369.5 147.9,370.3 Z" fill="#2a3acb" opacity="0.85" filter="url(#b2)"/></g></g><clipPath id="ct5"><rect x="1068.9" y="89" width="183.8" height="190.6"/></clipPath><rect x="1068.9" y="89" width="183.8" height="190.6" fill="#000"/><g clip-path="url(#ct5)"><g transform="translate(1068.9 89)"><path d="M50,18 C61.2,13.3 80.8,10 95,10 C109.2,10 123.3,12.2 135,18 C146.7,23.8 157.8,33.8 165,45 C172.2,56.2 176.8,71.7 178,85 C179.2,98.3 175.8,112.5 172,125 C168.2,137.5 163.7,150.8 155,160 C146.3,169.2 131.7,176.3 120,180 C108.3,183.7 96.7,182.8 85,182 C73.3,181.2 60.5,180.3 50,175 C39.5,169.7 28.7,160.8 22,150 C15.3,139.2 11.2,123.3 10,110 C8.8,96.7 12,82 15,70 C18,58 22.2,46.7 28,38 C33.8,29.3 38.8,22.7 50,18 Z" fill="#444" stroke="#707070" stroke-width="4" filter="url(#b1)"/><clipPath id="bc11"><path d="M50,18 C61.2,13.3 80.8,10 95,10 C109.2,10 123.3,12.2 135,18 C146.7,23.8 157.8,33.8 165,45 C172.2,56.2 176.8,71.7 178,85 C179.2,98.3 175.8,112.5 172,125 C168.2,137.5 163.7,150.8 155,160 C146.3,169.2 131.7,176.3 120,180 C108.3,183.7 96.7,182.8 85,182 C73.3,181.2 60.5,180.3 50,175 C39.5,169.7 28.7,160.8 22,150 C15.3,139.2 11.2,123.3 10,110 C8.8,96.7 12,82 15,70 C18,58 22.2,46.7 28,38 C33.8,29.3 38.8,22.7 50,18 Z"/></clipPath><g clip-path="url(#bc11)" style="mix-blend-mode:overlay" opacity="0.75"><rect x="0" y="0" width="190" height="430" filter="url(#noise)"/></g><ellipse cx="102" cy="58" rx="38" ry="33" fill="none" stroke="#9a9a9a" stroke-width="4"/><path d="M72,80 Q100,70 130,82" stroke="#c8c8c8" stroke-width="6" fill="none"/><ellipse cx="92" cy="22" rx="7" ry="4" fill="#bdbdbd"/><path d="M40,110 L60,125 M150,110 L135,125" stroke="#aaa" stroke-width="4"/><path d="M78,38 C81.7,34 94.3,32 100,34 C105.7,36 110.7,43.7 112,50 C113.3,56.3 111.7,67.7 108,72 C104.3,76.3 95,78.3 90,76 C85,73.7 80,64.3 78,58 C76,51.7 74.3,42 78,38 Z" fill="#2a3ecf" opacity="0.9" filter="url(#b2)"/><path d="M68,115 C74.7,109.7 90.5,107.2 100,108 C109.5,108.8 118.3,113 125,120 C131.7,127 139.2,142 140,150 C140.8,158 136.7,164.7 130,168 C123.3,171.3 110,170.3 100,170 C90,169.7 76.7,171 70,166 C63.3,161 60.3,148.5 60,140 C59.7,131.5 61.3,120.3 68,115 Z" fill="#2c40cc" opacity="0.93" filter="url(#b2)"/><path d="M120,140 C120,141.3 119.5,142.6 118.6,143.8 C117.8,145 116.4,146.2 114.7,147.1 C113.1,148 111,148.8 108.9,149.2 C106.8,149.7 104.3,150 102,150 C99.7,150 97.2,149.7 95.1,149.2 C93,148.8 90.9,148 89.3,147.1 C87.6,146.2 86.2,145 85.4,143.8 C84.5,142.6 84,141.3 84,140 C84,138.7 84.5,137.4 85.4,136.2 C86.2,135 87.6,133.8 89.3,132.9 C90.9,132 93,131.2 95.1,130.8 C97.2,130.3 99.7,130 102,130 C104.3,130 106.8,130.3 108.9,130.8 C111,131.2 113.1,132 114.7,132.9 C116.4,133.8 117.8,135 118.6,136.2 C119.5,137.4 120,138.7 120,140 Z" fill="#2a80d0" opacity="0.6" filter="url(#b2)"/><ellipse cx="82" cy="165" rx="7" ry="5" fill="#6a70c0" opacity="0.8"/></g></g><clipPath id="cs5"><rect x="1068.9" y="283.8" width="183.8" height="427.2"/></clipPath><rect x="1068.9" y="283.8" width="183.8" height="427.2" fill="#000"/><g clip-path="url(#cs5)"><g transform="translate(1068.9 283.8)"><path d="M81,8 C90.2,7.2 108.5,18 120,25 C131.5,32 142,40.8 150,50 C158,59.2 164.7,70.8 168,80 C171.3,89.2 170.5,97.5 170,105 C169.5,112.5 164.7,110.8 165,125 C165.3,139.2 170.5,167.5 172,190 C173.5,212.5 173.8,238.3 174,260 C174.2,281.7 174,299 173,320 C172,341 171.8,369.2 168,386 C164.2,402.8 165.2,415.2 150,421 C134.8,426.8 92.8,426.8 77,421 C61.2,415.2 60.8,402.8 55,386 C49.2,369.2 46.2,342.7 42,320 C37.8,297.3 35,271.7 30,250 C25,228.3 15.3,203.3 12,190 C8.7,176.7 7.8,178.3 10,170 C12.2,161.7 20,150 25,140 C30,130 35.8,121.7 40,110 C44.2,98.3 45.8,83.3 50,70 C54.2,56.7 59.8,40.3 65,30 C70.2,19.7 71.8,8.8 81,8 Z" fill="#3e3e3e" stroke="#626262" stroke-width="3" filter="url(#b1)"/><clipPath id="bc12"><path d="M81,8 C90.2,7.2 108.5,18 120,25 C131.5,32 142,40.8 150,50 C158,59.2 164.7,70.8 168,80 C171.3,89.2 170.5,97.5 170,105 C169.5,112.5 164.7,110.8 165,125 C165.3,139.2 170.5,167.5 172,190 C173.5,212.5 173.8,238.3 174,260 C174.2,281.7 174,299 173,320 C172,341 171.8,369.2 168,386 C164.2,402.8 165.2,415.2 150,421 C134.8,426.8 92.8,426.8 77,421 C61.2,415.2 60.8,402.8 55,386 C49.2,369.2 46.2,342.7 42,320 C37.8,297.3 35,271.7 30,250 C25,228.3 15.3,203.3 12,190 C8.7,176.7 7.8,178.3 10,170 C12.2,161.7 20,150 25,140 C30,130 35.8,121.7 40,110 C44.2,98.3 45.8,83.3 50,70 C54.2,56.7 59.8,40.3 65,30 C70.2,19.7 71.8,8.8 81,8 Z"/></clipPath><g clip-path="url(#bc12)" style="mix-blend-mode:overlay" opacity="0.75"><rect x="0" y="0" width="190" height="430" filter="url(#noise)"/></g><path d="M118,20 Q165,50 168,95 Q160,110 150,108" stroke="#a9a9a9" stroke-width="6" fill="none"/><path d="M30,140 Q50,108 80,104 Q100,100 100,112 Q95,125 125,132 Q150,140 155,170 L158,250 L157,330 L155,380" stroke="#a8a8a8" stroke-width="10" fill="none"/><path d="M30,150 L15,175" stroke="#9a9a9a" stroke-width="6"/><path d="M112,40 L110,90" stroke="#111" stroke-width="3"/><ellipse cx="152" cy="300" rx="3" ry="2.5" fill="#c0c0c0"/><ellipse cx="152" cy="309" rx="3" ry="2.5" fill="#c0c0c0"/><ellipse cx="152" cy="318" rx="3" ry="2.5" fill="#c0c0c0"/><ellipse cx="152" cy="327" rx="3" ry="2.5" fill="#c0c0c0"/><ellipse cx="152" cy="336" rx="3" ry="2.5" fill="#c0c0c0"/><ellipse cx="152" cy="345" rx="3" ry="2.5" fill="#c0c0c0"/><ellipse cx="152" cy="354" rx="3" ry="2.5" fill="#c0c0c0"/><ellipse cx="152" cy="363" rx="3" ry="2.5" fill="#c0c0c0"/><ellipse cx="152" cy="372" rx="3" ry="2.5" fill="#c0c0c0"/><path d="M72,15 C76.2,10.5 94.3,11.7 100,15 C105.7,18.3 106.8,30 106,35 C105.2,40 100.2,43.8 95,45 C89.8,46.2 78.8,47 75,42 C71.2,37 67.8,19.5 72,15 Z" fill="#2a3acb" opacity="0.9" filter="url(#b2)"/><path d="M96,52 C96,53.1 95.6,54.4 94.9,55.4 C94.3,56.5 93.2,57.6 91.9,58.4 C90.6,59.2 89,59.9 87.4,60.3 C85.7,60.8 83.8,61 82,61 C80.2,61 78.3,60.8 76.6,60.3 C75,59.9 73.4,59.2 72.1,58.4 C70.8,57.6 69.7,56.5 69.1,55.4 C68.4,54.4 68,53.1 68,52 C68,50.9 68.4,49.6 69.1,48.6 C69.7,47.5 70.8,46.4 72.1,45.6 C73.4,44.8 75,44.1 76.6,43.7 C78.3,43.2 80.2,43 82,43 C83.8,43 85.7,43.2 87.4,43.7 C89,44.1 90.6,44.8 91.9,45.6 C93.2,46.4 94.3,47.5 94.9,48.6 C95.6,49.6 96,50.9 96,52 Z" fill="#3a4ad0" opacity="0.8" filter="url(#b2)"/><path d="M50,70 C55,64.5 70.3,62 80,62 C89.7,62 103.3,64.5 108,70 C112.7,75.5 112.7,90.3 108,95 C103.3,99.7 89.7,98 80,98 C70.3,98 55,99.7 50,95 C45,90.3 45,75.5 50,70 Z" fill="#2a3acb" opacity="0.92" filter="url(#b2)"/><path d="M110,128 C113.3,126.3 128,128.3 135,130 C142,131.7 149.5,133.8 152,138 C154.5,142.2 153.7,152 150,155 C146.3,158 135.8,158.5 130,156 C124.2,153.5 118.3,144.7 115,140 C111.7,135.3 106.7,129.7 110,128 Z" fill="#2535c8" opacity="0.95" filter="url(#b1)"/><path d="M142,146 C142,146.6 141.8,147.3 141.5,147.9 C141.1,148.5 140.6,149.1 139.9,149.5 C139.3,150 138.5,150.4 137.7,150.6 C136.9,150.9 135.9,151 135,151 C134.1,151 133.1,150.9 132.3,150.6 C131.5,150.4 130.7,150 130.1,149.5 C129.4,149.1 128.9,148.5 128.5,147.9 C128.2,147.3 128,146.6 128,146 C128,145.4 128.2,144.7 128.5,144.1 C128.9,143.5 129.4,142.9 130.1,142.5 C130.7,142 131.5,141.6 132.3,141.4 C133.1,141.1 134.1,141 135,141 C135.9,141 136.9,141.1 137.7,141.4 C138.5,141.6 139.3,142 139.9,142.5 C140.6,142.9 141.1,143.5 141.5,144.1 C141.8,144.7 142,145.4 142,146 Z" fill="#18a090" opacity="1" filter="url(#b1)"/><path d="M50,130 C54.2,124.7 75,123.3 80,128 C85,132.7 84.2,152.7 80,158 C75.8,163.3 60,164.7 55,160 C50,155.3 45.8,135.3 50,130 Z" fill="#2a3acb" opacity="0.85" filter="url(#b2)"/><g filter="url(#b05)"><path d="M30,170 C35,163.8 57.5,163 70,163 C82.5,163 97.5,163.8 105,170 C112.5,176.2 110.8,190.8 115,200 C119.2,209.2 128.3,216.7 130,225 C131.7,233.3 128.3,243.8 125,250 C121.7,256.2 115.8,261.2 110,262 C104.2,262.8 95,258.7 90,255 C85,251.3 85,242.5 80,240 C75,237.5 65.3,242.5 60,240 C54.7,237.5 51.3,231.7 48,225 C44.7,218.3 43,209.2 40,200 C37,190.8 25,176.2 30,170 Z" fill="#1c1c70" stroke="#1c1c70" stroke-width="27.3" stroke-linejoin="round" opacity="0.95"/><path d="M30,170 C35,163.8 57.5,163 70,163 C82.5,163 97.5,163.8 105,170 C112.5,176.2 110.8,190.8 115,200 C119.2,209.2 128.3,216.7 130,225 C131.7,233.3 128.3,243.8 125,250 C121.7,256.2 115.8,261.2 110,262 C104.2,262.8 95,258.7 90,255 C85,251.3 85,242.5 80,240 C75,237.5 65.3,242.5 60,240 C54.7,237.5 51.3,231.7 48,225 C44.7,218.3 43,209.2 40,200 C37,190.8 25,176.2 30,170 Z" fill="#2f42b8" stroke="#2f42b8" stroke-width="22.8" stroke-linejoin="round" opacity="1"/><path d="M30,170 C35,163.8 57.5,163 70,163 C82.5,163 97.5,163.8 105,170 C112.5,176.2 110.8,190.8 115,200 C119.2,209.2 128.3,216.7 130,225 C131.7,233.3 128.3,243.8 125,250 C121.7,256.2 115.8,261.2 110,262 C104.2,262.8 95,258.7 90,255 C85,251.3 85,242.5 80,240 C75,237.5 65.3,242.5 60,240 C54.7,237.5 51.3,231.7 48,225 C44.7,218.3 43,209.2 40,200 C37,190.8 25,176.2 30,170 Z" fill="#1a8cc0" stroke="#1a8cc0" stroke-width="17.6" stroke-linejoin="round" opacity="1"/><path d="M30,170 C35,163.8 57.5,163 70,163 C82.5,163 97.5,163.8 105,170 C112.5,176.2 110.8,190.8 115,200 C119.2,209.2 128.3,216.7 130,225 C131.7,233.3 128.3,243.8 125,250 C121.7,256.2 115.8,261.2 110,262 C104.2,262.8 95,258.7 90,255 C85,251.3 85,242.5 80,240 C75,237.5 65.3,242.5 60,240 C54.7,237.5 51.3,231.7 48,225 C44.7,218.3 43,209.2 40,200 C37,190.8 25,176.2 30,170 Z" fill="#28a850" stroke="#28a850" stroke-width="13.7" stroke-linejoin="round" opacity="1"/><path d="M30,170 C35,163.8 57.5,163 70,163 C82.5,163 97.5,163.8 105,170 C112.5,176.2 110.8,190.8 115,200 C119.2,209.2 128.3,216.7 130,225 C131.7,233.3 128.3,243.8 125,250 C121.7,256.2 115.8,261.2 110,262 C104.2,262.8 95,258.7 90,255 C85,251.3 85,242.5 80,240 C75,237.5 65.3,242.5 60,240 C54.7,237.5 51.3,231.7 48,225 C44.7,218.3 43,209.2 40,200 C37,190.8 25,176.2 30,170 Z" fill="#d8c828" stroke="#d8c828" stroke-width="10.4" stroke-linejoin="round" opacity="1"/><path d="M30,170 C35,163.8 57.5,163 70,163 C82.5,163 97.5,163.8 105,170 C112.5,176.2 110.8,190.8 115,200 C119.2,209.2 128.3,216.7 130,225 C131.7,233.3 128.3,243.8 125,250 C121.7,256.2 115.8,261.2 110,262 C104.2,262.8 95,258.7 90,255 C85,251.3 85,242.5 80,240 C75,237.5 65.3,242.5 60,240 C54.7,237.5 51.3,231.7 48,225 C44.7,218.3 43,209.2 40,200 C37,190.8 25,176.2 30,170 Z" fill="#e3203a" stroke="#e3203a" stroke-width="8.1" stroke-linejoin="round" opacity="1"/></g><path d="M30,170 C35,163.8 57.5,163 70,163 C82.5,163 97.5,163.8 105,170 C112.5,176.2 110.8,190.8 115,200 C119.2,209.2 128.3,216.7 130,225 C131.7,233.3 128.3,243.8 125,250 C121.7,256.2 115.8,261.2 110,262 C104.2,262.8 95,258.7 90,255 C85,251.3 85,242.5 80,240 C75,237.5 65.3,242.5 60,240 C54.7,237.5 51.3,231.7 48,225 C44.7,218.3 43,209.2 40,200 C37,190.8 25,176.2 30,170 Z" fill="#e42235"/><path d="M84,245 C84,246.5 83.4,248.2 82.3,249.6 C81.3,251 79.5,252.4 77.6,253.5 C75.6,254.6 73,255.5 70.4,256.1 C67.8,256.7 64.8,257 62,257 C59.2,257 56.2,256.7 53.6,256.1 C51,255.5 48.4,254.6 46.4,253.5 C44.5,252.4 42.7,251 41.7,249.6 C40.6,248.2 40,246.5 40,245 C40,243.5 40.6,241.8 41.7,240.4 C42.7,239 44.5,237.6 46.4,236.5 C48.4,235.4 51,234.5 53.6,233.9 C56.2,233.3 59.2,233 62,233 C64.8,233 67.8,233.3 70.4,233.9 C73,234.5 75.6,235.4 77.6,236.5 C79.5,237.6 81.3,239 82.3,240.4 C83.4,241.8 84,243.5 84,245 Z" fill="#2a3acb" opacity="0.9" filter="url(#b2)"/><path d="M80,235 C80,235.8 79.7,236.6 79.2,237.3 C78.8,238 78,238.7 77.1,239.2 C76.2,239.8 75,240.3 73.8,240.5 C72.6,240.8 71.3,241 70,241 C68.7,241 67.4,240.8 66.2,240.5 C65,240.3 63.8,239.8 62.9,239.2 C62,238.7 61.2,238 60.8,237.3 C60.3,236.6 60,235.8 60,235 C60,234.2 60.3,233.4 60.8,232.7 C61.2,232 62,231.3 62.9,230.8 C63.8,230.2 65,229.7 66.2,229.5 C67.4,229.2 68.7,229 70,229 C71.3,229 72.6,229.2 73.8,229.5 C75,229.7 76.2,230.2 77.1,230.8 C78,231.3 78.8,232 79.2,232.7 C79.7,233.4 80,234.2 80,235 Z" fill="#2a90a0" opacity="0.7" filter="url(#b1)"/><path d="M63,225 C63,225.8 62.8,226.6 62.4,227.3 C62,228 61.4,228.7 60.7,229.2 C59.9,229.8 59,230.3 58.1,230.5 C57.1,230.8 56,231 55,231 C54,231 52.9,230.8 51.9,230.5 C51,230.3 50.1,229.8 49.3,229.2 C48.6,228.7 48,228 47.6,227.3 C47.2,226.6 47,225.8 47,225 C47,224.2 47.2,223.4 47.6,222.7 C48,222 48.6,221.3 49.3,220.8 C50.1,220.2 51,219.7 51.9,219.5 C52.9,219.2 54,219 55,219 C56,219 57.1,219.2 58.1,219.5 C59,219.7 59.9,220.2 60.7,220.8 C61.4,221.3 62,222 62.4,222.7 C62.8,223.4 63,224.2 63,225 Z" fill="#e07030" opacity="0.7" filter="url(#b1)"/><path d="M36,178 C39.7,173.7 53.8,172.3 62,172 C70.2,171.7 79,175 85,176 C91,177 95.5,174 98,178 C100.5,182 101.3,193.7 100,200 C98.7,206.3 93.3,215.2 90,216 C86.7,216.8 83.7,208.3 80,205 C76.3,201.7 72.7,196.2 68,196 C63.3,195.8 56.7,203.7 52,204 C47.3,204.3 42.7,202.3 40,198 C37.3,193.7 32.3,182.3 36,178 Z" fill="#e0e0e0" filter="url(#b1)"/><path d="M80,205 C80,206 79.7,207.1 79.1,208.1 C78.5,209 77.6,209.9 76.5,210.7 C75.4,211.4 74,212 72.6,212.4 C71.2,212.8 69.5,213 68,213 C66.5,213 64.8,212.8 63.4,212.4 C62,212 60.6,211.4 59.5,210.7 C58.4,209.9 57.5,209 56.9,208.1 C56.3,207.1 56,206 56,205 C56,204 56.3,202.9 56.9,201.9 C57.5,201 58.4,200.1 59.5,199.3 C60.6,198.6 62,198 63.4,197.6 C64.8,197.2 66.5,197 68,197 C69.5,197 71.2,197.2 72.6,197.6 C74,198 75.4,198.6 76.5,199.3 C77.6,200.1 78.5,201 79.1,201.9 C79.7,202.9 80,204 80,205 Z" fill="#e8187a" opacity="0.8" filter="url(#b1)"/><g filter="url(#b05)"><path d="M130,232 C130,234 129.6,236.2 128.8,238.1 C128,240 126.8,241.9 125.3,243.3 C123.9,244.8 122,246 120.1,246.8 C118.2,247.6 116,248 114,248 C112,248 109.8,247.6 107.9,246.8 C106,246 104.1,244.8 102.7,243.3 C101.2,241.9 100,240 99.2,238.1 C98.4,236.2 98,234 98,232 C98,230 98.4,227.8 99.2,225.9 C100,224 101.2,222.1 102.7,220.7 C104.1,219.2 106,218 107.9,217.2 C109.8,216.4 112,216 114,216 C116,216 118.2,216.4 120.1,217.2 C122,218 123.9,219.2 125.3,220.7 C126.8,222.1 128,224 128.8,225.9 C129.6,227.8 130,230 130,232 Z" fill="#1c1c70" stroke="#1c1c70" stroke-width="12.6" stroke-linejoin="round" opacity="0.95"/><path d="M130,232 C130,234 129.6,236.2 128.8,238.1 C128,240 126.8,241.9 125.3,243.3 C123.9,244.8 122,246 120.1,246.8 C118.2,247.6 116,248 114,248 C112,248 109.8,247.6 107.9,246.8 C106,246 104.1,244.8 102.7,243.3 C101.2,241.9 100,240 99.2,238.1 C98.4,236.2 98,234 98,232 C98,230 98.4,227.8 99.2,225.9 C100,224 101.2,222.1 102.7,220.7 C104.1,219.2 106,218 107.9,217.2 C109.8,216.4 112,216 114,216 C116,216 118.2,216.4 120.1,217.2 C122,218 123.9,219.2 125.3,220.7 C126.8,222.1 128,224 128.8,225.9 C129.6,227.8 130,230 130,232 Z" fill="#2f42b8" stroke="#2f42b8" stroke-width="10.5" stroke-linejoin="round" opacity="1"/><path d="M130,232 C130,234 129.6,236.2 128.8,238.1 C128,240 126.8,241.9 125.3,243.3 C123.9,244.8 122,246 120.1,246.8 C118.2,247.6 116,248 114,248 C112,248 109.8,247.6 107.9,246.8 C106,246 104.1,244.8 102.7,243.3 C101.2,241.9 100,240 99.2,238.1 C98.4,236.2 98,234 98,232 C98,230 98.4,227.8 99.2,225.9 C100,224 101.2,222.1 102.7,220.7 C104.1,219.2 106,218 107.9,217.2 C109.8,216.4 112,216 114,216 C116,216 118.2,216.4 120.1,217.2 C122,218 123.9,219.2 125.3,220.7 C126.8,222.1 128,224 128.8,225.9 C129.6,227.8 130,230 130,232 Z" fill="#1a8cc0" stroke="#1a8cc0" stroke-width="8.1" stroke-linejoin="round" opacity="1"/><path d="M130,232 C130,234 129.6,236.2 128.8,238.1 C128,240 126.8,241.9 125.3,243.3 C123.9,244.8 122,246 120.1,246.8 C118.2,247.6 116,248 114,248 C112,248 109.8,247.6 107.9,246.8 C106,246 104.1,244.8 102.7,243.3 C101.2,241.9 100,240 99.2,238.1 C98.4,236.2 98,234 98,232 C98,230 98.4,227.8 99.2,225.9 C100,224 101.2,222.1 102.7,220.7 C104.1,219.2 106,218 107.9,217.2 C109.8,216.4 112,216 114,216 C116,216 118.2,216.4 120.1,217.2 C122,218 123.9,219.2 125.3,220.7 C126.8,222.1 128,224 128.8,225.9 C129.6,227.8 130,230 130,232 Z" fill="#28a850" stroke="#28a850" stroke-width="6.3" stroke-linejoin="round" opacity="1"/><path d="M130,232 C130,234 129.6,236.2 128.8,238.1 C128,240 126.8,241.9 125.3,243.3 C123.9,244.8 122,246 120.1,246.8 C118.2,247.6 116,248 114,248 C112,248 109.8,247.6 107.9,246.8 C106,246 104.1,244.8 102.7,243.3 C101.2,241.9 100,240 99.2,238.1 C98.4,236.2 98,234 98,232 C98,230 98.4,227.8 99.2,225.9 C100,224 101.2,222.1 102.7,220.7 C104.1,219.2 106,218 107.9,217.2 C109.8,216.4 112,216 114,216 C116,216 118.2,216.4 120.1,217.2 C122,218 123.9,219.2 125.3,220.7 C126.8,222.1 128,224 128.8,225.9 C129.6,227.8 130,230 130,232 Z" fill="#d8c828" stroke="#d8c828" stroke-width="4.8" stroke-linejoin="round" opacity="1"/><path d="M130,232 C130,234 129.6,236.2 128.8,238.1 C128,240 126.8,241.9 125.3,243.3 C123.9,244.8 122,246 120.1,246.8 C118.2,247.6 116,248 114,248 C112,248 109.8,247.6 107.9,246.8 C106,246 104.1,244.8 102.7,243.3 C101.2,241.9 100,240 99.2,238.1 C98.4,236.2 98,234 98,232 C98,230 98.4,227.8 99.2,225.9 C100,224 101.2,222.1 102.7,220.7 C104.1,219.2 106,218 107.9,217.2 C109.8,216.4 112,216 114,216 C116,216 118.2,216.4 120.1,217.2 C122,218 123.9,219.2 125.3,220.7 C126.8,222.1 128,224 128.8,225.9 C129.6,227.8 130,230 130,232 Z" fill="#e3203a" stroke="#e3203a" stroke-width="3.7" stroke-linejoin="round" opacity="1"/></g><path d="M130,232 C130,234 129.6,236.2 128.8,238.1 C128,240 126.8,241.9 125.3,243.3 C123.9,244.8 122,246 120.1,246.8 C118.2,247.6 116,248 114,248 C112,248 109.8,247.6 107.9,246.8 C106,246 104.1,244.8 102.7,243.3 C101.2,241.9 100,240 99.2,238.1 C98.4,236.2 98,234 98,232 C98,230 98.4,227.8 99.2,225.9 C100,224 101.2,222.1 102.7,220.7 C104.1,219.2 106,218 107.9,217.2 C109.8,216.4 112,216 114,216 C116,216 118.2,216.4 120.1,217.2 C122,218 123.9,219.2 125.3,220.7 C126.8,222.1 128,224 128.8,225.9 C129.6,227.8 130,230 130,232 Z" fill="#e0e0e0"/><g filter="url(#b05)"><path d="M45,290 C49.7,285.3 60,279 70,277 C80,275 96.7,275 105,278 C113.3,281 117.2,288 120,295 C122.8,302 120.3,313.3 122,320 C123.7,326.7 128.2,330.3 130,335 C131.8,339.7 134.3,344.7 133,348 C131.7,351.3 127.5,355 122,355 C116.5,355 104.8,351.3 100,348 C95.2,344.7 98,337.2 93,335 C88,332.8 77.5,336.7 70,335 C62.5,333.3 52.7,330 48,325 C43.3,320 42.5,310.8 42,305 C41.5,299.2 40.3,294.7 45,290 Z" fill="#1c1c70" stroke="#1c1c70" stroke-width="21" stroke-linejoin="round" opacity="0.95"/><path d="M45,290 C49.7,285.3 60,279 70,277 C80,275 96.7,275 105,278 C113.3,281 117.2,288 120,295 C122.8,302 120.3,313.3 122,320 C123.7,326.7 128.2,330.3 130,335 C131.8,339.7 134.3,344.7 133,348 C131.7,351.3 127.5,355 122,355 C116.5,355 104.8,351.3 100,348 C95.2,344.7 98,337.2 93,335 C88,332.8 77.5,336.7 70,335 C62.5,333.3 52.7,330 48,325 C43.3,320 42.5,310.8 42,305 C41.5,299.2 40.3,294.7 45,290 Z" fill="#2f42b8" stroke="#2f42b8" stroke-width="17.5" stroke-linejoin="round" opacity="1"/><path d="M45,290 C49.7,285.3 60,279 70,277 C80,275 96.7,275 105,278 C113.3,281 117.2,288 120,295 C122.8,302 120.3,313.3 122,320 C123.7,326.7 128.2,330.3 130,335 C131.8,339.7 134.3,344.7 133,348 C131.7,351.3 127.5,355 122,355 C116.5,355 104.8,351.3 100,348 C95.2,344.7 98,337.2 93,335 C88,332.8 77.5,336.7 70,335 C62.5,333.3 52.7,330 48,325 C43.3,320 42.5,310.8 42,305 C41.5,299.2 40.3,294.7 45,290 Z" fill="#1a8cc0" stroke="#1a8cc0" stroke-width="13.5" stroke-linejoin="round" opacity="1"/><path d="M45,290 C49.7,285.3 60,279 70,277 C80,275 96.7,275 105,278 C113.3,281 117.2,288 120,295 C122.8,302 120.3,313.3 122,320 C123.7,326.7 128.2,330.3 130,335 C131.8,339.7 134.3,344.7 133,348 C131.7,351.3 127.5,355 122,355 C116.5,355 104.8,351.3 100,348 C95.2,344.7 98,337.2 93,335 C88,332.8 77.5,336.7 70,335 C62.5,333.3 52.7,330 48,325 C43.3,320 42.5,310.8 42,305 C41.5,299.2 40.3,294.7 45,290 Z" fill="#28a850" stroke="#28a850" stroke-width="10.5" stroke-linejoin="round" opacity="1"/><path d="M45,290 C49.7,285.3 60,279 70,277 C80,275 96.7,275 105,278 C113.3,281 117.2,288 120,295 C122.8,302 120.3,313.3 122,320 C123.7,326.7 128.2,330.3 130,335 C131.8,339.7 134.3,344.7 133,348 C131.7,351.3 127.5,355 122,355 C116.5,355 104.8,351.3 100,348 C95.2,344.7 98,337.2 93,335 C88,332.8 77.5,336.7 70,335 C62.5,333.3 52.7,330 48,325 C43.3,320 42.5,310.8 42,305 C41.5,299.2 40.3,294.7 45,290 Z" fill="#d8c828" stroke="#d8c828" stroke-width="8" stroke-linejoin="round" opacity="1"/><path d="M45,290 C49.7,285.3 60,279 70,277 C80,275 96.7,275 105,278 C113.3,281 117.2,288 120,295 C122.8,302 120.3,313.3 122,320 C123.7,326.7 128.2,330.3 130,335 C131.8,339.7 134.3,344.7 133,348 C131.7,351.3 127.5,355 122,355 C116.5,355 104.8,351.3 100,348 C95.2,344.7 98,337.2 93,335 C88,332.8 77.5,336.7 70,335 C62.5,333.3 52.7,330 48,325 C43.3,320 42.5,310.8 42,305 C41.5,299.2 40.3,294.7 45,290 Z" fill="#e3203a" stroke="#e3203a" stroke-width="6.2" stroke-linejoin="round" opacity="1"/></g><path d="M45,290 C49.7,285.3 60,279 70,277 C80,275 96.7,275 105,278 C113.3,281 117.2,288 120,295 C122.8,302 120.3,313.3 122,320 C123.7,326.7 128.2,330.3 130,335 C131.8,339.7 134.3,344.7 133,348 C131.7,351.3 127.5,355 122,355 C116.5,355 104.8,351.3 100,348 C95.2,344.7 98,337.2 93,335 C88,332.8 77.5,336.7 70,335 C62.5,333.3 52.7,330 48,325 C43.3,320 42.5,310.8 42,305 C41.5,299.2 40.3,294.7 45,290 Z" fill="#e0e0e0"/><g filter="url(#b05)"><path d="M92,378 C92,379.3 91.6,380.6 91,381.8 C90.4,383 89.4,384.2 88.2,385.1 C87,386 85.5,386.8 84,387.2 C82.4,387.7 80.7,388 79,388 C77.3,388 75.6,387.7 74,387.2 C72.5,386.8 71,386 69.8,385.1 C68.6,384.2 67.6,383 67,381.8 C66.4,380.6 66,379.3 66,378 C66,376.7 66.4,375.4 67,374.2 C67.6,373 68.6,371.8 69.8,370.9 C71,370 72.5,369.2 74,368.8 C75.6,368.3 77.3,368 79,368 C80.7,368 82.4,368.3 84,368.8 C85.5,369.2 87,370 88.2,370.9 C89.4,371.8 90.4,373 91,374.2 C91.6,375.4 92,376.7 92,378 Z" fill="#1c1c70" stroke="#1c1c70" stroke-width="21" stroke-linejoin="round" opacity="0.95"/><path d="M92,378 C92,379.3 91.6,380.6 91,381.8 C90.4,383 89.4,384.2 88.2,385.1 C87,386 85.5,386.8 84,387.2 C82.4,387.7 80.7,388 79,388 C77.3,388 75.6,387.7 74,387.2 C72.5,386.8 71,386 69.8,385.1 C68.6,384.2 67.6,383 67,381.8 C66.4,380.6 66,379.3 66,378 C66,376.7 66.4,375.4 67,374.2 C67.6,373 68.6,371.8 69.8,370.9 C71,370 72.5,369.2 74,368.8 C75.6,368.3 77.3,368 79,368 C80.7,368 82.4,368.3 84,368.8 C85.5,369.2 87,370 88.2,370.9 C89.4,371.8 90.4,373 91,374.2 C91.6,375.4 92,376.7 92,378 Z" fill="#2f42b8" stroke="#2f42b8" stroke-width="17.5" stroke-linejoin="round" opacity="1"/><path d="M92,378 C92,379.3 91.6,380.6 91,381.8 C90.4,383 89.4,384.2 88.2,385.1 C87,386 85.5,386.8 84,387.2 C82.4,387.7 80.7,388 79,388 C77.3,388 75.6,387.7 74,387.2 C72.5,386.8 71,386 69.8,385.1 C68.6,384.2 67.6,383 67,381.8 C66.4,380.6 66,379.3 66,378 C66,376.7 66.4,375.4 67,374.2 C67.6,373 68.6,371.8 69.8,370.9 C71,370 72.5,369.2 74,368.8 C75.6,368.3 77.3,368 79,368 C80.7,368 82.4,368.3 84,368.8 C85.5,369.2 87,370 88.2,370.9 C89.4,371.8 90.4,373 91,374.2 C91.6,375.4 92,376.7 92,378 Z" fill="#1a8cc0" stroke="#1a8cc0" stroke-width="13.5" stroke-linejoin="round" opacity="1"/><path d="M92,378 C92,379.3 91.6,380.6 91,381.8 C90.4,383 89.4,384.2 88.2,385.1 C87,386 85.5,386.8 84,387.2 C82.4,387.7 80.7,388 79,388 C77.3,388 75.6,387.7 74,387.2 C72.5,386.8 71,386 69.8,385.1 C68.6,384.2 67.6,383 67,381.8 C66.4,380.6 66,379.3 66,378 C66,376.7 66.4,375.4 67,374.2 C67.6,373 68.6,371.8 69.8,370.9 C71,370 72.5,369.2 74,368.8 C75.6,368.3 77.3,368 79,368 C80.7,368 82.4,368.3 84,368.8 C85.5,369.2 87,370 88.2,370.9 C89.4,371.8 90.4,373 91,374.2 C91.6,375.4 92,376.7 92,378 Z" fill="#28a850" stroke="#28a850" stroke-width="10.5" stroke-linejoin="round" opacity="1"/><path d="M92,378 C92,379.3 91.6,380.6 91,381.8 C90.4,383 89.4,384.2 88.2,385.1 C87,386 85.5,386.8 84,387.2 C82.4,387.7 80.7,388 79,388 C77.3,388 75.6,387.7 74,387.2 C72.5,386.8 71,386 69.8,385.1 C68.6,384.2 67.6,383 67,381.8 C66.4,380.6 66,379.3 66,378 C66,376.7 66.4,375.4 67,374.2 C67.6,373 68.6,371.8 69.8,370.9 C71,370 72.5,369.2 74,368.8 C75.6,368.3 77.3,368 79,368 C80.7,368 82.4,368.3 84,368.8 C85.5,369.2 87,370 88.2,370.9 C89.4,371.8 90.4,373 91,374.2 C91.6,375.4 92,376.7 92,378 Z" fill="#d8c828" stroke="#d8c828" stroke-width="8" stroke-linejoin="round" opacity="1"/><path d="M92,378 C92,379.3 91.6,380.6 91,381.8 C90.4,383 89.4,384.2 88.2,385.1 C87,386 85.5,386.8 84,387.2 C82.4,387.7 80.7,388 79,388 C77.3,388 75.6,387.7 74,387.2 C72.5,386.8 71,386 69.8,385.1 C68.6,384.2 67.6,383 67,381.8 C66.4,380.6 66,379.3 66,378 C66,376.7 66.4,375.4 67,374.2 C67.6,373 68.6,371.8 69.8,370.9 C71,370 72.5,369.2 74,368.8 C75.6,368.3 77.3,368 79,368 C80.7,368 82.4,368.3 84,368.8 C85.5,369.2 87,370 88.2,370.9 C89.4,371.8 90.4,373 91,374.2 C91.6,375.4 92,376.7 92,378 Z" fill="#e3203a" stroke="#e3203a" stroke-width="6.2" stroke-linejoin="round" opacity="1"/></g><path d="M92,378 C92,379.3 91.6,380.6 91,381.8 C90.4,383 89.4,384.2 88.2,385.1 C87,386 85.5,386.8 84,387.2 C82.4,387.7 80.7,388 79,388 C77.3,388 75.6,387.7 74,387.2 C72.5,386.8 71,386 69.8,385.1 C68.6,384.2 67.6,383 67,381.8 C66.4,380.6 66,379.3 66,378 C66,376.7 66.4,375.4 67,374.2 C67.6,373 68.6,371.8 69.8,370.9 C71,370 72.5,369.2 74,368.8 C75.6,368.3 77.3,368 79,368 C80.7,368 82.4,368.3 84,368.8 C85.5,369.2 87,370 88.2,370.9 C89.4,371.8 90.4,373 91,374.2 C91.6,375.4 92,376.7 92,378 Z" fill="#e0e0e0"/><path d="M114,410 C114,410.5 113.8,411.1 113.5,411.5 C113.3,412 112.8,412.5 112.2,412.8 C111.7,413.2 111,413.5 110.3,413.7 C109.6,413.9 108.8,414 108,414 C107.2,414 106.4,413.9 105.7,413.7 C105,413.5 104.3,413.2 103.8,412.8 C103.2,412.5 102.7,412 102.5,411.5 C102.2,411.1 102,410.5 102,410 C102,409.5 102.2,408.9 102.5,408.5 C102.7,408 103.2,407.5 103.8,407.2 C104.3,406.8 105,406.5 105.7,406.3 C106.4,406.1 107.2,406 108,406 C108.8,406 109.6,406.1 110.3,406.3 C111,406.5 111.7,406.8 112.2,407.2 C112.8,407.5 113.3,408 113.5,408.5 C113.8,408.9 114,409.5 114,410 Z" fill="#2a3acb" opacity="0.8" filter="url(#b2)"/></g></g><text x="102.6" y="105.1" font-size="18.3" fill="#f2e92c" textLength="90" lengthAdjust="spacingAndGlyphs" transform="translate(0 -5.3) scale(1 1.05)">Transverse</text><text x="232.5" y="105.1" font-size="18.3" fill="#fff" textLength="47" lengthAdjust="spacingAndGlyphs" transform="translate(0 -5.3) scale(1 1.05)">Day 2</text><text x="698.7" y="105.1" font-size="18.3" fill="#f2e92c" textLength="90" lengthAdjust="spacingAndGlyphs" transform="translate(0 -5.3) scale(1 1.05)">Transverse</text><text x="815.5" y="105.1" font-size="18.3" fill="#fff" textLength="56.5" lengthAdjust="spacingAndGlyphs" transform="translate(0 -5.3) scale(1 1.05)">Day 16</text><text x="102.3" y="301.4" font-size="18.3" fill="#f2e92c" transform="translate(0 -15.1) scale(1 1.05)">Sagittal</text><text x="697.8" y="301.4" font-size="18.3" fill="#f2e92c" transform="translate(0 -15.1) scale(1 1.05)">Sagittal</text><text x="155.9" y="468.3" font-size="16.5" text-anchor="middle" transform="translate(0 -18.7) scale(1 1.04)">L</text><text x="213" y="522" font-size="16.5" text-anchor="middle" transform="translate(0 -20.9) scale(1 1.04)">K</text><text x="178.1" y="599" font-size="16.5" text-anchor="middle" transform="translate(0 -24) scale(1 1.04)">B</text><text x="752" y="457" font-size="16.5" text-anchor="middle" transform="translate(0 -18.3) scale(1 1.04)">L</text><text x="790" y="516.8" font-size="16.5" text-anchor="middle" transform="translate(0 -20.7) scale(1 1.04)">K</text><text x="781" y="588.7" font-size="16.5" text-anchor="middle" transform="translate(0 -23.5) scale(1 1.04)">B</text><rect x="666.9" y="203" width="17.9" height="412" fill="url(#cbar)"/><text x="98.5" y="756.9" font-size="44">L: liver, K: kidney, B: bladder</text><text x="1280.4" y="62.7" font-size="88" transform="translate(0 -2.5) scale(1 1.04)">B.</text><text x="1605.7" y="126.8" font-size="50.5" fill="#ff0000" transform="translate(0 -5.1) scale(1 1.04)">BAT</text><line x1="1404.8" y1="155.5" x2="1404.8" y2="645.2" stroke="#000" stroke-width="3"/><line x1="1395" y1="643.7" x2="1890" y2="643.7" stroke="#000" stroke-width="3"/><line x1="1395" y1="643.7" x2="1404.8" y2="643.7" stroke="#000" stroke-width="3"/><text x="1392" y="651.9" font-size="23" text-anchor="end">0.0</text><line x1="1395" y1="546.3" x2="1404.8" y2="546.3" stroke="#000" stroke-width="3"/><text x="1392" y="554.5" font-size="23" text-anchor="end">0.5</text><line x1="1395" y1="448.9" x2="1404.8" y2="448.9" stroke="#000" stroke-width="3"/><text x="1392" y="457.1" font-size="23" text-anchor="end">1.0</text><line x1="1395" y1="351.5" x2="1404.8" y2="351.5" stroke="#000" stroke-width="3"/><text x="1392" y="359.7" font-size="23" text-anchor="end">1.5</text><line x1="1395" y1="254.1" x2="1404.8" y2="254.1" stroke="#000" stroke-width="3"/><text x="1392" y="262.3" font-size="23" text-anchor="end">2.0</text><line x1="1395" y1="156.7" x2="1404.8" y2="156.7" stroke="#000" stroke-width="3"/><text x="1392" y="164.9" font-size="23" text-anchor="end">2.5</text><rect x="1416.7" y="464.5" width="47.7" height="179.2" fill="#ff2a00" stroke="#000" stroke-width="2.2"/><rect x="1489.4" y="480.1" width="47.6" height="163.6" fill="#0433ff" stroke="#000" stroke-width="2.2"/><rect x="1562.8" y="497.6" width="47.2" height="146.1" fill="#00c800" stroke="#000" stroke-width="2.2"/><rect x="1683.8" y="361.2" width="47.6" height="282.5" fill="#ff2a00" stroke="#000" stroke-width="2.2"/><rect x="1756.8" y="491.8" width="47.6" height="151.9" fill="#0433ff" stroke="#000" stroke-width="2.2"/><rect x="1830.2" y="491.8" width="47.3" height="151.9" fill="#00c800" stroke="#000" stroke-width="2.2"/><line x1="1440.6" y1="454.4" x2="1440.6" y2="473.4" stroke="#000" stroke-width="2.5"/><line x1="1427.1" y1="454.4" x2="1454.1" y2="454.4" stroke="#000" stroke-width="2.5"/><line x1="1427.1" y1="473.4" x2="1454.1" y2="473.4" stroke="#000" stroke-width="2.5"/><line x1="1513.2" y1="470" x2="1513.2" y2="491" stroke="#000" stroke-width="2.5"/><line x1="1499.7" y1="470" x2="1526.7" y2="470" stroke="#000" stroke-width="2.5"/><line x1="1499.7" y1="491" x2="1526.7" y2="491" stroke="#000" stroke-width="2.5"/><line x1="1586.4" y1="484.1" x2="1586.4" y2="512.7" stroke="#000" stroke-width="2.5"/><line x1="1571.4" y1="484.1" x2="1601.4" y2="484.1" stroke="#000" stroke-width="2.5"/><line x1="1571.4" y1="512.7" x2="1601.4" y2="512.7" stroke="#000" stroke-width="2.5"/><line x1="1707.6" y1="350.4" x2="1707.6" y2="375" stroke="#000" stroke-width="2.5"/><line x1="1692.6" y1="350.4" x2="1722.6" y2="350.4" stroke="#000" stroke-width="2.5"/><line x1="1692.6" y1="375" x2="1722.6" y2="375" stroke="#000" stroke-width="2.5"/><line x1="1780.6" y1="483.3" x2="1780.6" y2="500.8" stroke="#000" stroke-width="2.5"/><line x1="1765.6" y1="483.3" x2="1795.6" y2="483.3" stroke="#000" stroke-width="2.5"/><line x1="1765.6" y1="500.8" x2="1795.6" y2="500.8" stroke="#000" stroke-width="2.5"/><line x1="1854" y1="483.3" x2="1854" y2="500.8" stroke="#000" stroke-width="2.5"/><line x1="1839" y1="483.3" x2="1869" y2="483.3" stroke="#000" stroke-width="2.5"/><line x1="1839" y1="500.8" x2="1869" y2="500.8" stroke="#000" stroke-width="2.5"/><circle cx="1440.6" cy="424.9" r="8.1" fill="#000"/><circle cx="1424.3" cy="459" r="8.1" fill="#000"/><circle cx="1440.6" cy="457.4" r="8.1" fill="#000"/><circle cx="1440.6" cy="473.7" r="8.1" fill="#000"/><circle cx="1456.9" cy="471.3" r="8.1" fill="#000"/><circle cx="1440.6" cy="494" r="8.1" fill="#000"/><circle cx="1691.7" cy="326.6" r="8.1" fill="#000"/><circle cx="1724.3" cy="326.6" r="8.1" fill="#000"/><circle cx="1724.3" cy="361.1" r="8.1" fill="#000"/><circle cx="1691.7" cy="369" r="8.1" fill="#000"/><circle cx="1691.7" cy="396" r="8.1" fill="#000"/><circle cx="1724.3" cy="392.9" r="8.1" fill="#000"/><rect x="1489.3" y="458.3" width="16" height="16" fill="#000"/><rect x="1521.8" y="458.3" width="16" height="16" fill="#000"/><rect x="1506" y="471.4" width="16" height="16" fill="#000"/><rect x="1506" y="503.9" width="16" height="16" fill="#000"/><rect x="1756.8" y="470.2" width="16" height="16" fill="#000"/><rect x="1788.5" y="465" width="16" height="16" fill="#000"/><rect x="1756.8" y="506.7" width="16" height="16" fill="#000"/><rect x="1788.5" y="492" width="16" height="16" fill="#000"/><path d="M1603.3,459.9 L1611.5,475.7 L1595.1,475.7 Z" fill="#000"/><path d="M1570.8,473.7 L1579,489.5 L1562.6,489.5 Z" fill="#000"/><path d="M1570.8,517.4 L1579,533.2 L1562.6,533.2 Z" fill="#000"/><path d="M1603.3,512.6 L1611.5,528.4 L1595.1,528.4 Z" fill="#000"/><path d="M1869.9,463 L1878.1,478.8 L1861.7,478.8 Z" fill="#000"/><path d="M1837.4,475.7 L1845.6,491.5 L1829.2,491.5 Z" fill="#000"/><path d="M1869.9,490.8 L1878.1,506.6 L1861.7,506.6 Z" fill="#000"/><path d="M1837.4,505.5 L1845.6,521.3 L1829.2,521.3 Z" fill="#000"/><circle cx="1430.6" cy="180.3" r="8.2" fill="#000"/><rect x="1422.4" y="201.4" width="16.4" height="16.4" fill="#000"/><path d="M1430.6,230.6 L1438.8,246.4 L1422.4,246.4 Z" fill="#000"/><text x="1468.5" y="189.4" font-size="26" textLength="124.2" lengthAdjust="spacingAndGlyphs">Cre+TAM+</text><text x="1468.5" y="218.8" font-size="26">Cre+TAM-</text><text x="1468.5" y="248.2" font-size="26">Cre-TAM+</text><line x1="1439.8" y1="295.6" x2="1705.2" y2="295.6" stroke="#000" stroke-width="3"/><line x1="1708.4" y1="295.6" x2="1781.8" y2="295.6" stroke="#000" stroke-width="3"/><line x1="1709.6" y1="236.1" x2="1855.2" y2="236.1" stroke="#000" stroke-width="3"/><text x="1541.9" y="300.4" font-size="44.4" font-weight="bold" text-anchor="middle" transform="translate(1541.9 0) scale(1.025 1) translate(-1541.9 0)">*</text><text x="1562.5" y="300.4" font-size="44.4" font-weight="bold" text-anchor="middle" transform="translate(1562.5 0) scale(1.025 1) translate(-1562.5 0)">*</text><text x="1583" y="300.4" font-size="44.4" font-weight="bold" text-anchor="middle" transform="translate(1583 0) scale(1.025 1) translate(-1583 0)">*</text><text x="1603.6" y="300.4" font-size="44.4" font-weight="bold" text-anchor="middle" transform="translate(1603.6 0) scale(1.025 1) translate(-1603.6 0)">*</text><text x="1716.4" y="300.4" font-size="44.4" font-weight="bold" text-anchor="middle" transform="translate(1716.4 0) scale(1.025 1) translate(-1716.4 0)">*</text><text x="1737" y="300.4" font-size="44.4" font-weight="bold" text-anchor="middle" transform="translate(1737 0) scale(1.025 1) translate(-1737 0)">*</text><text x="1757.5" y="300.4" font-size="44.4" font-weight="bold" text-anchor="middle" transform="translate(1757.5 0) scale(1.025 1) translate(-1757.5 0)">*</text><text x="1778.1" y="300.4" font-size="44.4" font-weight="bold" text-anchor="middle" transform="translate(1778.1 0) scale(1.025 1) translate(-1778.1 0)">*</text><text x="1752.8" y="240.8" font-size="44.4" font-weight="bold" text-anchor="middle" transform="translate(1752.8 0) scale(1.025 1) translate(-1752.8 0)">*</text><text x="1773.3" y="240.8" font-size="44.4" font-weight="bold" text-anchor="middle" transform="translate(1773.3 0) scale(1.025 1) translate(-1773.3 0)">*</text><text x="1793.9" y="240.8" font-size="44.4" font-weight="bold" text-anchor="middle" transform="translate(1793.9 0) scale(1.025 1) translate(-1793.9 0)">*</text><text x="1814.5" y="240.8" font-size="44.4" font-weight="bold" text-anchor="middle" transform="translate(1814.5 0) scale(1.025 1) translate(-1814.5 0)">*</text><text x="1514" y="683" font-size="30.8" text-anchor="middle">Day 2</text><text x="1781" y="683" font-size="30.8" text-anchor="middle">Day 16</text><text x="1333.4" y="409.5" font-size="37.5" text-anchor="middle" textLength="153" lengthAdjust="spacingAndGlyphs" transform="rotate(-90 1333.4 409.5)">%ID/gram</text><text x="0" y="822.4" font-size="88" transform="translate(0 -32.9) scale(1 1.04)">C.</text><text x="157.5" y="855" font-size="44" fill="#ff0000">Day 16</text><line x1="137.5" y1="819.8" x2="137.5" y2="991.3" stroke="#000" stroke-width="3"/><line x1="137.5" y1="1018.3" x2="137.5" y2="1340.7" stroke="#000" stroke-width="3"/><line x1="128" y1="821.3" x2="137.5" y2="821.3" stroke="#000" stroke-width="3"/><text x="127" y="829.7" font-size="26.5" text-anchor="end" transform="translate(0 -24.9) scale(1 1.03)">25</text><line x1="128" y1="863.8" x2="137.5" y2="863.8" stroke="#000" stroke-width="3"/><text x="127" y="872.2" font-size="26.5" text-anchor="end" transform="translate(0 -26.2) scale(1 1.03)">20</text><line x1="128" y1="906.3" x2="137.5" y2="906.3" stroke="#000" stroke-width="3"/><text x="127" y="914.7" font-size="26.5" text-anchor="end" transform="translate(0 -27.4) scale(1 1.03)">15</text><line x1="128" y1="948.8" x2="137.5" y2="948.8" stroke="#000" stroke-width="3"/><text x="127" y="957.2" font-size="26.5" text-anchor="end" transform="translate(0 -28.7) scale(1 1.03)">10</text><line x1="128" y1="992.4" x2="146.7" y2="992.4" stroke="#000" stroke-width="3"/><line x1="128" y1="1018.3" x2="146.7" y2="1018.3" stroke="#000" stroke-width="3"/><text x="127" y="1000.6" font-size="26.5" text-anchor="end" transform="translate(0 -30) scale(1 1.03)">5</text><text x="127" y="1026.6" font-size="26.5" text-anchor="end" transform="translate(0 -30.8) scale(1 1.03)">3</text><line x1="128" y1="1125.3" x2="137.5" y2="1125.3" stroke="#000" stroke-width="3"/><text x="127" y="1133.7" font-size="26.5" text-anchor="end" transform="translate(0 -34) scale(1 1.03)">2</text><line x1="128" y1="1232.2" x2="137.5" y2="1232.2" stroke="#000" stroke-width="3"/><text x="127" y="1240.7" font-size="26.5" text-anchor="end" transform="translate(0 -37.2) scale(1 1.03)">1</text><line x1="128" y1="1339.2" x2="137.5" y2="1339.2" stroke="#000" stroke-width="3"/><text x="127" y="1347.6" font-size="26.5" text-anchor="end" transform="translate(0 -40.4) scale(1 1.03)">0</text><line x1="128" y1="1339.2" x2="1337" y2="1339.2" stroke="#000" stroke-width="3"/><text x="88.2" y="1086.5" font-size="33" text-anchor="middle" textLength="130" lengthAdjust="spacingAndGlyphs" transform="rotate(-90 88.2 1086.5)">%ID/gram</text><line x1="183.6" y1="1339.2" x2="183.6" y2="1347.7" stroke="#000" stroke-width="3"/><rect x="155.1" y="1275" width="16.2" height="64.2" fill="#ff2600" stroke="#000" stroke-width="2"/><line x1="163.2" y1="1271.8" x2="163.2" y2="1278.2" stroke="#000" stroke-width="2"/><line x1="157.7" y1="1271.8" x2="168.7" y2="1271.8" stroke="#000" stroke-width="2"/><line x1="157.7" y1="1278.2" x2="168.7" y2="1278.2" stroke="#000" stroke-width="2"/><circle cx="163.2" cy="1268.6" r="4.5" fill="#000"/><circle cx="159.2" cy="1272.9" r="4.5" fill="#000"/><circle cx="167.2" cy="1278.2" r="4.5" fill="#000"/><rect x="175.5" y="1251.5" width="16.2" height="87.7" fill="#0433ff" stroke="#000" stroke-width="2"/><line x1="183.6" y1="1245.1" x2="183.6" y2="1257.9" stroke="#000" stroke-width="2"/><line x1="178.1" y1="1245.1" x2="189.1" y2="1245.1" stroke="#000" stroke-width="2"/><line x1="178.1" y1="1257.9" x2="189.1" y2="1257.9" stroke="#000" stroke-width="2"/><rect x="179" y="1240.5" width="9.2" height="9.2" fill="#000"/><rect x="175" y="1249" width="9.2" height="9.2" fill="#000"/><rect x="183" y="1265.1" width="9.2" height="9.2" fill="#000"/><rect x="195.9" y="1239.7" width="16.2" height="99.5" fill="#008f51" stroke="#000" stroke-width="2"/><line x1="204" y1="1231.2" x2="204" y2="1248.3" stroke="#000" stroke-width="2"/><line x1="198.5" y1="1231.2" x2="209.5" y2="1231.2" stroke="#000" stroke-width="2"/><line x1="198.5" y1="1248.3" x2="209.5" y2="1248.3" stroke="#000" stroke-width="2"/><path d="M204,1211.3 L208.9,1220.6 L199.1,1220.6 Z" fill="#000"/><path d="M200,1238 L204.9,1247.4 L195.1,1247.4 Z" fill="#000"/><path d="M208,1240.2 L212.9,1249.5 L203.1,1249.5 Z" fill="#000"/><path d="M204,1244.5 L208.9,1253.8 L199.1,1253.8 Z" fill="#000"/><text x="188.6" y="1366.2" font-size="25" text-anchor="end" transform="rotate(-45 188.6 1366.2)">blood</text><line x1="262.8" y1="1339.2" x2="262.8" y2="1347.7" stroke="#000" stroke-width="3"/><rect x="234.3" y="1262.2" width="16.2" height="77" fill="#ff2600" stroke="#000" stroke-width="2"/><line x1="242.4" y1="1259" x2="242.4" y2="1265.4" stroke="#000" stroke-width="2"/><line x1="236.9" y1="1259" x2="247.9" y2="1259" stroke="#000" stroke-width="2"/><line x1="236.9" y1="1265.4" x2="247.9" y2="1265.4" stroke="#000" stroke-width="2"/><circle cx="242.4" cy="1255.8" r="4.5" fill="#000"/><circle cx="238.4" cy="1260.1" r="4.5" fill="#000"/><circle cx="246.4" cy="1275" r="4.5" fill="#000"/><rect x="254.7" y="1253.6" width="16.2" height="85.6" fill="#0433ff" stroke="#000" stroke-width="2"/><line x1="262.8" y1="1249.4" x2="262.8" y2="1257.9" stroke="#000" stroke-width="2"/><line x1="257.3" y1="1249.4" x2="268.3" y2="1249.4" stroke="#000" stroke-width="2"/><line x1="257.3" y1="1257.9" x2="268.3" y2="1257.9" stroke="#000" stroke-width="2"/><rect x="258.2" y="1245.8" width="9.2" height="9.2" fill="#000"/><rect x="254.2" y="1246.9" width="9.2" height="9.2" fill="#000"/><rect x="262.2" y="1259.7" width="9.2" height="9.2" fill="#000"/><rect x="275.1" y="1237.6" width="16.2" height="101.6" fill="#008f51" stroke="#000" stroke-width="2"/><line x1="283.2" y1="1230.1" x2="283.2" y2="1245.1" stroke="#000" stroke-width="2"/><line x1="277.7" y1="1230.1" x2="288.7" y2="1230.1" stroke="#000" stroke-width="2"/><line x1="277.7" y1="1245.1" x2="288.7" y2="1245.1" stroke="#000" stroke-width="2"/><path d="M283.2,1211.3 L288.1,1220.6 L278.3,1220.6 Z" fill="#000"/><path d="M279.2,1235.9 L284.1,1245.2 L274.3,1245.2 Z" fill="#000"/><path d="M287.2,1240.2 L292.1,1249.5 L282.3,1249.5 Z" fill="#000"/><path d="M283.2,1243.4 L288.1,1252.7 L278.3,1252.7 Z" fill="#000"/><text x="267.8" y="1366.2" font-size="25" text-anchor="end" transform="rotate(-45 267.8 1366.2)">lung</text><line x1="342" y1="1339.2" x2="342" y2="1347.7" stroke="#000" stroke-width="3"/><rect x="313.5" y="1140.3" width="16.2" height="198.9" fill="#ff2600" stroke="#000" stroke-width="2"/><line x1="321.6" y1="1123.2" x2="321.6" y2="1157.4" stroke="#000" stroke-width="2"/><line x1="316.1" y1="1123.2" x2="327.1" y2="1123.2" stroke="#000" stroke-width="2"/><line x1="316.1" y1="1157.4" x2="327.1" y2="1157.4" stroke="#000" stroke-width="2"/><circle cx="321.6" cy="1112.5" r="4.5" fill="#000"/><circle cx="317.6" cy="1112.5" r="4.5" fill="#000"/><circle cx="325.6" cy="1149.9" r="4.5" fill="#000"/><circle cx="321.6" cy="1182" r="4.5" fill="#000"/><rect x="333.9" y="1096.4" width="16.2" height="242.8" fill="#0433ff" stroke="#000" stroke-width="2"/><line x1="342" y1="1080.4" x2="342" y2="1112.5" stroke="#000" stroke-width="2"/><line x1="336.5" y1="1080.4" x2="347.5" y2="1080.4" stroke="#000" stroke-width="2"/><line x1="336.5" y1="1112.5" x2="347.5" y2="1112.5" stroke="#000" stroke-width="2"/><rect x="337.4" y="1045.8" width="9.2" height="9.2" fill="#000"/><rect x="333.4" y="1097.2" width="9.2" height="9.2" fill="#000"/><rect x="341.4" y="1101.4" width="9.2" height="9.2" fill="#000"/><rect x="337.4" y="1118.6" width="9.2" height="9.2" fill="#000"/><rect x="354.3" y="1125.3" width="16.2" height="213.9" fill="#008f51" stroke="#000" stroke-width="2"/><line x1="362.4" y1="1120" x2="362.4" y2="1130.6" stroke="#000" stroke-width="2"/><line x1="356.9" y1="1120" x2="367.9" y2="1120" stroke="#000" stroke-width="2"/><line x1="356.9" y1="1130.6" x2="367.9" y2="1130.6" stroke="#000" stroke-width="2"/><path d="M362.4,1103.3 L367.3,1112.6 L357.5,1112.6 Z" fill="#000"/><path d="M358.4,1112.9 L363.3,1122.2 L353.5,1122.2 Z" fill="#000"/><path d="M366.4,1127.9 L371.3,1137.2 L361.5,1137.2 Z" fill="#000"/><path d="M362.4,1127.9 L367.3,1137.2 L357.5,1137.2 Z" fill="#000"/><text x="347" y="1366.2" font-size="25" text-anchor="end" transform="rotate(-45 347 1366.2)">liver</text><line x1="421.2" y1="1339.2" x2="421.2" y2="1347.7" stroke="#000" stroke-width="3"/><rect x="392.7" y="1294.3" width="16.2" height="44.9" fill="#ff2600" stroke="#000" stroke-width="2"/><line x1="400.8" y1="1291.1" x2="400.8" y2="1297.5" stroke="#000" stroke-width="2"/><line x1="395.3" y1="1291.1" x2="406.3" y2="1291.1" stroke="#000" stroke-width="2"/><line x1="395.3" y1="1297.5" x2="406.3" y2="1297.5" stroke="#000" stroke-width="2"/><circle cx="400.8" cy="1283.6" r="4.5" fill="#000"/><circle cx="396.8" cy="1288.9" r="4.5" fill="#000"/><circle cx="404.8" cy="1294.3" r="4.5" fill="#000"/><circle cx="400.8" cy="1298.6" r="4.5" fill="#000"/><rect x="413.1" y="1291.1" width="16.2" height="48.1" fill="#0433ff" stroke="#000" stroke-width="2"/><line x1="421.2" y1="1286.8" x2="421.2" y2="1295.4" stroke="#000" stroke-width="2"/><line x1="415.7" y1="1286.8" x2="426.7" y2="1286.8" stroke="#000" stroke-width="2"/><line x1="415.7" y1="1295.4" x2="426.7" y2="1295.4" stroke="#000" stroke-width="2"/><rect x="416.6" y="1281.1" width="9.2" height="9.2" fill="#000"/><rect x="412.6" y="1283.3" width="9.2" height="9.2" fill="#000"/><rect x="420.6" y="1285.4" width="9.2" height="9.2" fill="#000"/><rect x="416.6" y="1299.3" width="9.2" height="9.2" fill="#000"/><rect x="433.5" y="1282.5" width="16.2" height="56.7" fill="#008f51" stroke="#000" stroke-width="2"/><line x1="441.6" y1="1277.2" x2="441.6" y2="1287.9" stroke="#000" stroke-width="2"/><line x1="436.1" y1="1277.2" x2="447.1" y2="1277.2" stroke="#000" stroke-width="2"/><line x1="436.1" y1="1287.9" x2="447.1" y2="1287.9" stroke="#000" stroke-width="2"/><path d="M441.6,1258.4 L446.5,1267.7 L436.7,1267.7 Z" fill="#000"/><path d="M437.6,1280.8 L442.5,1290.1 L432.7,1290.1 Z" fill="#000"/><path d="M445.6,1284 L450.5,1293.3 L440.7,1293.3 Z" fill="#000"/><path d="M441.6,1285.1 L446.5,1294.4 L436.7,1294.4 Z" fill="#000"/><text x="426.2" y="1366.2" font-size="25" text-anchor="end" transform="rotate(-45 426.2 1366.2)">spleen</text><line x1="500.4" y1="1339.2" x2="500.4" y2="1347.7" stroke="#000" stroke-width="3"/><rect x="471.9" y="1018.3" width="16.2" height="320.9" fill="#ff2600" stroke="#000" stroke-width="2"/><rect x="471.9" y="959" width="16.2" height="33.4" fill="#ff2600" stroke="#000" stroke-width="2"/><line x1="480" y1="942" x2="480" y2="959" stroke="#000" stroke-width="2"/><line x1="474.5" y1="942" x2="485.5" y2="942" stroke="#000" stroke-width="2"/><circle cx="480" cy="908.8" r="4.5" fill="#000"/><circle cx="476" cy="961.5" r="4.5" fill="#000"/><circle cx="484" cy="974.3" r="4.5" fill="#000"/><circle cx="480" cy="987" r="4.5" fill="#000"/><rect x="492.3" y="1018.3" width="16.2" height="320.9" fill="#0433ff" stroke="#000" stroke-width="2"/><rect x="492.3" y="927.5" width="16.2" height="64.9" fill="#0433ff" stroke="#000" stroke-width="2"/><line x1="500.4" y1="912.2" x2="500.4" y2="927.5" stroke="#000" stroke-width="2"/><line x1="494.9" y1="912.2" x2="505.9" y2="912.2" stroke="#000" stroke-width="2"/><rect x="495.8" y="894.9" width="9.2" height="9.2" fill="#000"/><rect x="491.8" y="899.1" width="9.2" height="9.2" fill="#000"/><rect x="499.8" y="944.2" width="9.2" height="9.2" fill="#000"/><rect x="495.8" y="954.4" width="9.2" height="9.2" fill="#000"/><rect x="512.7" y="1018.3" width="16.2" height="320.9" fill="#008f51" stroke="#000" stroke-width="2"/><rect x="512.7" y="917.3" width="16.2" height="75.1" fill="#008f51" stroke="#000" stroke-width="2"/><line x1="520.8" y1="888.4" x2="520.8" y2="917.3" stroke="#000" stroke-width="2"/><line x1="515.3" y1="888.4" x2="526.3" y2="888.4" stroke="#000" stroke-width="2"/><path d="M520.8,833.4 L525.7,842.7 L515.9,842.7 Z" fill="#000"/><path d="M516.8,922.6 L521.7,932 L511.9,932 Z" fill="#000"/><path d="M524.8,926.9 L529.7,936.2 L519.9,936.2 Z" fill="#000"/><path d="M520.8,969.4 L525.7,978.7 L515.9,978.7 Z" fill="#000"/><text x="505.4" y="1366.2" font-size="25" text-anchor="end" transform="rotate(-45 505.4 1366.2)">kidney</text><line x1="579.6" y1="1339.2" x2="579.6" y2="1347.7" stroke="#000" stroke-width="3"/><rect x="551.1" y="1283.6" width="16.2" height="55.6" fill="#ff2600" stroke="#000" stroke-width="2"/><line x1="559.2" y1="1281.4" x2="559.2" y2="1285.7" stroke="#000" stroke-width="2"/><line x1="553.7" y1="1281.4" x2="564.7" y2="1281.4" stroke="#000" stroke-width="2"/><line x1="553.7" y1="1285.7" x2="564.7" y2="1285.7" stroke="#000" stroke-width="2"/><circle cx="559.2" cy="1277.2" r="4.5" fill="#000"/><circle cx="555.2" cy="1280.4" r="4.5" fill="#000"/><circle cx="563.2" cy="1285.7" r="4.5" fill="#000"/><circle cx="559.2" cy="1291.1" r="4.5" fill="#000"/><rect x="571.5" y="1283.6" width="16.2" height="55.6" fill="#0433ff" stroke="#000" stroke-width="2"/><line x1="579.6" y1="1278.2" x2="579.6" y2="1288.9" stroke="#000" stroke-width="2"/><line x1="574.1" y1="1278.2" x2="585.1" y2="1278.2" stroke="#000" stroke-width="2"/><line x1="574.1" y1="1288.9" x2="585.1" y2="1288.9" stroke="#000" stroke-width="2"/><rect x="575" y="1264" width="9.2" height="9.2" fill="#000"/><rect x="571" y="1270.4" width="9.2" height="9.2" fill="#000"/><rect x="579" y="1286.5" width="9.2" height="9.2" fill="#000"/><rect x="575" y="1289.7" width="9.2" height="9.2" fill="#000"/><rect x="591.9" y="1255.8" width="16.2" height="83.4" fill="#008f51" stroke="#000" stroke-width="2"/><line x1="600" y1="1248.3" x2="600" y2="1263.3" stroke="#000" stroke-width="2"/><line x1="594.5" y1="1248.3" x2="605.5" y2="1248.3" stroke="#000" stroke-width="2"/><line x1="594.5" y1="1263.3" x2="605.5" y2="1263.3" stroke="#000" stroke-width="2"/><path d="M600,1227.3 L604.9,1236.7 L595.1,1236.7 Z" fill="#000"/><path d="M596,1248.7 L600.9,1258.1 L591.1,1258.1 Z" fill="#000"/><path d="M604,1254.1 L608.9,1263.4 L599.1,1263.4 Z" fill="#000"/><path d="M600,1256.2 L604.9,1265.5 L595.1,1265.5 Z" fill="#000"/><text x="584.6" y="1366.2" font-size="25" text-anchor="end" transform="rotate(-45 584.6 1366.2)">muscle</text><line x1="658.8" y1="1339.2" x2="658.8" y2="1347.7" stroke="#000" stroke-width="3"/><rect x="630.3" y="1277.2" width="16.2" height="62" fill="#ff2600" stroke="#000" stroke-width="2"/><line x1="638.4" y1="1269.7" x2="638.4" y2="1284.7" stroke="#000" stroke-width="2"/><line x1="632.9" y1="1269.7" x2="643.9" y2="1269.7" stroke="#000" stroke-width="2"/><line x1="632.9" y1="1284.7" x2="643.9" y2="1284.7" stroke="#000" stroke-width="2"/><circle cx="638.4" cy="1252.6" r="4.5" fill="#000"/><circle cx="634.4" cy="1277.2" r="4.5" fill="#000"/><circle cx="642.4" cy="1280.4" r="4.5" fill="#000"/><circle cx="638.4" cy="1290" r="4.5" fill="#000"/><rect x="650.7" y="1293.2" width="16.2" height="46" fill="#0433ff" stroke="#000" stroke-width="2"/><line x1="658.8" y1="1286.8" x2="658.8" y2="1299.6" stroke="#000" stroke-width="2"/><line x1="653.3" y1="1286.8" x2="664.3" y2="1286.8" stroke="#000" stroke-width="2"/><line x1="653.3" y1="1299.6" x2="664.3" y2="1299.6" stroke="#000" stroke-width="2"/><rect x="654.2" y="1279" width="9.2" height="9.2" fill="#000"/><rect x="650.2" y="1279" width="9.2" height="9.2" fill="#000"/><rect x="658.2" y="1289.7" width="9.2" height="9.2" fill="#000"/><rect x="654.2" y="1307.9" width="9.2" height="9.2" fill="#000"/><rect x="671.1" y="1285.7" width="16.2" height="53.5" fill="#008f51" stroke="#000" stroke-width="2"/><line x1="679.2" y1="1283.6" x2="679.2" y2="1287.9" stroke="#000" stroke-width="2"/><line x1="673.7" y1="1283.6" x2="684.7" y2="1283.6" stroke="#000" stroke-width="2"/><line x1="673.7" y1="1287.9" x2="684.7" y2="1287.9" stroke="#000" stroke-width="2"/><path d="M679.2,1277.6 L684.1,1286.9 L674.3,1286.9 Z" fill="#000"/><path d="M675.2,1279.7 L680.1,1289.1 L670.3,1289.1 Z" fill="#000"/><path d="M683.2,1281.9 L688.1,1291.2 L678.3,1291.2 Z" fill="#000"/><path d="M679.2,1288.3 L684.1,1297.6 L674.3,1297.6 Z" fill="#000"/><text x="663.8" y="1366.2" font-size="25" text-anchor="end" transform="rotate(-45 663.8 1366.2)">fat</text><line x1="738" y1="1339.2" x2="738" y2="1347.7" stroke="#000" stroke-width="3"/><rect x="709.5" y="1287.9" width="16.2" height="51.3" fill="#ff2600" stroke="#000" stroke-width="2"/><line x1="717.6" y1="1284.7" x2="717.6" y2="1291.1" stroke="#000" stroke-width="2"/><line x1="712.1" y1="1284.7" x2="723.1" y2="1284.7" stroke="#000" stroke-width="2"/><line x1="712.1" y1="1291.1" x2="723.1" y2="1291.1" stroke="#000" stroke-width="2"/><circle cx="717.6" cy="1282.5" r="4.5" fill="#000"/><circle cx="713.6" cy="1287.9" r="4.5" fill="#000"/><circle cx="721.6" cy="1292.1" r="4.5" fill="#000"/><circle cx="717.6" cy="1298.6" r="4.5" fill="#000"/><rect x="729.9" y="1285.7" width="16.2" height="53.5" fill="#0433ff" stroke="#000" stroke-width="2"/><line x1="738" y1="1282.5" x2="738" y2="1288.9" stroke="#000" stroke-width="2"/><line x1="732.5" y1="1282.5" x2="743.5" y2="1282.5" stroke="#000" stroke-width="2"/><line x1="732.5" y1="1288.9" x2="743.5" y2="1288.9" stroke="#000" stroke-width="2"/><rect x="733.4" y="1274.7" width="9.2" height="9.2" fill="#000"/><rect x="729.4" y="1280.1" width="9.2" height="9.2" fill="#000"/><rect x="737.4" y="1282.2" width="9.2" height="9.2" fill="#000"/><rect x="733.4" y="1288.6" width="9.2" height="9.2" fill="#000"/><rect x="750.3" y="1285.7" width="16.2" height="53.5" fill="#008f51" stroke="#000" stroke-width="2"/><line x1="758.4" y1="1280.4" x2="758.4" y2="1291.1" stroke="#000" stroke-width="2"/><line x1="752.9" y1="1280.4" x2="763.9" y2="1280.4" stroke="#000" stroke-width="2"/><line x1="752.9" y1="1291.1" x2="763.9" y2="1291.1" stroke="#000" stroke-width="2"/><path d="M758.4,1266.9 L763.3,1276.2 L753.5,1276.2 Z" fill="#000"/><path d="M754.4,1280.8 L759.3,1290.1 L749.5,1290.1 Z" fill="#000"/><path d="M762.4,1284 L767.3,1293.3 L757.5,1293.3 Z" fill="#000"/><path d="M758.4,1286.2 L763.3,1295.5 L753.5,1295.5 Z" fill="#000"/><text x="743" y="1366.2" font-size="25" text-anchor="end" transform="rotate(-45 743 1366.2)">heart</text><line x1="817.2" y1="1339.2" x2="817.2" y2="1347.7" stroke="#000" stroke-width="3"/><rect x="788.7" y="1332.8" width="16.2" height="6.4" fill="#ff2600" stroke="#000" stroke-width="2"/><line x1="796.8" y1="1331.7" x2="796.8" y2="1333.9" stroke="#000" stroke-width="2"/><line x1="791.3" y1="1331.7" x2="802.3" y2="1331.7" stroke="#000" stroke-width="2"/><line x1="791.3" y1="1333.9" x2="802.3" y2="1333.9" stroke="#000" stroke-width="2"/><circle cx="796.8" cy="1331.7" r="4.5" fill="#000"/><circle cx="792.8" cy="1331.7" r="4.5" fill="#000"/><circle cx="800.8" cy="1332.8" r="4.5" fill="#000"/><circle cx="796.8" cy="1333.9" r="4.5" fill="#000"/><rect x="809.1" y="1331.7" width="16.2" height="7.5" fill="#0433ff" stroke="#000" stroke-width="2"/><line x1="817.2" y1="1330.6" x2="817.2" y2="1332.8" stroke="#000" stroke-width="2"/><line x1="811.7" y1="1330.6" x2="822.7" y2="1330.6" stroke="#000" stroke-width="2"/><line x1="811.7" y1="1332.8" x2="822.7" y2="1332.8" stroke="#000" stroke-width="2"/><rect x="812.6" y="1326" width="9.2" height="9.2" fill="#000"/><rect x="808.6" y="1326" width="9.2" height="9.2" fill="#000"/><rect x="816.6" y="1327.1" width="9.2" height="9.2" fill="#000"/><rect x="812.6" y="1328.2" width="9.2" height="9.2" fill="#000"/><rect x="829.5" y="1332.8" width="16.2" height="6.4" fill="#008f51" stroke="#000" stroke-width="2"/><line x1="837.6" y1="1331.7" x2="837.6" y2="1333.9" stroke="#000" stroke-width="2"/><line x1="832.1" y1="1331.7" x2="843.1" y2="1331.7" stroke="#000" stroke-width="2"/><line x1="832.1" y1="1333.9" x2="843.1" y2="1333.9" stroke="#000" stroke-width="2"/><path d="M837.6,1324.7 L842.5,1334 L832.7,1334 Z" fill="#000"/><path d="M833.6,1325.7 L838.5,1335.1 L828.7,1335.1 Z" fill="#000"/><path d="M841.6,1327.9 L846.5,1337.2 L836.7,1337.2 Z" fill="#000"/><path d="M837.6,1328.9 L842.5,1338.3 L832.7,1338.3 Z" fill="#000"/><text x="822.2" y="1366.2" font-size="25" text-anchor="end" transform="rotate(-45 822.2 1366.2)">brain</text><line x1="896.4" y1="1339.2" x2="896.4" y2="1347.7" stroke="#000" stroke-width="3"/><rect x="867.9" y="1312.5" width="16.2" height="26.7" fill="#ff2600" stroke="#000" stroke-width="2"/><line x1="876" y1="1308.2" x2="876" y2="1316.7" stroke="#000" stroke-width="2"/><line x1="870.5" y1="1308.2" x2="881.5" y2="1308.2" stroke="#000" stroke-width="2"/><line x1="870.5" y1="1316.7" x2="881.5" y2="1316.7" stroke="#000" stroke-width="2"/><circle cx="876" cy="1299.6" r="4.5" fill="#000"/><circle cx="872" cy="1310.3" r="4.5" fill="#000"/><circle cx="880" cy="1313.5" r="4.5" fill="#000"/><circle cx="876" cy="1317.8" r="4.5" fill="#000"/><rect x="888.3" y="1315.7" width="16.2" height="23.5" fill="#0433ff" stroke="#000" stroke-width="2"/><line x1="896.4" y1="1312.5" x2="896.4" y2="1318.9" stroke="#000" stroke-width="2"/><line x1="890.9" y1="1312.5" x2="901.9" y2="1312.5" stroke="#000" stroke-width="2"/><line x1="890.9" y1="1318.9" x2="901.9" y2="1318.9" stroke="#000" stroke-width="2"/><rect x="891.8" y="1302.5" width="9.2" height="9.2" fill="#000"/><rect x="887.8" y="1305.7" width="9.2" height="9.2" fill="#000"/><rect x="895.8" y="1307.9" width="9.2" height="9.2" fill="#000"/><rect x="891.8" y="1315.3" width="9.2" height="9.2" fill="#000"/><rect x="908.7" y="1309.3" width="16.2" height="29.9" fill="#008f51" stroke="#000" stroke-width="2"/><line x1="916.8" y1="1307.1" x2="916.8" y2="1311.4" stroke="#000" stroke-width="2"/><line x1="911.3" y1="1307.1" x2="922.3" y2="1307.1" stroke="#000" stroke-width="2"/><line x1="911.3" y1="1311.4" x2="922.3" y2="1311.4" stroke="#000" stroke-width="2"/><path d="M916.8,1299 L921.7,1308.3 L911.9,1308.3 Z" fill="#000"/><path d="M912.8,1301.1 L917.7,1310.5 L907.9,1310.5 Z" fill="#000"/><path d="M920.8,1303.3 L925.7,1312.6 L915.9,1312.6 Z" fill="#000"/><path d="M916.8,1308.6 L921.7,1317.9 L911.9,1317.9 Z" fill="#000"/><text x="901.4" y="1366.2" font-size="25" text-anchor="end" transform="rotate(-45 901.4 1366.2)">bone</text><line x1="975.6" y1="1339.2" x2="975.6" y2="1347.7" stroke="#000" stroke-width="3"/><rect x="947.1" y="1280.4" width="16.2" height="58.8" fill="#ff2600" stroke="#000" stroke-width="2"/><line x1="955.2" y1="1277.2" x2="955.2" y2="1283.6" stroke="#000" stroke-width="2"/><line x1="949.7" y1="1277.2" x2="960.7" y2="1277.2" stroke="#000" stroke-width="2"/><line x1="949.7" y1="1283.6" x2="960.7" y2="1283.6" stroke="#000" stroke-width="2"/><circle cx="955.2" cy="1272.9" r="4.5" fill="#000"/><circle cx="951.2" cy="1277.2" r="4.5" fill="#000"/><circle cx="959.2" cy="1280.4" r="4.5" fill="#000"/><circle cx="955.2" cy="1283.6" r="4.5" fill="#000"/><rect x="967.5" y="1285.7" width="16.2" height="53.5" fill="#0433ff" stroke="#000" stroke-width="2"/><line x1="975.6" y1="1282.5" x2="975.6" y2="1288.9" stroke="#000" stroke-width="2"/><line x1="970.1" y1="1282.5" x2="981.1" y2="1282.5" stroke="#000" stroke-width="2"/><line x1="970.1" y1="1288.9" x2="981.1" y2="1288.9" stroke="#000" stroke-width="2"/><rect x="971" y="1272.6" width="9.2" height="9.2" fill="#000"/><rect x="967" y="1276.8" width="9.2" height="9.2" fill="#000"/><rect x="975" y="1281.1" width="9.2" height="9.2" fill="#000"/><rect x="971" y="1286.5" width="9.2" height="9.2" fill="#000"/><rect x="987.9" y="1245.1" width="16.2" height="94.1" fill="#008f51" stroke="#000" stroke-width="2"/><line x1="996" y1="1237.6" x2="996" y2="1252.6" stroke="#000" stroke-width="2"/><line x1="990.5" y1="1237.6" x2="1001.5" y2="1237.6" stroke="#000" stroke-width="2"/><line x1="990.5" y1="1252.6" x2="1001.5" y2="1252.6" stroke="#000" stroke-width="2"/><path d="M996,1222 L1000.9,1231.3 L991.1,1231.3 Z" fill="#000"/><path d="M992,1220.9 L996.9,1230.2 L987.1,1230.2 Z" fill="#000"/><path d="M1000,1254.1 L1004.9,1263.4 L995.1,1263.4 Z" fill="#000"/><path d="M996,1256.2 L1000.9,1265.5 L991.1,1265.5 Z" fill="#000"/><text x="980.6" y="1366.2" font-size="25" text-anchor="end" transform="rotate(-45 980.6 1366.2)">marrow</text><line x1="1054.8" y1="1339.2" x2="1054.8" y2="1347.7" stroke="#000" stroke-width="3"/><rect x="1026.3" y="1275" width="16.2" height="64.2" fill="#ff2600" stroke="#000" stroke-width="2"/><line x1="1034.4" y1="1271.8" x2="1034.4" y2="1278.2" stroke="#000" stroke-width="2"/><line x1="1028.9" y1="1271.8" x2="1039.9" y2="1271.8" stroke="#000" stroke-width="2"/><line x1="1028.9" y1="1278.2" x2="1039.9" y2="1278.2" stroke="#000" stroke-width="2"/><circle cx="1034.4" cy="1267.5" r="4.5" fill="#000"/><circle cx="1030.4" cy="1272.9" r="4.5" fill="#000"/><circle cx="1038.4" cy="1280.4" r="4.5" fill="#000"/><rect x="1046.7" y="1271.8" width="16.2" height="67.4" fill="#0433ff" stroke="#000" stroke-width="2"/><line x1="1054.8" y1="1268.6" x2="1054.8" y2="1275" stroke="#000" stroke-width="2"/><line x1="1049.3" y1="1268.6" x2="1060.3" y2="1268.6" stroke="#000" stroke-width="2"/><line x1="1049.3" y1="1275" x2="1060.3" y2="1275" stroke="#000" stroke-width="2"/><rect x="1050.2" y="1259.7" width="9.2" height="9.2" fill="#000"/><rect x="1046.2" y="1260.8" width="9.2" height="9.2" fill="#000"/><rect x="1054.2" y="1267.2" width="9.2" height="9.2" fill="#000"/><rect x="1050.2" y="1270.4" width="9.2" height="9.2" fill="#000"/><rect x="1067.1" y="1261.1" width="16.2" height="78.1" fill="#008f51" stroke="#000" stroke-width="2"/><line x1="1075.2" y1="1254.7" x2="1075.2" y2="1267.5" stroke="#000" stroke-width="2"/><line x1="1069.7" y1="1254.7" x2="1080.7" y2="1254.7" stroke="#000" stroke-width="2"/><line x1="1069.7" y1="1267.5" x2="1080.7" y2="1267.5" stroke="#000" stroke-width="2"/><path d="M1075.2,1235.9 L1080.1,1245.2 L1070.3,1245.2 Z" fill="#000"/><path d="M1071.2,1262.6 L1076.1,1272 L1066.3,1272 Z" fill="#000"/><path d="M1079.2,1264.8 L1084.1,1274.1 L1074.3,1274.1 Z" fill="#000"/><path d="M1075.2,1266.9 L1080.1,1276.2 L1070.3,1276.2 Z" fill="#000"/><text x="1059.8" y="1366.2" font-size="25" text-anchor="end" transform="rotate(-45 1059.8 1366.2)">pancreas</text><line x1="1134" y1="1339.2" x2="1134" y2="1347.7" stroke="#000" stroke-width="3"/><rect x="1105.5" y="1283.6" width="16.2" height="55.6" fill="#ff2600" stroke="#000" stroke-width="2"/><line x1="1113.6" y1="1267.5" x2="1113.6" y2="1299.6" stroke="#000" stroke-width="2"/><line x1="1108.1" y1="1267.5" x2="1119.1" y2="1267.5" stroke="#000" stroke-width="2"/><line x1="1108.1" y1="1299.6" x2="1119.1" y2="1299.6" stroke="#000" stroke-width="2"/><circle cx="1113.6" cy="1237.6" r="4.5" fill="#000"/><circle cx="1109.6" cy="1287.9" r="4.5" fill="#000"/><circle cx="1117.6" cy="1311.4" r="4.5" fill="#000"/><circle cx="1113.6" cy="1317.8" r="4.5" fill="#000"/><rect x="1125.9" y="1255.8" width="16.2" height="83.4" fill="#0433ff" stroke="#000" stroke-width="2"/><line x1="1134" y1="1249.4" x2="1134" y2="1262.2" stroke="#000" stroke-width="2"/><line x1="1128.5" y1="1249.4" x2="1139.5" y2="1249.4" stroke="#000" stroke-width="2"/><line x1="1128.5" y1="1262.2" x2="1139.5" y2="1262.2" stroke="#000" stroke-width="2"/><rect x="1129.4" y="1234.1" width="9.2" height="9.2" fill="#000"/><rect x="1125.4" y="1249" width="9.2" height="9.2" fill="#000"/><rect x="1133.4" y="1253.3" width="9.2" height="9.2" fill="#000"/><rect x="1129.4" y="1259.7" width="9.2" height="9.2" fill="#000"/><rect x="1146.3" y="1194.8" width="16.2" height="144.4" fill="#008f51" stroke="#000" stroke-width="2"/><line x1="1154.4" y1="1159.5" x2="1154.4" y2="1230.1" stroke="#000" stroke-width="2"/><line x1="1148.9" y1="1159.5" x2="1159.9" y2="1159.5" stroke="#000" stroke-width="2"/><line x1="1148.9" y1="1230.1" x2="1159.9" y2="1230.1" stroke="#000" stroke-width="2"/><path d="M1154.4,1097.9 L1159.3,1107.3 L1149.5,1107.3 Z" fill="#000"/><path d="M1150.4,1182.4 L1155.3,1191.7 L1145.5,1191.7 Z" fill="#000"/><path d="M1158.4,1240.2 L1163.3,1249.5 L1153.5,1249.5 Z" fill="#000"/><path d="M1154.4,1248.7 L1159.3,1258.1 L1149.5,1258.1 Z" fill="#000"/><text x="1139" y="1366.2" font-size="25" text-anchor="end" transform="rotate(-45 1139 1366.2)">stomach</text><line x1="1213.2" y1="1339.2" x2="1213.2" y2="1347.7" stroke="#000" stroke-width="3"/><rect x="1184.7" y="1234.4" width="16.2" height="104.8" fill="#ff2600" stroke="#000" stroke-width="2"/><line x1="1192.8" y1="1223.7" x2="1192.8" y2="1245.1" stroke="#000" stroke-width="2"/><line x1="1187.3" y1="1223.7" x2="1198.3" y2="1223.7" stroke="#000" stroke-width="2"/><line x1="1187.3" y1="1245.1" x2="1198.3" y2="1245.1" stroke="#000" stroke-width="2"/><circle cx="1192.8" cy="1210.9" r="4.5" fill="#000"/><circle cx="1188.8" cy="1245.1" r="4.5" fill="#000"/><circle cx="1196.8" cy="1249.4" r="4.5" fill="#000"/><circle cx="1192.8" cy="1255.8" r="4.5" fill="#000"/><rect x="1205.1" y="1208.7" width="16.2" height="130.5" fill="#0433ff" stroke="#000" stroke-width="2"/><line x1="1213.2" y1="1204.4" x2="1213.2" y2="1213" stroke="#000" stroke-width="2"/><line x1="1207.7" y1="1204.4" x2="1218.7" y2="1204.4" stroke="#000" stroke-width="2"/><line x1="1207.7" y1="1213" x2="1218.7" y2="1213" stroke="#000" stroke-width="2"/><rect x="1208.6" y="1199.8" width="9.2" height="9.2" fill="#000"/><rect x="1204.6" y="1200.9" width="9.2" height="9.2" fill="#000"/><rect x="1212.6" y="1202" width="9.2" height="9.2" fill="#000"/><rect x="1208.6" y="1227.7" width="9.2" height="9.2" fill="#000"/><rect x="1225.5" y="1202.3" width="16.2" height="136.9" fill="#008f51" stroke="#000" stroke-width="2"/><line x1="1233.6" y1="1191.6" x2="1233.6" y2="1213" stroke="#000" stroke-width="2"/><line x1="1228.1" y1="1191.6" x2="1239.1" y2="1191.6" stroke="#000" stroke-width="2"/><line x1="1228.1" y1="1213" x2="1239.1" y2="1213" stroke="#000" stroke-width="2"/><path d="M1233.6,1158.9 L1238.5,1168.2 L1228.7,1168.2 Z" fill="#000"/><path d="M1229.6,1188.8 L1234.5,1198.2 L1224.7,1198.2 Z" fill="#000"/><path d="M1237.6,1208.1 L1242.5,1217.4 L1232.7,1217.4 Z" fill="#000"/><path d="M1233.6,1229.5 L1238.5,1238.8 L1228.7,1238.8 Z" fill="#000"/><text x="1218.2" y="1366.2" font-size="25" text-anchor="end" transform="rotate(-45 1218.2 1366.2)">intestines</text><line x1="1292.4" y1="1339.2" x2="1292.4" y2="1347.7" stroke="#000" stroke-width="3"/><rect x="1263.9" y="1208.7" width="16.2" height="130.5" fill="#ff2600" stroke="#000" stroke-width="2"/><line x1="1272" y1="1205.5" x2="1272" y2="1211.9" stroke="#000" stroke-width="2"/><line x1="1266.5" y1="1205.5" x2="1277.5" y2="1205.5" stroke="#000" stroke-width="2"/><line x1="1266.5" y1="1211.9" x2="1277.5" y2="1211.9" stroke="#000" stroke-width="2"/><circle cx="1272" cy="1202.3" r="4.5" fill="#000"/><circle cx="1268" cy="1204.4" r="4.5" fill="#000"/><circle cx="1276" cy="1210.9" r="4.5" fill="#000"/><circle cx="1272" cy="1221.6" r="4.5" fill="#000"/><rect x="1284.3" y="1253.6" width="16.2" height="85.6" fill="#0433ff" stroke="#000" stroke-width="2"/><line x1="1292.4" y1="1250.4" x2="1292.4" y2="1256.8" stroke="#000" stroke-width="2"/><line x1="1286.9" y1="1250.4" x2="1297.9" y2="1250.4" stroke="#000" stroke-width="2"/><line x1="1286.9" y1="1256.8" x2="1297.9" y2="1256.8" stroke="#000" stroke-width="2"/><rect x="1287.8" y="1241.6" width="9.2" height="9.2" fill="#000"/><rect x="1283.8" y="1248" width="9.2" height="9.2" fill="#000"/><rect x="1291.8" y="1249" width="9.2" height="9.2" fill="#000"/><rect x="1287.8" y="1251.2" width="9.2" height="9.2" fill="#000"/><rect x="1304.7" y="1259" width="16.2" height="80.2" fill="#008f51" stroke="#000" stroke-width="2"/><line x1="1312.8" y1="1251.5" x2="1312.8" y2="1266.5" stroke="#000" stroke-width="2"/><line x1="1307.3" y1="1251.5" x2="1318.3" y2="1251.5" stroke="#000" stroke-width="2"/><line x1="1307.3" y1="1266.5" x2="1318.3" y2="1266.5" stroke="#000" stroke-width="2"/><path d="M1312.8,1239.1 L1317.7,1248.4 L1307.9,1248.4 Z" fill="#000"/><path d="M1308.8,1240.2 L1313.7,1249.5 L1303.9,1249.5 Z" fill="#000"/><path d="M1316.8,1265.8 L1321.7,1275.2 L1311.9,1275.2 Z" fill="#000"/><path d="M1312.8,1266.9 L1317.7,1276.2 L1307.9,1276.2 Z" fill="#000"/><text x="1297.4" y="1366.2" font-size="25" text-anchor="end" transform="rotate(-45 1297.4 1366.2)">brown fat</text><line x1="1272.5" y1="1188" x2="1289.6" y2="1188" stroke="#000" stroke-width="2.9" stroke-linecap="round"/><line x1="1272.5" y1="1158.3" x2="1312.2" y2="1158.3" stroke="#000" stroke-width="2.9" stroke-linecap="round"/><text x="1269.3" y="1191.7" font-size="24.5" font-weight="bold" text-anchor="middle" transform="translate(1269.3 0) scale(0.998 1) translate(-1269.3 0)">*</text><text x="1281.3" y="1191.7" font-size="24.5" font-weight="bold" text-anchor="middle" transform="translate(1281.3 0) scale(0.998 1) translate(-1281.3 0)">*</text><text x="1293.3" y="1191.7" font-size="24.5" font-weight="bold" text-anchor="middle" transform="translate(1293.3 0) scale(0.998 1) translate(-1293.3 0)">*</text><text x="1281.1" y="1161.7" font-size="24.5" font-weight="bold" text-anchor="middle" transform="translate(1281.1 0) scale(0.998 1) translate(-1281.1 0)">*</text><text x="1293.1" y="1161.7" font-size="24.5" font-weight="bold" text-anchor="middle" transform="translate(1293.1 0) scale(0.998 1) translate(-1293.1 0)">*</text><text x="1305.1" y="1161.7" font-size="24.5" font-weight="bold" text-anchor="middle" transform="translate(1305.1 0) scale(0.998 1) translate(-1305.1 0)">*</text><rect x="1088" y="846" width="33" height="19" fill="#ff2600" stroke="#000" stroke-width="1.5"/><text x="1139.5" y="863.5" font-size="23.5">Cre+TAM+</text><rect x="1088" y="889.2" width="33" height="19" fill="#0433ff" stroke="#000" stroke-width="1.5"/><text x="1139.5" y="906.7" font-size="23.5">Cre+TAM-</text><rect x="1088" y="932.4" width="33" height="19" fill="#008f51" stroke="#000" stroke-width="1.5"/><text x="1139.5" y="949.9" font-size="23.5">Cre-TAM+</text><text x="1307" y="826.6" font-size="88" transform="translate(0 -33.1) scale(1 1.04)">D.</text><line x1="1555.7" y1="859.6" x2="1555.7" y2="1341.4" stroke="#000" stroke-width="3.6"/><line x1="1549.3" y1="1339.6" x2="1794" y2="1339.6" stroke="#000" stroke-width="3.6"/><line x1="1549.3" y1="1339.6" x2="1555.7" y2="1339.6" stroke="#000" stroke-width="3.6"/><text x="1546.5" y="1349.6" font-size="27" text-anchor="end" font-weight="bold" transform="translate(0 -60.7) scale(1 1.045)">0</text><line x1="1549.3" y1="1244" x2="1555.7" y2="1244" stroke="#000" stroke-width="3.6"/><text x="1546.5" y="1254" font-size="27" text-anchor="end" font-weight="bold" transform="translate(0 -56.4) scale(1 1.045)">2</text><line x1="1549.3" y1="1148.4" x2="1555.7" y2="1148.4" stroke="#000" stroke-width="3.6"/><text x="1546.5" y="1158.4" font-size="27" text-anchor="end" font-weight="bold" transform="translate(0 -52.1) scale(1 1.045)">4</text><line x1="1549.3" y1="1052.8" x2="1555.7" y2="1052.8" stroke="#000" stroke-width="3.6"/><text x="1546.5" y="1062.8" font-size="27" text-anchor="end" font-weight="bold" transform="translate(0 -47.8) scale(1 1.045)">6</text><line x1="1549.3" y1="957.2" x2="1555.7" y2="957.2" stroke="#000" stroke-width="3.6"/><text x="1546.5" y="967.2" font-size="27" text-anchor="end" font-weight="bold" transform="translate(0 -43.5) scale(1 1.045)">8</text><line x1="1549.3" y1="861.6" x2="1555.7" y2="861.6" stroke="#000" stroke-width="3.6"/><text x="1546.5" y="871.6" font-size="27" text-anchor="end" font-weight="bold" transform="translate(0 -39.2) scale(1 1.045)">10</text><rect x="1576.6" y="1190" width="76.7" height="149.6" fill="#ffffff" stroke="#000" stroke-width="3.6"/><rect x="1696.2" y="1301.4" width="77.2" height="38.2" fill="#d3d4d4" stroke="#000" stroke-width="3.6"/><line x1="1615" y1="1146.9" x2="1615" y2="1232.6" stroke="#000" stroke-width="3.6"/><line x1="1595.4" y1="1146.9" x2="1634.6" y2="1146.9" stroke="#000" stroke-width="3.6" stroke-linecap="round"/><line x1="1595.4" y1="1232.6" x2="1634.6" y2="1232.6" stroke="#000" stroke-width="3.6" stroke-linecap="round"/><line x1="1734.2" y1="1289.3" x2="1734.2" y2="1311" stroke="#000" stroke-width="3.6"/><line x1="1713.7" y1="1289.3" x2="1754.7" y2="1289.3" stroke="#000" stroke-width="3.6" stroke-linecap="round"/><line x1="1713.7" y1="1311" x2="1754.7" y2="1311" stroke="#000" stroke-width="3.6" stroke-linecap="round"/><circle cx="1596.3" cy="932.2" r="9.4" fill="none" stroke="#000" stroke-width="4"/><circle cx="1633.6" cy="919.5" r="9.4" fill="none" stroke="#000" stroke-width="4"/><circle cx="1614.9" cy="973.2" r="9.4" fill="none" stroke="#000" stroke-width="4"/><circle cx="1633.6" cy="1142" r="9.4" fill="none" stroke="#000" stroke-width="4"/><circle cx="1596.3" cy="1158.8" r="9.4" fill="none" stroke="#000" stroke-width="4"/><circle cx="1596.3" cy="1232.2" r="9.4" fill="none" stroke="#000" stroke-width="4"/><circle cx="1633.6" cy="1223.3" r="9.4" fill="none" stroke="#000" stroke-width="4"/><circle cx="1584" cy="1287.4" r="9.4" fill="none" stroke="#000" stroke-width="4"/><circle cx="1644.8" cy="1299.3" r="9.4" fill="none" stroke="#000" stroke-width="4"/><circle cx="1584" cy="1312.7" r="9.4" fill="none" stroke="#000" stroke-width="4"/><circle cx="1614.9" cy="1322.1" r="9.4" fill="none" stroke="#000" stroke-width="4"/><circle cx="1644.8" cy="1321.7" r="9.4" fill="none" stroke="#000" stroke-width="4"/><circle cx="1584" cy="1337.7" r="9.4" fill="none" stroke="#000" stroke-width="4"/><circle cx="1704.4" cy="1247.1" r="9.4" fill="none" stroke="#000" stroke-width="4"/><circle cx="1764" cy="1251.2" r="9.4" fill="none" stroke="#000" stroke-width="4"/><circle cx="1704.4" cy="1266.9" r="9.4" fill="none" stroke="#000" stroke-width="4"/><circle cx="1734.2" cy="1270.6" r="9.4" fill="none" stroke="#000" stroke-width="4"/><circle cx="1764" cy="1279.9" r="9.4" fill="none" stroke="#000" stroke-width="4"/><circle cx="1704.4" cy="1289.3" r="9.4" fill="none" stroke="#000" stroke-width="4"/><circle cx="1717.4" cy="1328.4" r="9.4" fill="none" stroke="#000" stroke-width="4"/><circle cx="1739.8" cy="1328.4" r="9.4" fill="none" stroke="#000" stroke-width="4"/><circle cx="1764" cy="1330.3" r="9.4" fill="none" stroke="#000" stroke-width="4"/><circle cx="1704.4" cy="1337" r="9.4" fill="none" stroke="#000" stroke-width="4"/><circle cx="1728.6" cy="1337" r="9.4" fill="none" stroke="#000" stroke-width="4"/><circle cx="1752.9" cy="1337.7" r="9.4" fill="none" stroke="#000" stroke-width="4"/><line x1="1609.1" y1="871.7" x2="1735.7" y2="871.7" stroke="#000" stroke-width="3.5"/><line x1="1611" y1="870" x2="1611" y2="880" stroke="#000" stroke-width="3.6" stroke-linecap="round"/><line x1="1733.7" y1="870" x2="1733.7" y2="880" stroke="#000" stroke-width="3.6" stroke-linecap="round"/><text x="1672.7" y="872.7" font-size="49.2" font-weight="bold" text-anchor="middle" transform="translate(1672.7 0) scale(1.014 1) translate(-1672.7 0)">*</text><text x="1614.3" y="1374.5" font-size="33" text-anchor="middle" font-weight="bold" transform="translate(0 -82.5) scale(1 1.06)">Ctrl</text><text x="1734" y="1378.9" font-size="33.2" font-weight="bold" text-anchor="middle" transform="translate(0 -82.7) scale(1 1.06)">Adipo<tspan font-size="24.9" dy="-11.5">Δ/Δ</tspan></text><text x="1495.9" y="1090.3" font-size="30" font-weight="bold" text-anchor="middle" textLength="363" lengthAdjust="spacingAndGlyphs" transform="rotate(-90 1495.9 1090.3) translate(1495.9 1090.3) scale(1 1.04) translate(-1495.9 -1090.3)">Blood Monocytes (10<tspan font-size="20" dy="-11">5</tspan><tspan dy="11">/mL)</tspan></text><text x="0" y="1533.7" font-size="88" transform="translate(0 -61.3) scale(1 1.04)">E.</text><text x="382" y="1527.2" font-size="36.5" text-anchor="middle" font-weight="bold" fill="#ff0000" transform="translate(0 -30.5) scale(1 1.02)">Blood</text><line x1="184.9" y1="1544" x2="581" y2="1544" stroke="#000" stroke-width="3.5"/><line x1="147" y1="1586.7" x2="147" y2="1986.7" stroke="#000" stroke-width="3"/><line x1="141.5" y1="1985.2" x2="344.5" y2="1985.2" stroke="#000" stroke-width="3"/><line x1="141.5" y1="1985.2" x2="147" y2="1985.2" stroke="#000" stroke-width="3"/><text x="139.3" y="1993.5" font-size="22.5" text-anchor="end" font-weight="bold" transform="translate(0 -119.6) scale(1 1.06)">0</text><line x1="141.5" y1="1905.8" x2="147" y2="1905.8" stroke="#000" stroke-width="3"/><text x="139.3" y="1914.1" font-size="22.5" text-anchor="end" font-weight="bold" transform="translate(0 -114.8) scale(1 1.06)">20</text><line x1="141.5" y1="1826.4" x2="147" y2="1826.4" stroke="#000" stroke-width="3"/><text x="139.3" y="1834.7" font-size="22.5" text-anchor="end" font-weight="bold" transform="translate(0 -110.1) scale(1 1.06)">40</text><line x1="141.5" y1="1747" x2="147" y2="1747" stroke="#000" stroke-width="3"/><text x="139.3" y="1755.3" font-size="22.5" text-anchor="end" font-weight="bold" transform="translate(0 -105.3) scale(1 1.06)">60</text><line x1="141.5" y1="1667.6" x2="147" y2="1667.6" stroke="#000" stroke-width="3"/><text x="139.3" y="1675.9" font-size="22.5" text-anchor="end" font-weight="bold" transform="translate(0 -100.6) scale(1 1.06)">80</text><line x1="141.5" y1="1588.2" x2="147" y2="1588.2" stroke="#000" stroke-width="3"/><text x="139.3" y="1596.5" font-size="22.5" text-anchor="end" font-weight="bold" transform="translate(0 -95.8) scale(1 1.06)">100</text><rect x="165" y="1762.9" width="63" height="222.3" fill="#ffffff" stroke="#000" stroke-width="3"/><rect x="264.7" y="1750.2" width="63" height="235" fill="#d3d4d4" stroke="#000" stroke-width="3"/><line x1="197.5" y1="1738.6" x2="197.5" y2="1784.4" stroke="#000" stroke-width="3"/><line x1="180.5" y1="1738.6" x2="214.5" y2="1738.6" stroke="#000" stroke-width="3" stroke-linecap="round"/><line x1="180.5" y1="1784.4" x2="214.5" y2="1784.4" stroke="#000" stroke-width="3" stroke-linecap="round"/><line x1="296.2" y1="1735.2" x2="296.2" y2="1764.6" stroke="#000" stroke-width="3"/><line x1="279.2" y1="1735.2" x2="313.2" y2="1735.2" stroke="#000" stroke-width="3" stroke-linecap="round"/><line x1="279.2" y1="1764.6" x2="313.2" y2="1764.6" stroke="#000" stroke-width="3" stroke-linecap="round"/><circle cx="197.5" cy="1631.4" r="7.7" fill="none" stroke="#000" stroke-width="2.9"/><circle cx="197.5" cy="1654.1" r="7.7" fill="none" stroke="#000" stroke-width="2.9"/><circle cx="197.5" cy="1676.4" r="7.7" fill="none" stroke="#000" stroke-width="2.9"/><circle cx="197.5" cy="1701.6" r="7.7" fill="none" stroke="#000" stroke-width="2.9"/><circle cx="197.5" cy="1730.2" r="7.7" fill="none" stroke="#000" stroke-width="2.9"/><circle cx="180.7" cy="1750.8" r="7.7" fill="none" stroke="#000" stroke-width="2.9"/><circle cx="212.2" cy="1748.7" r="7.7" fill="none" stroke="#000" stroke-width="2.9"/><circle cx="197.5" cy="1775.1" r="7.7" fill="none" stroke="#000" stroke-width="2.9"/><circle cx="212.2" cy="1809.6" r="7.7" fill="none" stroke="#000" stroke-width="2.9"/><circle cx="180.7" cy="1823.4" r="7.7" fill="none" stroke="#000" stroke-width="2.9"/><circle cx="180.7" cy="1857.1" r="7.7" fill="none" stroke="#000" stroke-width="2.9"/><circle cx="212.2" cy="1857.1" r="7.7" fill="none" stroke="#000" stroke-width="2.9"/><circle cx="197.5" cy="1883.5" r="7.7" fill="none" stroke="#000" stroke-width="2.9"/><circle cx="296.2" cy="1676.4" r="7.7" fill="none" stroke="#000" stroke-width="2.9"/><circle cx="280.7" cy="1705.8" r="7.7" fill="none" stroke="#000" stroke-width="2.9"/><circle cx="271" cy="1720.5" r="7.7" fill="none" stroke="#000" stroke-width="2.9"/><circle cx="289.9" cy="1714.2" r="7.7" fill="none" stroke="#000" stroke-width="2.9"/><circle cx="302.5" cy="1712.1" r="7.7" fill="none" stroke="#000" stroke-width="2.9"/><circle cx="321.4" cy="1714.2" r="7.7" fill="none" stroke="#000" stroke-width="2.9"/><circle cx="310.9" cy="1722.6" r="7.7" fill="none" stroke="#000" stroke-width="2.9"/><circle cx="296.2" cy="1746.6" r="7.7" fill="none" stroke="#000" stroke-width="2.9"/><circle cx="321.4" cy="1747.8" r="7.7" fill="none" stroke="#000" stroke-width="2.9"/><circle cx="271" cy="1757.5" r="7.7" fill="none" stroke="#000" stroke-width="2.9"/><circle cx="280.7" cy="1781.4" r="7.7" fill="none" stroke="#000" stroke-width="2.9"/><circle cx="310.9" cy="1780.6" r="7.7" fill="none" stroke="#000" stroke-width="2.9"/><circle cx="296.2" cy="1829.7" r="7.7" fill="none" stroke="#000" stroke-width="2.9"/><circle cx="296.2" cy="1882.3" r="7.7" fill="none" stroke="#000" stroke-width="2.9"/><line x1="194.5" y1="1584.8" x2="295" y2="1584.8" stroke="#000" stroke-width="3.2"/><line x1="194.5" y1="1577.8" x2="194.5" y2="1591.3" stroke="#000" stroke-width="3.2" stroke-linecap="round"/><line x1="295" y1="1577.8" x2="295" y2="1591.3" stroke="#000" stroke-width="3.2" stroke-linecap="round"/><text x="245" y="1575" font-size="24" text-anchor="middle" font-weight="bold">ns</text><text x="196.5" y="2012.7" font-size="27.3" text-anchor="middle" font-weight="bold" transform="translate(0 -120.8) scale(1 1.06)">Ctrl</text><text x="296.2" y="2017.1" font-size="27.5" font-weight="bold" text-anchor="middle" transform="translate(0 -121) scale(1 1.06)">Adipo<tspan font-size="20.6" dy="-9.5">Δ/Δ</tspan></text><text x="60.8" y="1775.5" font-size="25.7" font-weight="bold" text-anchor="middle" textLength="229.5" lengthAdjust="spacingAndGlyphs" transform="rotate(-90 60.8 1775.5) translate(60.8 1775.5) scale(1 1.04) translate(-60.8 -1775.5)">Ly6C<tspan font-size="18" dy="-9">high</tspan><tspan dy="9"> monocytes</tspan></text><text x="88.7" y="1775.7" font-size="25.7" font-weight="bold" text-anchor="middle" textLength="200.6" lengthAdjust="spacingAndGlyphs" transform="rotate(-90 88.7 1775.7) translate(88.7 1775.7) scale(1 1.04) translate(-88.7 -1775.7)">(% of monocytes)</text><line x1="467.2" y1="1587.5" x2="467.2" y2="1986.7" stroke="#000" stroke-width="3"/><line x1="461.7" y1="1985.2" x2="666" y2="1985.2" stroke="#000" stroke-width="3"/><line x1="461.7" y1="1985.2" x2="467.2" y2="1985.2" stroke="#000" stroke-width="3"/><text x="459.5" y="1993.5" font-size="22.5" text-anchor="end" font-weight="bold" transform="translate(0 -119.6) scale(1 1.06)">0</text><line x1="461.7" y1="1886.2" x2="467.2" y2="1886.2" stroke="#000" stroke-width="3"/><text x="459.5" y="1894.5" font-size="22.5" text-anchor="end" font-weight="bold" transform="translate(0 -113.7) scale(1 1.06)">20</text><line x1="461.7" y1="1787.2" x2="467.2" y2="1787.2" stroke="#000" stroke-width="3"/><text x="459.5" y="1795.5" font-size="22.5" text-anchor="end" font-weight="bold" transform="translate(0 -107.7) scale(1 1.06)">40</text><line x1="461.7" y1="1688.2" x2="467.2" y2="1688.2" stroke="#000" stroke-width="3"/><text x="459.5" y="1696.5" font-size="22.5" text-anchor="end" font-weight="bold" transform="translate(0 -101.8) scale(1 1.06)">60</text><line x1="461.7" y1="1589.2" x2="467.2" y2="1589.2" stroke="#000" stroke-width="3"/><text x="459.5" y="1597.5" font-size="22.5" text-anchor="end" font-weight="bold" transform="translate(0 -95.9) scale(1 1.06)">80</text><rect x="485.3" y="1772.8" width="63.9" height="212.4" fill="#ffffff" stroke="#000" stroke-width="3"/><rect x="584" y="1790.7" width="64" height="194.5" fill="#d3d4d4" stroke="#000" stroke-width="3"/><line x1="516.8" y1="1744.9" x2="516.8" y2="1801.2" stroke="#000" stroke-width="3"/><line x1="499.8" y1="1744.9" x2="533.8" y2="1744.9" stroke="#000" stroke-width="3" stroke-linecap="round"/><line x1="499.8" y1="1801.2" x2="533.8" y2="1801.2" stroke="#000" stroke-width="3" stroke-linecap="round"/><line x1="615.5" y1="1771.8" x2="615.5" y2="1807.9" stroke="#000" stroke-width="3"/><line x1="598.5" y1="1771.8" x2="632.5" y2="1771.8" stroke="#000" stroke-width="3" stroke-linecap="round"/><line x1="598.5" y1="1807.9" x2="632.5" y2="1807.9" stroke="#000" stroke-width="3" stroke-linecap="round"/><circle cx="516.8" cy="1618.4" r="7.7" fill="none" stroke="#000" stroke-width="2.9"/><circle cx="501.3" cy="1658.7" r="7.7" fill="none" stroke="#000" stroke-width="2.9"/><circle cx="532.8" cy="1649.9" r="7.7" fill="none" stroke="#000" stroke-width="2.9"/><circle cx="501.3" cy="1711.3" r="7.7" fill="none" stroke="#000" stroke-width="2.9"/><circle cx="532.8" cy="1701.6" r="7.7" fill="none" stroke="#000" stroke-width="2.9"/><circle cx="516.8" cy="1755.4" r="7.7" fill="none" stroke="#000" stroke-width="2.9"/><circle cx="501.3" cy="1789" r="7.7" fill="none" stroke="#000" stroke-width="2.9"/><circle cx="532.8" cy="1785.6" r="7.7" fill="none" stroke="#000" stroke-width="2.9"/><circle cx="516.8" cy="1816.3" r="7.7" fill="none" stroke="#000" stroke-width="2.9"/><circle cx="516.8" cy="1846.6" r="7.7" fill="none" stroke="#000" stroke-width="2.9"/><circle cx="516.8" cy="1876" r="7.7" fill="none" stroke="#000" stroke-width="2.9"/><circle cx="516.8" cy="1904.1" r="7.7" fill="none" stroke="#000" stroke-width="2.9"/><circle cx="516.8" cy="1932.7" r="7.7" fill="none" stroke="#000" stroke-width="2.9"/><circle cx="615.5" cy="1627.2" r="7.7" fill="none" stroke="#000" stroke-width="2.9"/><circle cx="615.5" cy="1689" r="7.7" fill="none" stroke="#000" stroke-width="2.9"/><circle cx="599.6" cy="1751.2" r="7.7" fill="none" stroke="#000" stroke-width="2.9"/><circle cx="631.1" cy="1762.5" r="7.7" fill="none" stroke="#000" stroke-width="2.9"/><circle cx="599.6" cy="1776" r="7.7" fill="none" stroke="#000" stroke-width="2.9"/><circle cx="599.6" cy="1794.9" r="7.7" fill="none" stroke="#000" stroke-width="2.9"/><circle cx="631.1" cy="1791.1" r="7.7" fill="none" stroke="#000" stroke-width="2.9"/><circle cx="615.5" cy="1821.3" r="7.7" fill="none" stroke="#000" stroke-width="2.9"/><circle cx="591.2" cy="1831.8" r="7.7" fill="none" stroke="#000" stroke-width="2.9"/><circle cx="605" cy="1827.6" r="7.7" fill="none" stroke="#000" stroke-width="2.9"/><circle cx="628.2" cy="1828.5" r="7.7" fill="none" stroke="#000" stroke-width="2.9"/><circle cx="641.6" cy="1822.2" r="7.7" fill="none" stroke="#000" stroke-width="2.9"/><circle cx="641.6" cy="1842.4" r="7.7" fill="none" stroke="#000" stroke-width="2.9"/><circle cx="615.5" cy="1878.1" r="7.7" fill="none" stroke="#000" stroke-width="2.9"/><line x1="515.5" y1="1586" x2="615.5" y2="1586" stroke="#000" stroke-width="3.2"/><line x1="515.5" y1="1579" x2="515.5" y2="1592.5" stroke="#000" stroke-width="3.2" stroke-linecap="round"/><line x1="615.5" y1="1579" x2="615.5" y2="1592.5" stroke="#000" stroke-width="3.2" stroke-linecap="round"/><text x="566" y="1577" font-size="24" text-anchor="middle" font-weight="bold">ns</text><text x="517.3" y="2012.7" font-size="27.3" text-anchor="middle" font-weight="bold" transform="translate(0 -120.8) scale(1 1.06)">Ctrl</text><text x="616" y="2017.1" font-size="27.5" font-weight="bold" text-anchor="middle" transform="translate(0 -121) scale(1 1.06)">Adipo<tspan font-size="20.6" dy="-9.5">Δ/Δ</tspan></text><text x="392.1" y="1773.5" font-size="25.7" font-weight="bold" text-anchor="middle" textLength="218.7" lengthAdjust="spacingAndGlyphs" transform="rotate(-90 392.1 1773.5) translate(392.1 1773.5) scale(1 1.04) translate(-392.1 -1773.5)">Ly6C<tspan font-size="18" dy="-9">low</tspan><tspan dy="9"> monocytes</tspan></text><text x="420.4" y="1770.4" font-size="25.7" font-weight="bold" text-anchor="middle" textLength="189.9" lengthAdjust="spacingAndGlyphs" transform="rotate(-90 420.4 1770.4) translate(420.4 1770.4) scale(1 1.04) translate(-420.4 -1770.4)">(% of monocytes)</text><text x="698.3" y="1533.7" font-size="88" transform="translate(0 -61.3) scale(1 1.04)">F.</text><text x="1053.3" y="1531.3" font-size="36.5" text-anchor="middle" font-weight="bold" fill="#ff0000" transform="translate(0 -30.6) scale(1 1.02)">Serum</text><line x1="855.5" y1="1545.2" x2="1251.3" y2="1545.2" stroke="#000" stroke-width="3.5"/><line x1="829.4" y1="1590.4" x2="829.4" y2="1989.6" stroke="#000" stroke-width="3"/><line x1="823.9" y1="1988.1" x2="1027.9" y2="1988.1" stroke="#000" stroke-width="3"/><line x1="823.9" y1="1988.1" x2="829.4" y2="1988.1" stroke="#000" stroke-width="3"/><text x="821.7" y="1996.4" font-size="22.5" text-anchor="end" font-weight="bold" transform="translate(0 -119.8) scale(1 1.06)">0</text><line x1="823.9" y1="1908.9" x2="829.4" y2="1908.9" stroke="#000" stroke-width="3"/><text x="821.7" y="1917.2" font-size="22.5" text-anchor="end" font-weight="bold" transform="translate(0 -115) scale(1 1.06)">100</text><line x1="823.9" y1="1829.6" x2="829.4" y2="1829.6" stroke="#000" stroke-width="3"/><text x="821.7" y="1837.9" font-size="22.5" text-anchor="end" font-weight="bold" transform="translate(0 -110.3) scale(1 1.06)">200</text><line x1="823.9" y1="1750.4" x2="829.4" y2="1750.4" stroke="#000" stroke-width="3"/><text x="821.7" y="1758.7" font-size="22.5" text-anchor="end" font-weight="bold" transform="translate(0 -105.5) scale(1 1.06)">300</text><line x1="823.9" y1="1671.1" x2="829.4" y2="1671.1" stroke="#000" stroke-width="3"/><text x="821.7" y="1679.4" font-size="22.5" text-anchor="end" font-weight="bold" transform="translate(0 -100.8) scale(1 1.06)">400</text><line x1="823.9" y1="1591.9" x2="829.4" y2="1591.9" stroke="#000" stroke-width="3"/><text x="821.7" y="1600.2" font-size="22.5" text-anchor="end" font-weight="bold" transform="translate(0 -96) scale(1 1.06)">500</text><rect x="848" y="1700.5" width="63.8" height="287.6" fill="#ffffff" stroke="#000" stroke-width="3"/><rect x="947.4" y="1681.4" width="63.4" height="306.7" fill="#d3d4d4" stroke="#000" stroke-width="3"/><line x1="879.3" y1="1693.8" x2="879.3" y2="1705.6" stroke="#000" stroke-width="3"/><line x1="863.3" y1="1693.8" x2="895.3" y2="1693.8" stroke="#000" stroke-width="3" stroke-linecap="round"/><line x1="863.3" y1="1705.6" x2="895.3" y2="1705.6" stroke="#000" stroke-width="3" stroke-linecap="round"/><line x1="979.1" y1="1668" x2="979.1" y2="1692.6" stroke="#000" stroke-width="3"/><line x1="962.6" y1="1668" x2="995.6" y2="1668" stroke="#000" stroke-width="3" stroke-linecap="round"/><line x1="962.6" y1="1692.6" x2="995.6" y2="1692.6" stroke="#000" stroke-width="3" stroke-linecap="round"/><circle cx="854.3" cy="1679.1" r="7.7" fill="none" stroke="#000" stroke-width="2.9"/><circle cx="865.4" cy="1681.9" r="7.7" fill="none" stroke="#000" stroke-width="2.9"/><circle cx="874.9" cy="1668" r="7.7" fill="none" stroke="#000" stroke-width="2.9"/><circle cx="884.8" cy="1660.9" r="7.7" fill="none" stroke="#000" stroke-width="2.9"/><circle cx="854.3" cy="1694.9" r="7.7" fill="none" stroke="#000" stroke-width="2.9"/><circle cx="875.3" cy="1693.8" r="7.7" fill="none" stroke="#000" stroke-width="2.9"/><circle cx="884.8" cy="1687" r="7.7" fill="none" stroke="#000" stroke-width="2.9"/><circle cx="895.9" cy="1696.9" r="7.7" fill="none" stroke="#000" stroke-width="2.9"/><circle cx="905" cy="1690.6" r="7.7" fill="none" stroke="#000" stroke-width="2.9"/><circle cx="871.4" cy="1713.6" r="7.7" fill="none" stroke="#000" stroke-width="2.9"/><circle cx="854.3" cy="1726.2" r="7.7" fill="none" stroke="#000" stroke-width="2.9"/><circle cx="888" cy="1725.5" r="7.7" fill="none" stroke="#000" stroke-width="2.9"/><circle cx="905" cy="1725.5" r="7.7" fill="none" stroke="#000" stroke-width="2.9"/><circle cx="879.3" cy="1744.5" r="7.7" fill="none" stroke="#000" stroke-width="2.9"/><circle cx="994.2" cy="1610.6" r="7.7" fill="none" stroke="#000" stroke-width="2.9"/><circle cx="962.5" cy="1621.6" r="7.7" fill="none" stroke="#000" stroke-width="2.9"/><circle cx="971.2" cy="1645.4" r="7.7" fill="none" stroke="#000" stroke-width="2.9"/><circle cx="953.4" cy="1659.3" r="7.7" fill="none" stroke="#000" stroke-width="2.9"/><circle cx="987.1" cy="1654.1" r="7.7" fill="none" stroke="#000" stroke-width="2.9"/><circle cx="1003.7" cy="1650.2" r="7.7" fill="none" stroke="#000" stroke-width="2.9"/><circle cx="979.1" cy="1675.9" r="7.7" fill="none" stroke="#000" stroke-width="2.9"/><circle cx="970.4" cy="1707.6" r="7.7" fill="none" stroke="#000" stroke-width="2.9"/><circle cx="953.4" cy="1719.5" r="7.7" fill="none" stroke="#000" stroke-width="2.9"/><circle cx="987.1" cy="1718.7" r="7.7" fill="none" stroke="#000" stroke-width="2.9"/><circle cx="1004.1" cy="1709.6" r="7.7" fill="none" stroke="#000" stroke-width="2.9"/><circle cx="962.5" cy="1738.5" r="7.7" fill="none" stroke="#000" stroke-width="2.9"/><circle cx="995" cy="1738.5" r="7.7" fill="none" stroke="#000" stroke-width="2.9"/><line x1="875.7" y1="1589.6" x2="975.6" y2="1589.6" stroke="#000" stroke-width="3.2"/><line x1="875.7" y1="1582.6" x2="875.7" y2="1596.1" stroke="#000" stroke-width="3.2" stroke-linecap="round"/><line x1="975.6" y1="1582.6" x2="975.6" y2="1596.1" stroke="#000" stroke-width="3.2" stroke-linecap="round"/><text x="926" y="1580.8" font-size="24" text-anchor="middle" font-weight="bold">ns</text><text x="876.9" y="2012.9" font-size="24.4" text-anchor="middle" font-weight="bold" transform="translate(0 -120.8) scale(1 1.06)">Ctrl</text><text x="979.5" y="2015" font-size="24.5" font-weight="bold" text-anchor="middle" transform="translate(0 -120.9) scale(1 1.06)">Adipo<tspan font-size="18.4" dy="-8.5">Δ/Δ</tspan></text><text x="762.8" y="1778.9" font-size="24.7" font-weight="bold" text-anchor="middle" textLength="261.4" lengthAdjust="spacingAndGlyphs" transform="rotate(-90 762.8 1778.9) translate(762.8 1778.9) scale(1 1.04) translate(-762.8 -1778.9)">Serum CXCL12 (pg/ml)</text><line x1="1134.8" y1="1590.4" x2="1134.8" y2="1989.6" stroke="#000" stroke-width="3"/><line x1="1129.3" y1="1988.1" x2="1331.7" y2="1988.1" stroke="#000" stroke-width="3"/><line x1="1129.3" y1="1988.1" x2="1134.8" y2="1988.1" stroke="#000" stroke-width="3"/><text x="1127.1" y="1996.4" font-size="22.5" text-anchor="end" font-weight="bold" transform="translate(0 -119.8) scale(1 1.06)">0</text><line x1="1129.3" y1="1856" x2="1134.8" y2="1856" stroke="#000" stroke-width="3"/><text x="1127.1" y="1864.3" font-size="22.5" text-anchor="end" font-weight="bold" transform="translate(0 -111.9) scale(1 1.06)">100</text><line x1="1129.3" y1="1724" x2="1134.8" y2="1724" stroke="#000" stroke-width="3"/><text x="1127.1" y="1732.3" font-size="22.5" text-anchor="end" font-weight="bold" transform="translate(0 -103.9) scale(1 1.06)">200</text><line x1="1129.3" y1="1591.9" x2="1134.8" y2="1591.9" stroke="#000" stroke-width="3"/><text x="1127.1" y="1600.2" font-size="22.5" text-anchor="end" font-weight="bold" transform="translate(0 -96) scale(1 1.06)">300</text><rect x="1163.4" y="1881.1" width="55.4" height="107" fill="#fafafa" stroke="#000" stroke-width="3"/><rect x="1248.5" y="1878.5" width="54.7" height="109.6" fill="#d3d4d4" stroke="#000" stroke-width="3"/><line x1="1191.1" y1="1855" x2="1191.1" y2="1904.9" stroke="#000" stroke-width="3"/><line x1="1175.1" y1="1855" x2="1207.1" y2="1855" stroke="#000" stroke-width="3" stroke-linecap="round"/><line x1="1175.1" y1="1904.9" x2="1207.1" y2="1904.9" stroke="#000" stroke-width="3" stroke-linecap="round"/><line x1="1276.3" y1="1864.1" x2="1276.3" y2="1888.7" stroke="#000" stroke-width="3"/><line x1="1260.3" y1="1864.1" x2="1292.3" y2="1864.1" stroke="#000" stroke-width="3" stroke-linecap="round"/><line x1="1260.3" y1="1888.7" x2="1292.3" y2="1888.7" stroke="#000" stroke-width="3" stroke-linecap="round"/><circle cx="1191.1" cy="1621.6" r="7.7" fill="none" stroke="#000" stroke-width="2.9"/><circle cx="1185.2" cy="1855.4" r="7.7" fill="none" stroke="#000" stroke-width="2.9"/><circle cx="1197" cy="1868.1" r="7.7" fill="none" stroke="#000" stroke-width="2.9"/><circle cx="1171.3" cy="1880" r="7.7" fill="none" stroke="#000" stroke-width="2.9"/><circle cx="1184" cy="1880" r="7.7" fill="none" stroke="#000" stroke-width="2.9"/><circle cx="1199" cy="1885.9" r="7.7" fill="none" stroke="#000" stroke-width="2.9"/><circle cx="1185.2" cy="1908.9" r="7.7" fill="none" stroke="#000" stroke-width="2.9"/><circle cx="1171.3" cy="1922.8" r="7.7" fill="none" stroke="#000" stroke-width="2.9"/><circle cx="1185.2" cy="1927.5" r="7.7" fill="none" stroke="#000" stroke-width="2.9"/><circle cx="1212.1" cy="1928.7" r="7.7" fill="none" stroke="#000" stroke-width="2.9"/><circle cx="1197" cy="1935.4" r="7.7" fill="none" stroke="#000" stroke-width="2.9"/><circle cx="1171.3" cy="1943.4" r="7.7" fill="none" stroke="#000" stroke-width="2.9"/><circle cx="1266.4" cy="1813.4" r="7.7" fill="none" stroke="#000" stroke-width="2.9"/><circle cx="1286.2" cy="1813.8" r="7.7" fill="none" stroke="#000" stroke-width="2.9"/><circle cx="1266.4" cy="1853" r="7.7" fill="none" stroke="#000" stroke-width="2.9"/><circle cx="1286.2" cy="1849.5" r="7.7" fill="none" stroke="#000" stroke-width="2.9"/><circle cx="1276.3" cy="1868.1" r="7.7" fill="none" stroke="#000" stroke-width="2.9"/><circle cx="1255.3" cy="1886.7" r="7.7" fill="none" stroke="#000" stroke-width="2.9"/><circle cx="1276.3" cy="1895" r="7.7" fill="none" stroke="#000" stroke-width="2.9"/><circle cx="1296.9" cy="1881.9" r="7.7" fill="none" stroke="#000" stroke-width="2.9"/><circle cx="1276.3" cy="1919.6" r="7.7" fill="none" stroke="#000" stroke-width="2.9"/><circle cx="1255.3" cy="1935.4" r="7.7" fill="none" stroke="#000" stroke-width="2.9"/><circle cx="1296.9" cy="1932.3" r="7.7" fill="none" stroke="#000" stroke-width="2.9"/><line x1="1195" y1="1593.5" x2="1271.5" y2="1593.5" stroke="#000" stroke-width="3.2"/><line x1="1195" y1="1586.5" x2="1195" y2="1600" stroke="#000" stroke-width="3.2" stroke-linecap="round"/><line x1="1271.5" y1="1586.5" x2="1271.5" y2="1600" stroke="#000" stroke-width="3.2" stroke-linecap="round"/><text x="1234" y="1586.8" font-size="24" text-anchor="middle" font-weight="bold">ns</text><text x="1190.8" y="2016.9" font-size="24.5" text-anchor="middle" font-weight="bold" transform="translate(0 -121) scale(1 1.06)">Ctrl</text><text x="1275.5" y="2019.2" font-size="24.8" font-weight="bold" text-anchor="middle" transform="translate(0 -121.2) scale(1 1.06)">Adipo<tspan font-size="18.6" dy="-8.6">Δ/Δ</tspan></text><text x="1066.6" y="1781.5" font-size="28.4" font-weight="bold" text-anchor="middle" textLength="263.9" lengthAdjust="spacingAndGlyphs" transform="rotate(-90 1066.6 1781.5) translate(1066.6 1781.5) scale(1 1.04) translate(-1066.6 -1781.5)">Serum CCL2 (pg/mL)</text><text x="1307.8" y="1533.7" font-size="88" transform="translate(0 -61.3) scale(1 1.04)">G.</text><text x="1668" y="1530.8" font-size="36.5" text-anchor="middle" font-weight="bold" fill="#ff0000" transform="translate(0 -30.6) scale(1 1.02)">BAT</text><line x1="1470.3" y1="1548.3" x2="1865.8" y2="1548.3" stroke="#000" stroke-width="3.5"/><line x1="1438.6" y1="1599.4" x2="1438.6" y2="1993.7" stroke="#000" stroke-width="3"/><line x1="1433.1" y1="1992.2" x2="1633.6" y2="1992.2" stroke="#000" stroke-width="3"/><line x1="1433.1" y1="1992.2" x2="1438.6" y2="1992.2" stroke="#000" stroke-width="3"/><text x="1430.9" y="2000.5" font-size="22.5" text-anchor="end" font-weight="bold" transform="translate(0 -120) scale(1 1.06)">0</text><line x1="1433.1" y1="1861.8" x2="1438.6" y2="1861.8" stroke="#000" stroke-width="3"/><text x="1430.9" y="1870.1" font-size="22.5" text-anchor="end" font-weight="bold" transform="translate(0 -112.2) scale(1 1.06)">5</text><line x1="1433.1" y1="1731.3" x2="1438.6" y2="1731.3" stroke="#000" stroke-width="3"/><text x="1430.9" y="1739.6" font-size="22.5" text-anchor="end" font-weight="bold" transform="translate(0 -104.4) scale(1 1.06)">10</text><line x1="1433.1" y1="1600.9" x2="1438.6" y2="1600.9" stroke="#000" stroke-width="3"/><text x="1430.9" y="1609.2" font-size="22.5" text-anchor="end" font-weight="bold" transform="translate(0 -96.6) scale(1 1.06)">15</text><rect x="1455.8" y="1966.9" width="63" height="25.3" fill="#ffffff" stroke="#000" stroke-width="3"/><rect x="1553.4" y="1862.5" width="63.4" height="129.7" fill="#d3d4d4" stroke="#000" stroke-width="3"/><line x1="1487.5" y1="1963.2" x2="1487.5" y2="1969.9" stroke="#000" stroke-width="3"/><line x1="1471.5" y1="1963.2" x2="1503.5" y2="1963.2" stroke="#000" stroke-width="3" stroke-linecap="round"/><line x1="1471.5" y1="1969.9" x2="1503.5" y2="1969.9" stroke="#000" stroke-width="3" stroke-linecap="round"/><line x1="1585.1" y1="1833.5" x2="1585.1" y2="1890.5" stroke="#000" stroke-width="3"/><line x1="1569.1" y1="1833.5" x2="1601.1" y2="1833.5" stroke="#000" stroke-width="3" stroke-linecap="round"/><line x1="1569.1" y1="1890.5" x2="1601.1" y2="1890.5" stroke="#000" stroke-width="3" stroke-linecap="round"/><circle cx="1462.9" cy="1974.3" r="7.7" fill="none" stroke="#000" stroke-width="2.9"/><circle cx="1478.9" cy="1961.3" r="7.7" fill="none" stroke="#000" stroke-width="2.9"/><circle cx="1495.7" cy="1966.9" r="7.7" fill="none" stroke="#000" stroke-width="2.9"/><circle cx="1513.2" cy="1965" r="7.7" fill="none" stroke="#000" stroke-width="2.9"/><circle cx="1585.1" cy="1679.9" r="7.7" fill="none" stroke="#000" stroke-width="2.9"/><circle cx="1585.1" cy="1797.3" r="7.7" fill="none" stroke="#000" stroke-width="2.9"/><circle cx="1585.1" cy="1820.8" r="7.7" fill="none" stroke="#000" stroke-width="2.9"/><circle cx="1585.1" cy="1868.1" r="7.7" fill="none" stroke="#000" stroke-width="2.9"/><circle cx="1571" cy="1884.9" r="7.7" fill="none" stroke="#000" stroke-width="2.9"/><circle cx="1601.2" cy="1894.2" r="7.7" fill="none" stroke="#000" stroke-width="2.9"/><circle cx="1585.1" cy="1922.2" r="7.7" fill="none" stroke="#000" stroke-width="2.9"/><circle cx="1601.2" cy="1937.8" r="7.7" fill="none" stroke="#000" stroke-width="2.9"/><circle cx="1569.5" cy="1949.4" r="7.7" fill="none" stroke="#000" stroke-width="2.9"/><line x1="1486.4" y1="1626.6" x2="1588.1" y2="1626.6" stroke="#000" stroke-width="3.2"/><line x1="1486.4" y1="1619.6" x2="1486.4" y2="1633.1" stroke="#000" stroke-width="3.2" stroke-linecap="round"/><line x1="1588.1" y1="1619.6" x2="1588.1" y2="1633.1" stroke="#000" stroke-width="3.2" stroke-linecap="round"/><text x="1528" y="1627.4" font-size="49.5" font-weight="bold" text-anchor="middle" transform="translate(1528 0) scale(0.919 1) translate(-1528 0)">*</text><text x="1547.4" y="1627.4" font-size="49.5" font-weight="bold" text-anchor="middle" transform="translate(1547.4 0) scale(0.919 1) translate(-1547.4 0)">*</text><text x="1487.2" y="2021" font-size="26.9" text-anchor="middle" font-weight="bold" transform="translate(0 -121.3) scale(1 1.06)">Ctrl</text><text x="1585" y="2024.8" font-size="27.4" font-weight="bold" text-anchor="middle" transform="translate(0 -121.5) scale(1 1.06)">Adipo<tspan font-size="20.5" dy="-9.5">Δ/Δ</tspan></text><text x="1394" y="1798.4" font-size="28" font-weight="bold" text-anchor="middle" textLength="267.3" lengthAdjust="spacingAndGlyphs" transform="rotate(-90 1394 1798.4) translate(1394 1798.4) scale(1 1.04) translate(-1394 -1798.4)">CCL2&#160; (fold increase)</text><line x1="1717.4" y1="1599.4" x2="1717.4" y2="1993.7" stroke="#000" stroke-width="3"/><line x1="1711.9" y1="1992.2" x2="1911.3" y2="1992.2" stroke="#000" stroke-width="3"/><line x1="1711.9" y1="1992.2" x2="1717.4" y2="1992.2" stroke="#000" stroke-width="3"/><text x="1709.7" y="2000.5" font-size="22.5" text-anchor="end" font-weight="bold" transform="translate(0 -120) scale(1 1.06)">0</text><line x1="1711.9" y1="1861.8" x2="1717.4" y2="1861.8" stroke="#000" stroke-width="3"/><text x="1709.7" y="1870.1" font-size="22.5" text-anchor="end" font-weight="bold" transform="translate(0 -112.2) scale(1 1.06)">2</text><line x1="1711.9" y1="1731.3" x2="1717.4" y2="1731.3" stroke="#000" stroke-width="3"/><text x="1709.7" y="1739.6" font-size="22.5" text-anchor="end" font-weight="bold" transform="translate(0 -104.4) scale(1 1.06)">4</text><line x1="1711.9" y1="1600.9" x2="1717.4" y2="1600.9" stroke="#000" stroke-width="3"/><text x="1709.7" y="1609.2" font-size="22.5" text-anchor="end" font-weight="bold" transform="translate(0 -96.6) scale(1 1.06)">6</text><rect x="1735" y="1923.7" width="63.3" height="68.5" fill="#ffffff" stroke="#000" stroke-width="3"/><rect x="1833" y="1838.3" width="62.6" height="153.9" fill="#d3d4d4" stroke="#000" stroke-width="3"/><line x1="1765.9" y1="1909.1" x2="1765.9" y2="1937.1" stroke="#000" stroke-width="3"/><line x1="1749.9" y1="1909.1" x2="1781.9" y2="1909.1" stroke="#000" stroke-width="3" stroke-linecap="round"/><line x1="1749.9" y1="1937.1" x2="1781.9" y2="1937.1" stroke="#000" stroke-width="3" stroke-linecap="round"/><line x1="1864.7" y1="1808.5" x2="1864.7" y2="1867" stroke="#000" stroke-width="3"/><line x1="1848.7" y1="1808.5" x2="1880.7" y2="1808.5" stroke="#000" stroke-width="3" stroke-linecap="round"/><line x1="1848.7" y1="1867" x2="1880.7" y2="1867" stroke="#000" stroke-width="3" stroke-linecap="round"/><circle cx="1765.9" cy="1884.2" r="7.7" fill="none" stroke="#000" stroke-width="2.9"/><circle cx="1752.1" cy="1929.6" r="7.7" fill="none" stroke="#000" stroke-width="2.9"/><circle cx="1780.8" cy="1929.6" r="7.7" fill="none" stroke="#000" stroke-width="2.9"/><circle cx="1765.9" cy="1951.2" r="7.7" fill="none" stroke="#000" stroke-width="2.9"/><circle cx="1864.7" cy="1666.9" r="7.7" fill="none" stroke="#000" stroke-width="2.9"/><circle cx="1864.7" cy="1712.3" r="7.7" fill="none" stroke="#000" stroke-width="2.9"/><circle cx="1864.7" cy="1787.2" r="7.7" fill="none" stroke="#000" stroke-width="2.9"/><circle cx="1864.7" cy="1819.7" r="7.7" fill="none" stroke="#000" stroke-width="2.9"/><circle cx="1849.8" cy="1863.3" r="7.7" fill="none" stroke="#000" stroke-width="2.9"/><circle cx="1880.3" cy="1849.5" r="7.7" fill="none" stroke="#000" stroke-width="2.9"/><circle cx="1864.7" cy="1880.4" r="7.7" fill="none" stroke="#000" stroke-width="2.9"/><circle cx="1849.8" cy="1914" r="7.7" fill="none" stroke="#000" stroke-width="2.9"/><circle cx="1880.3" cy="1925.9" r="7.7" fill="none" stroke="#000" stroke-width="2.9"/><circle cx="1864.7" cy="1953.9" r="7.7" fill="none" stroke="#000" stroke-width="2.9"/><line x1="1765.9" y1="1618.4" x2="1866.5" y2="1618.4" stroke="#000" stroke-width="3.2"/><line x1="1765.9" y1="1611.4" x2="1765.9" y2="1624.9" stroke="#000" stroke-width="3.2" stroke-linecap="round"/><line x1="1866.5" y1="1611.4" x2="1866.5" y2="1624.9" stroke="#000" stroke-width="3.2" stroke-linecap="round"/><text x="1816.4" y="1607" font-size="27.5" text-anchor="middle" transform="translate(0 -48.2) scale(1 1.03)">0.0539</text><text x="1763.6" y="2024.2" font-size="26.9" text-anchor="middle" font-weight="bold" transform="translate(0 -121.5) scale(1 1.06)">Ctrl</text><text x="1864.2" y="2024.2" font-size="27.2" font-weight="bold" text-anchor="middle" transform="translate(0 -121.5) scale(1 1.06)">Adipo<tspan font-size="20.4" dy="-9.4">Δ/Δ</tspan></text><text x="1668.1" y="1804.6" font-size="27.4" font-weight="bold" text-anchor="middle" textLength="252.2" lengthAdjust="spacingAndGlyphs" transform="rotate(-90 1668.1 1804.6) translate(1668.1 1804.6) scale(1 1.04) translate(-1668.1 -1804.6)">TNF-<tspan font-family="Liberation Serif, serif" font-weight="normal">α</tspan> (fold change)</text><text x="0" y="2129.5" font-size="88" transform="translate(0 -85.2) scale(1 1.04)">H.</text><text x="383.4" y="2078.7" font-size="36.5" text-anchor="middle" font-weight="bold" fill="#ff0000" transform="translate(0 -41.6) scale(1 1.02)">BAT</text><line x1="184.9" y1="2094.6" x2="581" y2="2094.6" stroke="#000" stroke-width="3.5"/><line x1="147.9" y1="2119.2" x2="147.9" y2="2515.5" stroke="#000" stroke-width="3"/><line x1="142.4" y1="2514" x2="344.5" y2="2514" stroke="#000" stroke-width="3"/><line x1="142.4" y1="2514" x2="147.9" y2="2514" stroke="#000" stroke-width="3"/><text x="140.2" y="2522.3" font-size="22.5" text-anchor="end" font-weight="bold" transform="translate(0 -151.3) scale(1 1.06)">0</text><line x1="142.4" y1="2382.9" x2="147.9" y2="2382.9" stroke="#000" stroke-width="3"/><text x="140.2" y="2391.2" font-size="22.5" text-anchor="end" font-weight="bold" transform="translate(0 -143.5) scale(1 1.06)">50</text><line x1="142.4" y1="2251.8" x2="147.9" y2="2251.8" stroke="#000" stroke-width="3"/><text x="140.2" y="2260.1" font-size="22.5" text-anchor="end" font-weight="bold" transform="translate(0 -135.6) scale(1 1.06)">100</text><line x1="142.4" y1="2120.7" x2="147.9" y2="2120.7" stroke="#000" stroke-width="3"/><text x="140.2" y="2129" font-size="22.5" text-anchor="end" font-weight="bold" transform="translate(0 -127.7) scale(1 1.06)">150</text><rect x="177.7" y="2471.5" width="54.3" height="42.5" fill="#fafafa" stroke="#000" stroke-width="3"/><rect x="262.6" y="2306.9" width="53.4" height="207.1" fill="#d3d4d4" stroke="#000" stroke-width="3"/><line x1="204.8" y1="2466.5" x2="204.8" y2="2477" stroke="#000" stroke-width="3"/><line x1="190.8" y1="2466.5" x2="218.8" y2="2466.5" stroke="#000" stroke-width="3" stroke-linecap="round"/><line x1="190.8" y1="2477" x2="218.8" y2="2477" stroke="#000" stroke-width="3" stroke-linecap="round"/><line x1="289" y1="2282.9" x2="289" y2="2330.8" stroke="#000" stroke-width="3"/><line x1="273.5" y1="2282.9" x2="304.5" y2="2282.9" stroke="#000" stroke-width="3" stroke-linecap="round"/><line x1="273.5" y1="2330.8" x2="304.5" y2="2330.8" stroke="#000" stroke-width="3" stroke-linecap="round"/><circle cx="201.7" cy="2449.7" r="7.7" fill="none" stroke="#000" stroke-width="2.9"/><circle cx="191.2" cy="2469.4" r="7.7" fill="none" stroke="#000" stroke-width="2.9"/><circle cx="208" cy="2468.6" r="7.7" fill="none" stroke="#000" stroke-width="2.9"/><circle cx="217.6" cy="2464.4" r="7.7" fill="none" stroke="#000" stroke-width="2.9"/><circle cx="225.6" cy="2471.5" r="7.7" fill="none" stroke="#000" stroke-width="2.9"/><circle cx="184.9" cy="2479.1" r="7.7" fill="none" stroke="#000" stroke-width="2.9"/><circle cx="199.6" cy="2472.8" r="7.7" fill="none" stroke="#000" stroke-width="2.9"/><circle cx="217.2" cy="2484.1" r="7.7" fill="none" stroke="#000" stroke-width="2.9"/><circle cx="268.9" cy="2240.8" r="7.7" fill="none" stroke="#000" stroke-width="2.9"/><circle cx="309.7" cy="2253.4" r="7.7" fill="none" stroke="#000" stroke-width="2.9"/><circle cx="268.9" cy="2266.9" r="7.7" fill="none" stroke="#000" stroke-width="2.9"/><circle cx="309.7" cy="2269" r="7.7" fill="none" stroke="#000" stroke-width="2.9"/><circle cx="268.9" cy="2359.3" r="7.7" fill="none" stroke="#000" stroke-width="2.9"/><circle cx="309.7" cy="2365.6" r="7.7" fill="none" stroke="#000" stroke-width="2.9"/><circle cx="289.1" cy="2395.9" r="7.7" fill="none" stroke="#000" stroke-width="2.9"/><line x1="209.2" y1="2182.9" x2="284.9" y2="2182.9" stroke="#000" stroke-width="3.2"/><line x1="209.2" y1="2175.9" x2="209.2" y2="2189.4" stroke="#000" stroke-width="3.2" stroke-linecap="round"/><line x1="284.9" y1="2175.9" x2="284.9" y2="2189.4" stroke="#000" stroke-width="3.2" stroke-linecap="round"/><text x="226.9" y="2184.5" font-size="39.8" font-weight="bold" text-anchor="middle" transform="translate(226.9 0) scale(1.038 1) translate(-226.9 0)">*</text><text x="245.9" y="2184.5" font-size="39.8" font-weight="bold" text-anchor="middle" transform="translate(245.9 0) scale(1.038 1) translate(-245.9 0)">*</text><text x="265.2" y="2184.5" font-size="39.8" font-weight="bold" text-anchor="middle" transform="translate(265.2 0) scale(1.038 1) translate(-265.2 0)">*</text><text x="204.8" y="2542.4" font-size="24" text-anchor="middle" font-weight="bold" transform="translate(0 -152.5) scale(1 1.06)">Ctrl</text><text x="288.9" y="2545" font-size="24.5" font-weight="bold" text-anchor="middle" transform="translate(0 -152.7) scale(1 1.06)">Adipo<tspan font-size="18.4" dy="-8.5">Δ/Δ</tspan></text><text x="82.1" y="2332.9" font-size="28" font-weight="bold" text-anchor="middle" textLength="182.2" lengthAdjust="spacingAndGlyphs" transform="rotate(-90 82.1 2332.9) translate(82.1 2332.9) scale(1 1.04) translate(-82.1 -2332.9)">CCL2 (pg/pad)</text><line x1="465.1" y1="2119.2" x2="465.1" y2="2515.5" stroke="#000" stroke-width="3"/><line x1="459.6" y1="2514" x2="663" y2="2514" stroke="#000" stroke-width="3"/><line x1="459.6" y1="2514" x2="465.1" y2="2514" stroke="#000" stroke-width="3"/><text x="457.4" y="2522.3" font-size="22.5" text-anchor="end" font-weight="bold" transform="translate(0 -151.3) scale(1 1.06)">0</text><line x1="459.6" y1="2435.3" x2="465.1" y2="2435.3" stroke="#000" stroke-width="3"/><text x="457.4" y="2443.6" font-size="22.5" text-anchor="end" font-weight="bold" transform="translate(0 -146.6) scale(1 1.06)">20</text><line x1="459.6" y1="2356.7" x2="465.1" y2="2356.7" stroke="#000" stroke-width="3"/><text x="457.4" y="2365" font-size="22.5" text-anchor="end" font-weight="bold" transform="translate(0 -141.9) scale(1 1.06)">40</text><line x1="459.6" y1="2278" x2="465.1" y2="2278" stroke="#000" stroke-width="3"/><text x="457.4" y="2286.3" font-size="22.5" text-anchor="end" font-weight="bold" transform="translate(0 -137.2) scale(1 1.06)">60</text><line x1="459.6" y1="2199.4" x2="465.1" y2="2199.4" stroke="#000" stroke-width="3"/><text x="457.4" y="2207.7" font-size="22.5" text-anchor="end" font-weight="bold" transform="translate(0 -132.5) scale(1 1.06)">80</text><line x1="459.6" y1="2120.7" x2="465.1" y2="2120.7" stroke="#000" stroke-width="3"/><text x="457.4" y="2129" font-size="22.5" text-anchor="end" font-weight="bold" transform="translate(0 -127.7) scale(1 1.06)">100</text><rect x="497" y="2334.7" width="53.4" height="179.3" fill="#fafafa" stroke="#000" stroke-width="3"/><rect x="581" y="2359.4" width="53.5" height="154.6" fill="#d3d4d4" stroke="#000" stroke-width="3"/><line x1="523.1" y1="2298.4" x2="523.1" y2="2369.8" stroke="#000" stroke-width="3"/><line x1="506.6" y1="2298.4" x2="539.6" y2="2298.4" stroke="#000" stroke-width="3" stroke-linecap="round"/><line x1="506.6" y1="2369.8" x2="539.6" y2="2369.8" stroke="#000" stroke-width="3" stroke-linecap="round"/><line x1="607.1" y1="2345" x2="607.1" y2="2373.2" stroke="#000" stroke-width="3"/><line x1="592.1" y1="2345" x2="622.1" y2="2345" stroke="#000" stroke-width="3" stroke-linecap="round"/><line x1="592.1" y1="2373.2" x2="622.1" y2="2373.2" stroke="#000" stroke-width="3" stroke-linecap="round"/><circle cx="530.3" cy="2173.6" r="7.7" fill="none" stroke="#000" stroke-width="2.9"/><circle cx="516.8" cy="2181.6" r="7.7" fill="none" stroke="#000" stroke-width="2.9"/><circle cx="523.1" cy="2322.8" r="7.7" fill="none" stroke="#000" stroke-width="2.9"/><circle cx="523.1" cy="2372.8" r="7.7" fill="none" stroke="#000" stroke-width="2.9"/><circle cx="516.8" cy="2400.1" r="7.7" fill="none" stroke="#000" stroke-width="2.9"/><circle cx="503.4" cy="2409.7" r="7.7" fill="none" stroke="#000" stroke-width="2.9"/><circle cx="530.3" cy="2409.7" r="7.7" fill="none" stroke="#000" stroke-width="2.9"/><circle cx="543.3" cy="2404.7" r="7.7" fill="none" stroke="#000" stroke-width="2.9"/><circle cx="607.1" cy="2299.2" r="7.7" fill="none" stroke="#000" stroke-width="2.9"/><circle cx="607.1" cy="2324.9" r="7.7" fill="none" stroke="#000" stroke-width="2.9"/><circle cx="597.5" cy="2354.3" r="7.7" fill="none" stroke="#000" stroke-width="2.9"/><circle cx="617.6" cy="2358.1" r="7.7" fill="none" stroke="#000" stroke-width="2.9"/><circle cx="587.4" cy="2397.1" r="7.7" fill="none" stroke="#000" stroke-width="2.9"/><circle cx="607.1" cy="2387.9" r="7.7" fill="none" stroke="#000" stroke-width="2.9"/><circle cx="627.3" cy="2392.1" r="7.7" fill="none" stroke="#000" stroke-width="2.9"/><line x1="525.2" y1="2139.6" x2="600.8" y2="2139.6" stroke="#000" stroke-width="3.2"/><line x1="525.2" y1="2132.6" x2="525.2" y2="2146.1" stroke="#000" stroke-width="3.2" stroke-linecap="round"/><line x1="600.8" y1="2132.6" x2="600.8" y2="2146.1" stroke="#000" stroke-width="3.2" stroke-linecap="round"/><text x="563" y="2128.2" font-size="24" text-anchor="middle" font-weight="bold">ns</text><text x="523.6" y="2541.6" font-size="24" text-anchor="middle" font-weight="bold" transform="translate(0 -152.5) scale(1 1.06)">Ctrl</text><text x="607.4" y="2544.4" font-size="24.5" font-weight="bold" text-anchor="middle" transform="translate(0 -152.7) scale(1 1.06)">Adipo<tspan font-size="18.4" dy="-8.5">Δ/Δ</tspan></text><text x="402.1" y="2357.8" font-size="28" font-weight="bold" text-anchor="middle" textLength="190.9" lengthAdjust="spacingAndGlyphs" transform="rotate(-90 402.1 2357.8) translate(402.1 2357.8) scale(1 1.04) translate(-402.1 -2357.8)">TNF-<tspan font-family="Liberation Serif, serif" font-weight="normal">α</tspan> (pg/pad)</text>
</svg></body></html>
